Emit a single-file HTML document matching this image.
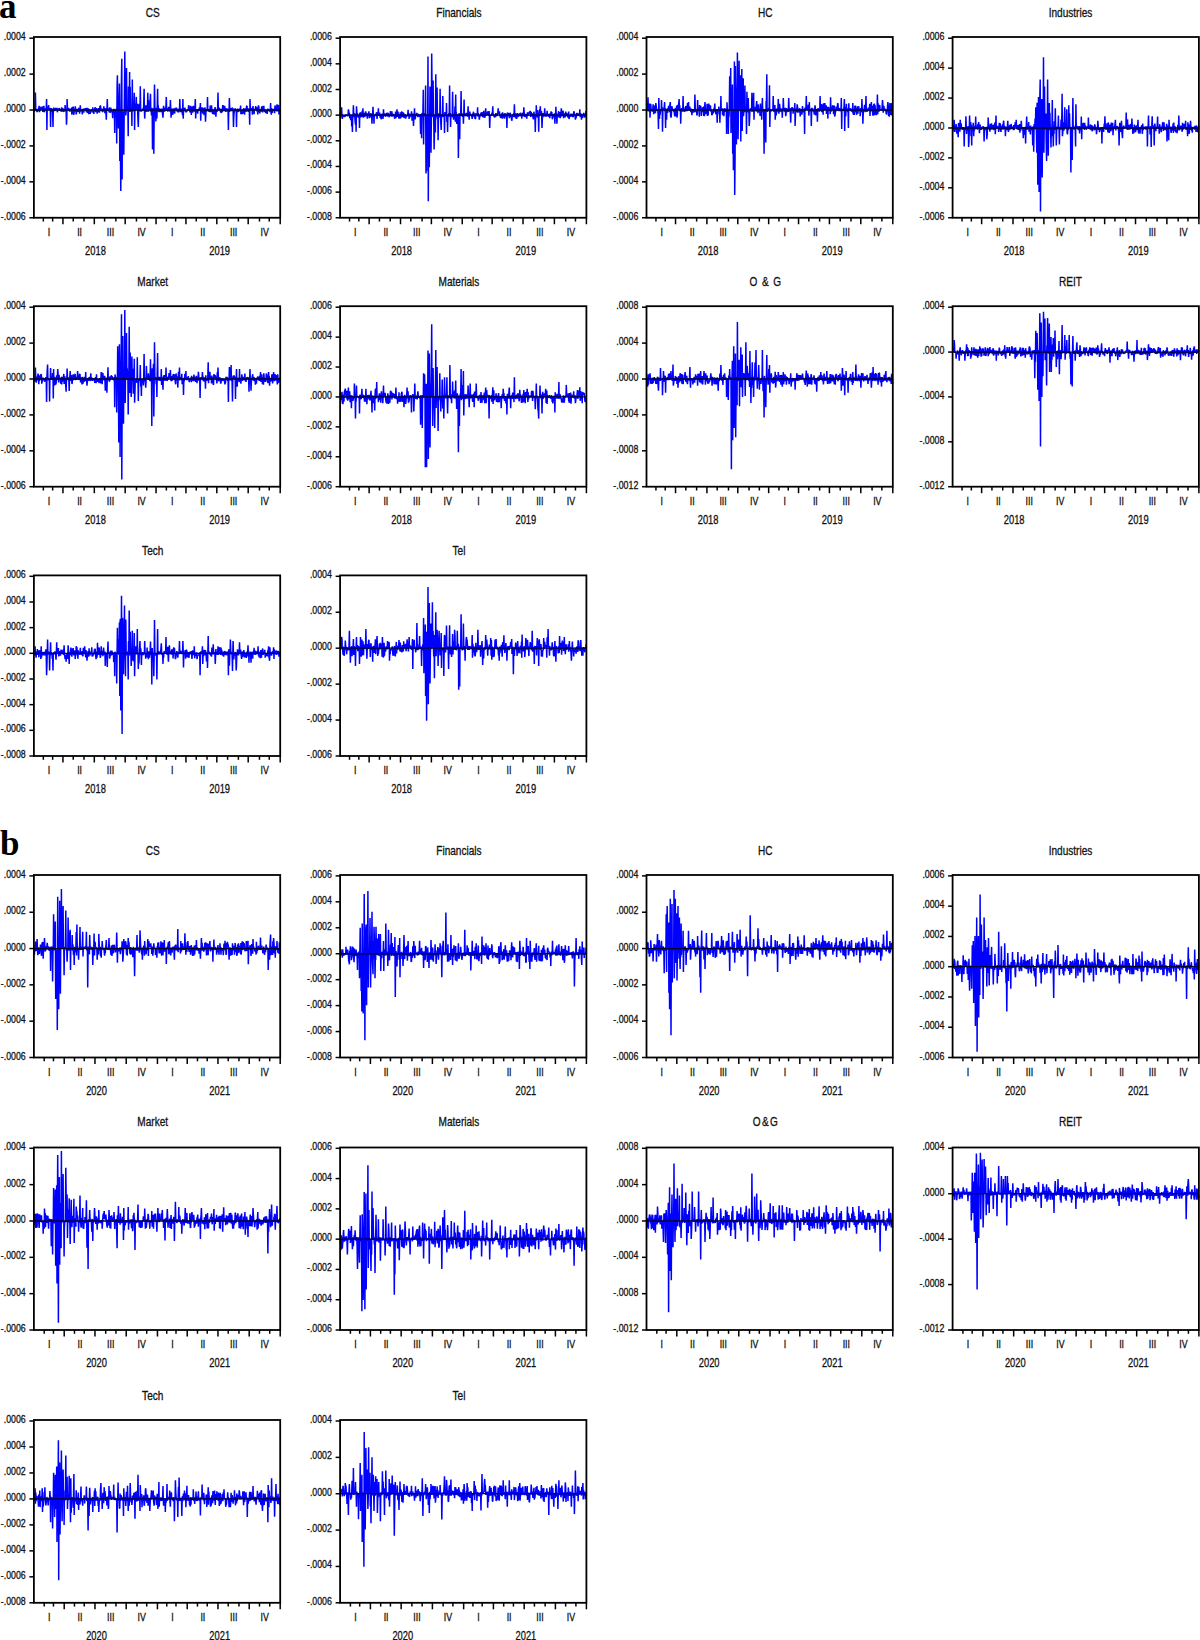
<!DOCTYPE html><html><head><meta charset="utf-8"><style>
html,body{margin:0;padding:0;background:#fff;overflow:hidden;width:1200px;height:1640px;}
svg{display:block;}
.t{font-size:12.6px;}
.yl{font-size:11px;}
.r{font-size:11px;}
.yr{font-size:12.2px;}
text{font-family:"Liberation Sans",sans-serif;fill:#111;stroke:#111;stroke-width:0.3px;}
.big{font-family:"Liberation Serif",serif;font-weight:bold;font-size:35px;fill:#000;stroke:none;}
.f{fill:none;stroke:#000;stroke-width:1.8;}
.k{stroke:#000;stroke-width:1.5;}
.z{stroke:#000028;stroke-width:1.3;}
.d{fill:none;stroke:#0000ff;stroke-width:1.5;stroke-linejoin:bevel;}
</style></head><body><svg width="1200" height="1640" viewBox="0 0 1200 1640"><text x="-1" y="17.6" class="big">a</text>
<text x="0" y="855.3" class="big">b</text>
<text transform="translate(152.75 17.00) scale(0.8 1)" class="t" text-anchor="middle">CS</text>
<polyline class="d" points="34.1,110.8 34.4,111.6 34.7,109.2 35.1,110.3 35.4,92.4 35.8,109.7 36.1,110.5 36.4,109.3 36.8,111.4 37.1,111.5 37.4,112.0 37.8,108.9 38.1,110.0 38.5,110.3 38.8,107.9 39.1,105.9 39.5,112.2 39.8,110.3 40.1,108.4 40.5,109.8 40.8,107.4 41.2,107.0 41.5,107.6 41.8,109.0 42.2,106.8 42.5,109.5 42.8,111.9 43.2,106.0 43.5,110.6 43.9,105.9 44.2,111.4 44.5,112.2 44.9,108.4 45.2,110.5 45.5,108.8 45.9,110.4 46.2,109.4 46.6,99.0 46.9,130.0 47.2,108.3 47.6,106.5 47.9,110.2 48.2,108.9 48.6,105.0 48.9,109.2 49.3,108.2 49.6,109.4 49.9,107.8 50.3,110.0 50.6,126.9 50.9,110.8 51.3,108.0 51.6,111.8 52.0,109.0 52.3,111.6 52.6,110.4 53.0,126.9 53.3,108.7 53.6,108.0 54.0,108.2 54.3,110.5 54.6,110.8 55.0,110.3 55.3,109.1 55.7,108.4 56.0,108.3 56.3,108.8 56.7,109.9 57.0,107.8 57.3,112.2 57.7,110.7 58.0,109.2 58.4,110.2 58.7,108.8 59.0,108.5 59.4,108.3 59.7,108.8 60.0,110.8 60.4,110.1 60.7,109.8 61.1,110.6 61.4,111.8 61.7,107.4 62.1,110.2 62.4,111.5 62.7,109.9 63.1,108.3 63.4,111.6 63.8,111.4 64.1,110.6 64.4,111.0 64.8,111.2 65.1,105.0 65.4,109.0 65.8,109.8 66.1,109.0 66.5,124.8 66.8,118.3 67.1,99.0 67.5,109.9 67.8,109.8 68.1,110.2 68.5,107.9 68.8,110.1 69.2,108.6 69.5,111.6 69.8,110.0 70.2,111.1 70.5,110.7 70.8,110.1 71.2,108.5 71.5,108.5 71.9,114.6 72.2,107.0 72.5,110.1 72.9,111.7 73.2,106.5 73.5,113.7 73.9,114.7 74.2,111.5 74.6,111.0 74.9,110.4 75.2,106.4 75.6,108.1 75.9,110.5 76.2,114.4 76.6,112.5 76.9,109.6 77.3,109.8 77.6,109.3 77.9,111.8 78.3,109.5 78.6,107.9 78.9,111.3 79.3,109.8 79.6,113.8 80.0,109.3 80.3,105.2 80.6,111.5 81.0,110.5 81.3,109.7 81.6,109.2 82.0,110.3 82.3,114.4 82.7,110.9 83.0,111.3 83.3,108.5 83.7,112.6 84.0,110.9 84.3,109.7 84.7,108.6 85.0,110.3 85.4,109.1 85.7,108.2 86.0,108.5 86.4,112.1 86.7,111.1 87.0,107.8 87.4,112.9 87.7,111.2 88.1,110.0 88.4,108.2 88.7,114.1 89.1,109.3 89.4,111.2 89.7,110.1 90.1,113.8 90.4,112.8 90.8,112.0 91.1,110.5 91.4,110.0 91.8,111.4 92.1,109.5 92.4,111.7 92.8,107.2 93.1,113.0 93.5,111.3 93.8,113.8 94.1,111.1 94.5,110.3 94.8,108.6 95.1,107.5 95.5,108.0 95.8,112.3 96.1,108.5 96.5,109.7 96.8,108.1 97.2,113.7 97.5,109.7 97.8,112.3 98.2,110.5 98.5,110.7 98.8,108.2 99.2,110.4 99.5,112.6 99.9,106.0 100.2,108.9 100.5,105.3 100.9,109.9 101.2,111.0 101.5,110.0 101.9,108.5 102.2,111.0 102.6,111.5 102.9,112.0 103.2,110.0 103.6,108.9 103.9,106.4 104.2,110.9 104.6,108.1 104.9,113.3 105.3,110.8 105.6,108.4 105.9,110.6 106.3,119.7 106.6,111.3 106.9,110.3 107.3,99.0 107.6,110.8 108.0,109.8 108.3,108.3 108.6,108.9 109.0,111.4 109.3,112.3 109.6,107.3 110.0,110.5 110.3,112.9 110.7,107.8 111.0,109.0 111.3,112.2 111.7,110.3 112.0,110.5 112.3,111.8 112.7,118.3 113.0,111.0 113.4,111.0 113.7,109.3 114.0,109.3 114.4,111.2 114.7,133.1 115.0,112.0 115.4,110.5 115.7,110.8 116.1,111.4 116.4,108.7 116.7,143.4 117.1,86.5 117.4,75.2 117.7,108.1 118.1,108.7 118.4,128.5 118.8,110.2 119.1,96.5 119.4,83.5 119.8,161.0 120.1,110.8 120.4,149.3 120.8,191.0 121.1,110.1 121.5,74.6 121.8,58.7 122.1,179.6 122.5,110.6 122.8,114.8 123.1,112.1 123.5,115.5 123.8,154.8 124.2,110.3 124.5,87.6 124.8,51.5 125.2,108.3 125.5,106.6 125.8,115.4 126.2,110.9 126.5,68.0 126.9,109.7 127.2,109.4 127.5,108.6 127.9,110.9 128.2,136.2 128.5,86.6 128.9,110.5 129.2,109.4 129.6,72.1 129.9,112.0 130.2,87.0 130.6,111.4 130.9,108.3 131.2,108.4 131.6,109.6 131.9,125.9 132.3,79.4 132.6,109.8 132.9,108.7 133.3,111.5 133.6,109.5 133.9,109.3 134.3,92.8 134.6,130.0 135.0,103.6 135.3,109.0 135.6,110.4 136.0,105.8 136.3,96.9 136.6,107.9 137.0,108.6 137.3,103.9 137.6,109.4 138.0,121.2 138.3,126.9 138.7,109.7 139.0,103.7 139.3,111.3 139.7,109.1 140.0,110.3 140.3,86.2 140.7,110.5 141.0,111.6 141.4,109.8 141.7,111.2 142.0,110.5 142.4,110.1 142.7,109.2 143.0,108.5 143.4,110.3 143.7,105.5 144.1,88.7 144.4,109.1 144.7,118.6 145.1,110.7 145.4,105.3 145.7,112.0 146.1,109.3 146.4,111.8 146.8,105.3 147.1,108.9 147.4,108.7 147.8,92.8 148.1,112.1 148.4,100.0 148.8,110.0 149.1,109.1 149.5,110.4 149.8,110.9 150.1,100.6 150.5,93.8 150.8,111.7 151.1,108.4 151.5,115.5 151.8,108.0 152.2,109.0 152.5,149.6 152.8,108.7 153.2,109.3 153.5,109.9 153.8,153.8 154.2,110.5 154.5,84.5 154.9,108.2 155.2,110.9 155.5,111.8 155.9,121.4 156.2,108.9 156.5,107.9 156.9,118.6 157.2,108.6 157.6,88.7 157.9,109.6 158.2,105.2 158.6,111.6 158.9,110.4 159.2,112.2 159.6,108.3 159.9,110.4 160.3,112.0 160.6,109.0 160.9,111.1 161.3,108.8 161.6,112.2 161.9,110.9 162.3,108.5 162.6,114.7 163.0,117.6 163.3,109.6 163.6,105.9 164.0,110.1 164.3,111.8 164.6,107.8 165.0,108.9 165.3,110.7 165.7,110.8 166.0,105.1 166.3,96.9 166.7,110.7 167.0,109.8 167.3,108.4 167.7,111.2 168.0,111.1 168.4,108.6 168.7,106.8 169.0,109.5 169.4,110.9 169.7,110.3 170.0,111.7 170.4,100.0 170.7,108.2 171.1,117.6 171.4,108.8 171.7,111.8 172.1,108.6 172.4,111.1 172.7,114.9 173.1,109.4 173.4,108.6 173.8,112.8 174.1,108.8 174.4,113.5 174.8,112.8 175.1,107.8 175.4,109.7 175.8,108.9 176.1,108.3 176.5,107.9 176.8,110.2 177.1,111.7 177.5,108.8 177.8,110.7 178.1,112.0 178.5,112.2 178.8,109.5 179.1,108.8 179.5,109.6 179.8,99.0 180.2,112.2 180.5,110.0 180.8,112.0 181.2,110.2 181.5,108.5 181.8,112.0 182.2,112.0 182.5,115.2 182.9,99.0 183.2,118.6 183.5,110.6 183.9,108.1 184.2,110.4 184.5,110.4 184.9,107.6 185.2,111.2 185.6,111.4 185.9,111.8 186.2,112.1 186.6,111.3 186.9,111.3 187.2,110.6 187.6,110.6 187.9,110.2 188.3,110.4 188.6,105.3 188.9,106.5 189.3,110.6 189.6,107.2 189.9,112.4 190.3,108.8 190.6,105.9 191.0,108.3 191.3,114.9 191.6,110.3 192.0,106.6 192.3,111.7 192.6,112.6 193.0,111.0 193.3,105.9 193.7,108.5 194.0,109.1 194.3,111.7 194.7,108.6 195.0,106.2 195.3,99.0 195.7,118.6 196.0,109.5 196.4,110.6 196.7,112.2 197.0,109.3 197.4,111.6 197.7,113.7 198.0,109.8 198.4,110.6 198.7,110.8 199.1,108.9 199.4,107.8 199.7,107.9 200.1,109.0 200.4,103.1 200.7,120.7 201.1,107.7 201.4,109.4 201.8,107.9 202.1,107.5 202.4,111.7 202.8,113.5 203.1,107.8 203.4,110.1 203.8,109.0 204.1,115.3 204.5,108.8 204.8,108.0 205.1,107.6 205.5,121.7 205.8,115.5 206.1,109.4 206.5,111.7 206.8,110.3 207.2,110.8 207.5,96.9 207.8,110.4 208.2,109.5 208.5,111.1 208.8,111.3 209.2,109.1 209.5,111.2 209.9,111.9 210.2,105.5 210.5,112.1 210.9,110.8 211.2,109.9 211.5,105.3 211.9,109.9 212.2,112.0 212.6,113.5 212.9,113.4 213.2,110.0 213.6,110.5 213.9,113.3 214.2,114.7 214.6,109.9 214.9,108.2 215.3,107.4 215.6,110.7 215.9,116.6 216.3,110.3 216.6,111.7 216.9,110.9 217.3,111.2 217.6,110.8 218.0,92.4 218.3,108.3 218.6,109.7 219.0,108.7 219.3,108.3 219.6,108.2 220.0,111.1 220.3,109.0 220.6,112.3 221.0,112.0 221.3,113.0 221.7,110.6 222.0,108.6 222.3,112.1 222.7,105.1 223.0,106.7 223.3,105.3 223.7,109.4 224.0,111.2 224.4,106.9 224.7,105.8 225.0,109.7 225.4,110.1 225.7,111.8 226.0,109.5 226.4,108.3 226.7,111.3 227.1,110.8 227.4,108.7 227.7,109.5 228.1,111.8 228.4,130.0 228.7,112.1 229.1,107.9 229.4,98.0 229.8,112.0 230.1,108.4 230.4,107.8 230.8,110.6 231.1,107.8 231.4,109.6 231.8,111.1 232.1,108.7 232.5,108.1 232.8,108.0 233.1,109.9 233.5,126.9 233.8,117.2 234.1,112.6 234.5,111.1 234.8,109.6 235.2,108.3 235.5,111.0 235.8,109.8 236.2,110.6 236.5,126.9 236.8,111.5 237.2,109.8 237.5,108.6 237.9,110.1 238.2,111.9 238.5,111.4 238.9,110.4 239.2,109.5 239.5,108.7 239.9,110.3 240.2,111.4 240.6,105.5 240.9,114.1 241.2,112.5 241.6,114.1 241.9,110.0 242.2,114.2 242.6,112.4 242.9,113.5 243.3,111.2 243.6,108.8 243.9,108.3 244.3,110.8 244.6,114.8 244.9,109.1 245.3,111.3 245.6,108.3 246.0,111.9 246.3,109.2 246.6,106.1 247.0,106.0 247.3,108.5 247.6,108.1 248.0,111.7 248.3,111.2 248.7,108.5 249.0,109.1 249.3,110.2 249.7,124.8 250.0,99.0 250.3,108.0 250.7,108.8 251.0,109.7 251.4,109.7 251.7,108.7 252.0,108.3 252.4,114.8 252.7,108.1 253.0,106.1 253.4,111.5 253.7,109.4 254.1,114.2 254.4,109.0 254.7,109.4 255.1,109.8 255.4,109.2 255.7,106.1 256.1,109.2 256.4,108.5 256.8,107.3 257.1,111.8 257.4,108.9 257.8,114.4 258.1,110.8 258.4,105.4 258.8,106.6 259.1,111.7 259.5,111.1 259.8,113.5 260.1,110.1 260.5,110.2 260.8,111.3 261.1,110.8 261.5,107.8 261.8,106.3 262.1,110.8 262.5,112.1 262.8,111.8 263.2,105.8 263.5,111.4 263.8,105.8 264.2,111.0 264.5,109.3 264.8,111.9 265.2,111.6 265.5,112.2 265.9,113.0 266.2,111.5 266.5,110.2 266.9,110.6 267.2,113.9 267.5,110.0 267.9,108.8 268.2,109.7 268.6,110.1 268.9,110.6 269.2,110.8 269.6,110.9 269.9,110.5 270.2,112.2 270.6,103.1 270.9,111.7 271.3,114.7 271.6,108.2 271.9,110.3 272.3,112.9 272.6,110.3 272.9,111.1 273.3,109.7 273.6,109.5 274.0,110.3 274.3,108.5 274.6,113.1 275.0,105.5 275.3,106.7 275.6,110.9 276.0,108.3 276.3,106.8 276.7,111.5 277.0,104.2 277.3,108.5 277.7,108.6 278.0,111.5 278.3,106.0 278.7,105.1 279.0,114.5 279.4,110.8 279.7,111.5 280.0,108.0"/>
<line x1="33.90" y1="110.02" x2="280.20" y2="110.02" class="z"/>
<rect x="33.90" y="37.00" width="246.30" height="180.75" class="f"/>
<line x1="29.40" y1="38.20" x2="33.90" y2="38.20" class="k"/>
<text transform="translate(25.70 40.20) scale(0.8 1)" class="yl" text-anchor="end">.0004</text>
<line x1="29.40" y1="74.11" x2="33.90" y2="74.11" class="k"/>
<text transform="translate(25.70 76.11) scale(0.8 1)" class="yl" text-anchor="end">.0002</text>
<line x1="29.40" y1="110.02" x2="33.90" y2="110.02" class="k"/>
<text transform="translate(25.70 112.02) scale(0.8 1)" class="yl" text-anchor="end">.0000</text>
<line x1="29.40" y1="145.93" x2="33.90" y2="145.93" class="k"/>
<text transform="translate(25.70 147.93) scale(0.8 1)" class="yl" text-anchor="end">-.0002</text>
<line x1="29.40" y1="181.84" x2="33.90" y2="181.84" class="k"/>
<text transform="translate(25.70 183.84) scale(0.8 1)" class="yl" text-anchor="end">-.0004</text>
<line x1="29.40" y1="217.75" x2="33.90" y2="217.75" class="k"/>
<text transform="translate(25.70 219.75) scale(0.8 1)" class="yl" text-anchor="end">-.0006</text>
<line x1="43.34" y1="217.75" x2="43.34" y2="221.55" class="k"/>
<line x1="52.65" y1="217.75" x2="52.65" y2="221.55" class="k"/>
<line x1="62.94" y1="217.75" x2="62.94" y2="224.25" class="k"/>
<line x1="73.23" y1="217.75" x2="73.23" y2="221.55" class="k"/>
<line x1="84.02" y1="217.75" x2="84.02" y2="221.55" class="k"/>
<line x1="94.31" y1="217.75" x2="94.31" y2="224.25" class="k"/>
<line x1="104.60" y1="217.75" x2="104.60" y2="221.55" class="k"/>
<line x1="115.87" y1="217.75" x2="115.87" y2="221.55" class="k"/>
<line x1="125.18" y1="217.75" x2="125.18" y2="224.25" class="k"/>
<line x1="136.45" y1="217.75" x2="136.45" y2="221.55" class="k"/>
<line x1="146.74" y1="217.75" x2="146.74" y2="221.55" class="k"/>
<line x1="156.05" y1="217.75" x2="156.05" y2="224.25" class="k"/>
<line x1="166.35" y1="217.75" x2="166.35" y2="221.55" class="k"/>
<line x1="175.66" y1="217.75" x2="175.66" y2="221.55" class="k"/>
<line x1="185.95" y1="217.75" x2="185.95" y2="224.25" class="k"/>
<line x1="196.24" y1="217.75" x2="196.24" y2="221.55" class="k"/>
<line x1="207.02" y1="217.75" x2="207.02" y2="221.55" class="k"/>
<line x1="216.82" y1="217.75" x2="216.82" y2="224.25" class="k"/>
<line x1="227.60" y1="217.75" x2="227.60" y2="221.55" class="k"/>
<line x1="238.38" y1="217.75" x2="238.38" y2="221.55" class="k"/>
<line x1="248.19" y1="217.75" x2="248.19" y2="224.25" class="k"/>
<line x1="259.46" y1="217.75" x2="259.46" y2="221.55" class="k"/>
<line x1="269.26" y1="217.75" x2="269.26" y2="221.55" class="k"/>
<line x1="280.20" y1="217.75" x2="280.20" y2="224.25" class="k"/>
<text transform="translate(49.08 235.95) scale(0.8 1)" class="r" text-anchor="middle">I</text>
<text transform="translate(79.62 235.95) scale(0.8 1)" class="r" text-anchor="middle">II</text>
<text transform="translate(110.49 235.95) scale(0.8 1)" class="r" text-anchor="middle">III</text>
<text transform="translate(141.53 235.95) scale(0.8 1)" class="r" text-anchor="middle">IV</text>
<text transform="translate(95.47 254.75) scale(0.765 1)" class="yr" text-anchor="middle">2018</text>
<text transform="translate(172.23 235.95) scale(0.8 1)" class="r" text-anchor="middle">I</text>
<text transform="translate(202.77 235.95) scale(0.8 1)" class="r" text-anchor="middle">II</text>
<text transform="translate(233.64 235.95) scale(0.8 1)" class="r" text-anchor="middle">III</text>
<text transform="translate(264.68 235.95) scale(0.8 1)" class="r" text-anchor="middle">IV</text>
<text transform="translate(219.63 254.75) scale(0.765 1)" class="yr" text-anchor="middle">2019</text>
<text transform="translate(458.95 17.00) scale(0.8 1)" class="t" text-anchor="middle">Financials</text>
<polyline class="d" points="340.3,112.5 340.6,117.2 340.9,114.9 341.3,113.1 341.6,107.3 342.0,116.8 342.3,119.0 342.6,114.6 343.0,117.0 343.3,116.4 343.6,116.6 344.0,115.1 344.3,116.8 344.7,116.1 345.0,116.9 345.3,115.5 345.7,114.7 346.0,115.1 346.3,114.5 346.7,115.6 347.0,115.6 347.4,116.0 347.7,115.1 348.0,116.2 348.4,109.3 348.7,110.7 349.0,113.0 349.4,113.1 349.7,118.3 350.1,115.0 350.4,114.9 350.7,120.1 351.1,115.9 351.4,114.6 351.7,126.6 352.1,117.3 352.4,132.1 352.8,115.8 353.1,115.0 353.4,105.2 353.8,117.3 354.1,113.1 354.4,117.0 354.8,116.3 355.1,120.9 355.5,124.7 355.8,113.4 356.1,131.7 356.5,106.2 356.8,111.2 357.1,116.6 357.5,113.5 357.8,114.5 358.2,117.7 358.5,117.0 358.8,115.0 359.2,117.2 359.5,127.9 359.8,112.7 360.2,113.1 360.5,117.5 360.8,113.0 361.2,112.7 361.5,116.5 361.9,116.7 362.2,110.8 362.5,117.3 362.9,108.3 363.2,115.0 363.5,117.7 363.9,114.9 364.2,112.9 364.6,114.0 364.9,117.0 365.2,114.1 365.6,111.4 365.9,113.0 366.2,113.3 366.6,113.8 366.9,114.2 367.3,118.6 367.6,114.4 367.9,114.3 368.3,113.2 368.6,114.6 368.9,111.2 369.3,118.1 369.6,116.5 370.0,116.8 370.3,117.2 370.6,113.2 371.0,115.9 371.3,113.5 371.6,115.7 372.0,123.8 372.3,114.5 372.7,113.3 373.0,106.9 373.3,113.7 373.7,115.3 374.0,123.8 374.3,114.7 374.7,116.0 375.0,115.9 375.4,114.5 375.7,114.0 376.0,116.0 376.4,113.1 376.7,112.2 377.0,118.9 377.4,114.4 377.7,115.7 378.1,113.8 378.4,108.3 378.7,115.5 379.1,115.2 379.4,113.8 379.7,112.5 380.1,117.7 380.4,114.5 380.8,115.2 381.1,119.1 381.4,118.5 381.8,114.7 382.1,113.7 382.4,114.7 382.8,116.5 383.1,118.8 383.5,109.3 383.8,115.4 384.1,114.1 384.5,116.0 384.8,113.2 385.1,116.3 385.5,116.1 385.8,114.4 386.2,113.5 386.5,116.2 386.8,112.7 387.2,116.5 387.5,114.9 387.8,116.2 388.2,112.9 388.5,115.6 388.9,115.0 389.2,117.3 389.5,114.1 389.9,114.4 390.2,113.8 390.5,111.2 390.9,114.4 391.2,116.6 391.6,113.5 391.9,111.3 392.2,116.6 392.6,115.1 392.9,116.5 393.2,114.4 393.6,114.0 393.9,116.2 394.3,114.8 394.6,118.8 394.9,117.2 395.3,117.2 395.6,111.5 395.9,118.0 396.3,116.6 396.6,114.2 397.0,109.3 397.3,114.6 397.6,117.0 398.0,111.6 398.3,114.7 398.6,117.0 399.0,118.6 399.3,114.0 399.7,115.3 400.0,118.8 400.3,112.4 400.7,118.0 401.0,116.3 401.3,116.8 401.7,111.2 402.0,116.0 402.3,116.9 402.7,112.1 403.0,113.1 403.4,117.3 403.7,112.9 404.0,118.0 404.4,116.9 404.7,116.9 405.0,114.7 405.4,114.7 405.7,118.7 406.1,116.6 406.4,115.4 406.7,116.0 407.1,116.4 407.4,115.2 407.7,114.8 408.1,109.7 408.4,116.3 408.8,113.2 409.1,119.0 409.4,113.7 409.8,114.8 410.1,117.1 410.4,115.4 410.8,114.5 411.1,116.3 411.5,111.2 411.8,115.3 412.1,120.8 412.5,115.3 412.8,113.6 413.1,116.0 413.5,125.9 413.8,118.6 414.2,116.8 414.5,108.3 414.8,116.3 415.2,119.5 415.5,117.1 415.8,114.9 416.2,115.8 416.5,113.0 416.9,113.6 417.2,114.1 417.5,114.5 417.9,117.2 418.2,114.6 418.5,113.8 418.9,116.0 419.2,116.1 419.6,116.4 419.9,116.1 420.2,114.4 420.6,134.1 420.9,117.0 421.2,114.2 421.6,138.3 421.9,113.8 422.3,113.3 422.6,117.0 422.9,113.2 423.3,89.7 423.6,144.5 423.9,116.4 424.3,114.3 424.6,116.1 425.0,113.1 425.3,116.5 425.6,85.6 426.0,173.4 426.3,135.9 426.6,171.3 427.0,114.6 427.3,115.9 427.7,115.9 428.0,56.6 428.3,201.3 428.7,114.7 429.0,117.2 429.3,167.2 429.7,117.1 430.0,86.6 430.4,116.1 430.7,100.4 431.0,152.7 431.4,115.3 431.7,53.5 432.0,84.8 432.4,116.6 432.7,116.5 433.1,80.4 433.4,114.0 433.7,116.2 434.1,149.6 434.4,136.3 434.7,115.3 435.1,114.6 435.4,132.5 435.8,74.2 436.1,115.1 436.4,117.0 436.8,115.8 437.1,87.6 437.4,119.6 437.8,114.6 438.1,140.3 438.5,115.1 438.8,113.4 439.1,117.3 439.5,115.2 439.8,115.5 440.1,88.7 440.5,115.6 440.8,122.7 441.2,130.0 441.5,115.8 441.8,114.3 442.2,117.0 442.5,116.1 442.8,95.9 443.2,116.6 443.5,116.0 443.8,116.7 444.2,114.3 444.5,133.1 444.9,112.0 445.2,115.7 445.5,115.5 445.9,113.1 446.2,116.2 446.5,103.1 446.9,122.1 447.2,114.9 447.6,132.1 447.9,117.3 448.2,115.3 448.6,114.5 448.9,113.1 449.2,116.8 449.6,85.6 449.9,113.4 450.3,113.2 450.6,126.9 450.9,115.1 451.3,115.2 451.6,116.0 451.9,116.9 452.3,113.5 452.6,91.8 453.0,116.1 453.3,116.6 453.6,119.7 454.0,113.7 454.3,115.4 454.6,116.3 455.0,106.3 455.3,121.7 455.7,94.5 456.0,116.2 456.3,112.3 456.7,124.0 457.0,114.0 457.3,115.8 457.7,114.6 458.0,117.0 458.4,157.9 458.7,116.6 459.0,113.2 459.4,115.9 459.7,139.3 460.0,114.2 460.4,114.4 460.7,115.6 461.1,91.1 461.4,114.0 461.7,115.6 462.1,113.3 462.4,116.9 462.7,114.5 463.1,113.9 463.4,123.8 463.8,113.7 464.1,99.4 464.4,114.7 464.8,116.1 465.1,114.0 465.4,115.6 465.8,115.8 466.1,113.2 466.5,113.6 466.8,113.2 467.1,116.2 467.5,116.1 467.8,114.6 468.1,106.2 468.5,114.1 468.8,115.0 469.2,119.7 469.5,114.2 469.8,111.6 470.2,115.5 470.5,113.7 470.8,115.3 471.2,114.3 471.5,115.9 471.9,116.7 472.2,118.9 472.5,116.9 472.9,113.3 473.2,114.3 473.5,111.7 473.9,115.7 474.2,116.4 474.6,113.4 474.9,118.0 475.2,118.5 475.6,118.9 475.9,114.0 476.2,113.6 476.6,114.3 476.9,113.5 477.3,114.6 477.6,107.3 477.9,116.4 478.3,113.5 478.6,114.7 478.9,115.6 479.3,119.6 479.6,117.7 480.0,115.3 480.3,114.7 480.6,115.0 481.0,112.6 481.3,116.0 481.6,115.3 482.0,112.0 482.3,116.5 482.7,116.3 483.0,116.6 483.3,116.8 483.7,110.9 484.0,117.5 484.3,117.1 484.7,114.6 485.0,117.8 485.3,113.4 485.7,108.3 486.0,115.2 486.4,114.0 486.7,115.1 487.0,113.7 487.4,113.2 487.7,111.3 488.0,114.4 488.4,114.7 488.7,115.6 489.1,111.1 489.4,116.5 489.7,127.9 490.1,116.8 490.4,114.6 490.7,115.5 491.1,115.3 491.4,115.2 491.8,113.6 492.1,112.6 492.4,113.4 492.8,106.2 493.1,115.4 493.4,114.5 493.8,114.0 494.1,116.8 494.5,116.9 494.8,117.1 495.1,116.4 495.5,116.8 495.8,113.0 496.1,116.5 496.5,113.3 496.8,116.1 497.2,113.5 497.5,115.5 497.8,113.0 498.2,108.3 498.5,113.8 498.8,113.5 499.2,113.0 499.5,111.3 499.9,116.3 500.2,115.9 500.5,117.9 500.9,117.0 501.2,116.2 501.5,114.6 501.9,113.6 502.2,118.6 502.6,112.4 502.9,114.2 503.2,116.3 503.6,113.9 503.9,118.1 504.2,116.1 504.6,118.6 504.9,113.1 505.3,116.9 505.6,114.6 505.9,113.9 506.3,116.4 506.6,115.5 506.9,127.9 507.3,112.6 507.6,116.4 508.0,113.2 508.3,113.8 508.6,113.7 509.0,113.4 509.3,118.3 509.6,114.1 510.0,115.2 510.3,112.7 510.7,117.2 511.0,116.9 511.3,116.7 511.7,120.7 512.0,119.6 512.3,114.5 512.7,116.8 513.0,114.3 513.4,115.7 513.7,113.1 514.0,117.3 514.4,104.2 514.7,113.6 515.0,116.7 515.4,117.1 515.7,113.3 516.1,118.7 516.4,114.7 516.7,118.8 517.1,116.0 517.4,113.0 517.7,116.9 518.1,116.4 518.4,114.1 518.8,115.9 519.1,116.1 519.4,113.3 519.8,115.2 520.1,116.1 520.4,112.7 520.8,115.5 521.1,116.3 521.5,114.7 521.8,118.6 522.1,113.9 522.5,112.8 522.8,116.4 523.1,114.8 523.5,116.4 523.8,107.3 524.2,112.2 524.5,116.5 524.8,116.6 525.2,115.3 525.5,115.5 525.8,114.0 526.2,116.9 526.5,117.3 526.8,118.6 527.2,113.8 527.5,112.3 527.9,115.7 528.2,114.6 528.5,113.0 528.9,114.2 529.2,112.4 529.5,111.8 529.9,113.5 530.2,110.9 530.6,116.9 530.9,113.5 531.2,111.7 531.6,116.3 531.9,115.1 532.2,113.5 532.6,114.4 532.9,117.2 533.3,119.0 533.6,118.8 533.9,111.7 534.3,115.1 534.6,117.1 534.9,114.4 535.3,132.1 535.6,117.1 536.0,116.4 536.3,105.2 536.6,115.3 537.0,117.3 537.3,115.3 537.6,110.0 538.0,113.4 538.3,113.4 538.7,131.7 539.0,115.3 539.3,116.1 539.7,109.4 540.0,114.5 540.3,106.2 540.7,114.5 541.0,115.6 541.4,111.1 541.7,116.4 542.0,127.9 542.4,117.1 542.7,117.8 543.0,113.1 543.4,116.0 543.7,115.7 544.1,116.4 544.4,113.8 544.7,108.3 545.1,115.4 545.4,115.0 545.7,116.7 546.1,113.5 546.4,116.5 546.8,114.9 547.1,110.7 547.4,113.8 547.8,115.8 548.1,115.5 548.4,115.4 548.8,116.7 549.1,113.9 549.5,115.6 549.8,118.1 550.1,113.8 550.5,113.7 550.8,113.6 551.1,111.3 551.5,115.5 551.8,112.0 552.2,117.8 552.5,119.3 552.8,115.5 553.2,114.0 553.5,116.5 553.8,116.3 554.2,117.2 554.5,113.2 554.9,123.8 555.2,115.5 555.5,116.4 555.9,106.9 556.2,115.7 556.5,113.2 556.9,123.8 557.2,116.9 557.6,116.6 557.9,115.7 558.2,115.0 558.6,111.2 558.9,117.0 559.2,117.0 559.6,113.3 559.9,112.1 560.3,118.1 560.6,113.7 560.9,113.8 561.3,108.3 561.6,116.3 561.9,115.0 562.3,115.1 562.6,114.5 563.0,110.7 563.3,113.3 563.6,118.1 564.0,113.5 564.3,114.1 564.6,116.5 565.0,117.0 565.3,116.5 565.7,111.6 566.0,112.7 566.3,113.4 566.7,113.7 567.0,116.2 567.3,113.6 567.7,117.1 568.0,117.0 568.3,114.7 568.7,111.5 569.0,119.0 569.4,117.2 569.7,114.9 570.0,116.9 570.4,114.7 570.7,115.4 571.0,113.7 571.4,116.7 571.7,114.2 572.1,116.7 572.4,113.8 572.7,117.2 573.1,115.4 573.4,117.2 573.7,112.1 574.1,111.3 574.4,114.6 574.8,114.2 575.1,114.5 575.4,119.7 575.8,114.1 576.1,118.1 576.4,114.6 576.8,113.0 577.1,113.6 577.5,113.3 577.8,115.4 578.1,115.7 578.5,114.4 578.8,114.0 579.1,113.6 579.5,114.1 579.8,109.3 580.2,117.3 580.5,113.3 580.8,114.0 581.2,114.3 581.5,119.6 581.8,116.5 582.2,114.4 582.5,117.9 582.9,114.2 583.2,115.6 583.5,113.1 583.9,113.4 584.2,114.8 584.5,117.7 584.9,114.4 585.2,117.0 585.6,114.8 585.9,111.0 586.2,116.5"/>
<line x1="340.10" y1="115.15" x2="586.40" y2="115.15" class="z"/>
<rect x="340.10" y="37.00" width="246.30" height="180.75" class="f"/>
<line x1="335.60" y1="38.20" x2="340.10" y2="38.20" class="k"/>
<text transform="translate(331.90 40.20) scale(0.8 1)" class="yl" text-anchor="end">.0006</text>
<line x1="335.60" y1="63.85" x2="340.10" y2="63.85" class="k"/>
<text transform="translate(331.90 65.85) scale(0.8 1)" class="yl" text-anchor="end">.0004</text>
<line x1="335.60" y1="89.50" x2="340.10" y2="89.50" class="k"/>
<text transform="translate(331.90 91.50) scale(0.8 1)" class="yl" text-anchor="end">.0002</text>
<line x1="335.60" y1="115.15" x2="340.10" y2="115.15" class="k"/>
<text transform="translate(331.90 117.15) scale(0.8 1)" class="yl" text-anchor="end">.0000</text>
<line x1="335.60" y1="140.80" x2="340.10" y2="140.80" class="k"/>
<text transform="translate(331.90 142.80) scale(0.8 1)" class="yl" text-anchor="end">-.0002</text>
<line x1="335.60" y1="166.45" x2="340.10" y2="166.45" class="k"/>
<text transform="translate(331.90 168.45) scale(0.8 1)" class="yl" text-anchor="end">-.0004</text>
<line x1="335.60" y1="192.10" x2="340.10" y2="192.10" class="k"/>
<text transform="translate(331.90 194.10) scale(0.8 1)" class="yl" text-anchor="end">-.0006</text>
<line x1="335.60" y1="217.75" x2="340.10" y2="217.75" class="k"/>
<text transform="translate(331.90 219.75) scale(0.8 1)" class="yl" text-anchor="end">-.0008</text>
<line x1="349.54" y1="217.75" x2="349.54" y2="221.55" class="k"/>
<line x1="358.85" y1="217.75" x2="358.85" y2="221.55" class="k"/>
<line x1="369.14" y1="217.75" x2="369.14" y2="224.25" class="k"/>
<line x1="379.43" y1="217.75" x2="379.43" y2="221.55" class="k"/>
<line x1="390.22" y1="217.75" x2="390.22" y2="221.55" class="k"/>
<line x1="400.51" y1="217.75" x2="400.51" y2="224.25" class="k"/>
<line x1="410.80" y1="217.75" x2="410.80" y2="221.55" class="k"/>
<line x1="422.07" y1="217.75" x2="422.07" y2="221.55" class="k"/>
<line x1="431.38" y1="217.75" x2="431.38" y2="224.25" class="k"/>
<line x1="442.65" y1="217.75" x2="442.65" y2="221.55" class="k"/>
<line x1="452.94" y1="217.75" x2="452.94" y2="221.55" class="k"/>
<line x1="462.25" y1="217.75" x2="462.25" y2="224.25" class="k"/>
<line x1="472.55" y1="217.75" x2="472.55" y2="221.55" class="k"/>
<line x1="481.86" y1="217.75" x2="481.86" y2="221.55" class="k"/>
<line x1="492.15" y1="217.75" x2="492.15" y2="224.25" class="k"/>
<line x1="502.44" y1="217.75" x2="502.44" y2="221.55" class="k"/>
<line x1="513.22" y1="217.75" x2="513.22" y2="221.55" class="k"/>
<line x1="523.02" y1="217.75" x2="523.02" y2="224.25" class="k"/>
<line x1="533.80" y1="217.75" x2="533.80" y2="221.55" class="k"/>
<line x1="544.58" y1="217.75" x2="544.58" y2="221.55" class="k"/>
<line x1="554.39" y1="217.75" x2="554.39" y2="224.25" class="k"/>
<line x1="565.66" y1="217.75" x2="565.66" y2="221.55" class="k"/>
<line x1="575.46" y1="217.75" x2="575.46" y2="221.55" class="k"/>
<line x1="586.40" y1="217.75" x2="586.40" y2="224.25" class="k"/>
<text transform="translate(355.28 235.95) scale(0.8 1)" class="r" text-anchor="middle">I</text>
<text transform="translate(385.82 235.95) scale(0.8 1)" class="r" text-anchor="middle">II</text>
<text transform="translate(416.69 235.95) scale(0.8 1)" class="r" text-anchor="middle">III</text>
<text transform="translate(447.73 235.95) scale(0.8 1)" class="r" text-anchor="middle">IV</text>
<text transform="translate(401.68 254.75) scale(0.765 1)" class="yr" text-anchor="middle">2018</text>
<text transform="translate(478.43 235.95) scale(0.8 1)" class="r" text-anchor="middle">I</text>
<text transform="translate(508.97 235.95) scale(0.8 1)" class="r" text-anchor="middle">II</text>
<text transform="translate(539.84 235.95) scale(0.8 1)" class="r" text-anchor="middle">III</text>
<text transform="translate(570.88 235.95) scale(0.8 1)" class="r" text-anchor="middle">IV</text>
<text transform="translate(525.83 254.75) scale(0.765 1)" class="yr" text-anchor="middle">2019</text>
<text transform="translate(765.35 17.00) scale(0.8 1)" class="t" text-anchor="middle">HC</text>
<polyline class="d" points="646.7,103.2 647.0,107.0 647.3,109.5 647.7,109.9 648.0,97.3 648.4,111.5 648.7,108.5 649.0,111.4 649.4,110.0 649.7,103.5 650.0,117.6 650.4,108.9 650.7,103.9 651.1,108.4 651.4,109.6 651.7,109.4 652.1,111.6 652.4,109.0 652.7,111.1 653.1,104.4 653.4,110.3 653.8,114.1 654.1,109.8 654.4,105.6 654.8,110.3 655.1,107.8 655.4,113.2 655.8,103.1 656.1,105.1 656.5,108.4 656.8,110.9 657.1,109.3 657.5,111.4 657.8,111.0 658.1,113.9 658.5,129.0 658.8,98.0 659.2,110.4 659.5,119.0 659.8,111.7 660.2,114.6 660.5,110.0 660.8,110.1 661.2,111.4 661.5,100.0 661.9,110.7 662.2,108.5 662.5,131.7 662.9,108.9 663.2,107.6 663.5,108.4 663.9,109.9 664.2,108.4 664.6,102.1 664.9,111.5 665.2,108.1 665.6,127.9 665.9,110.0 666.2,110.9 666.6,119.8 666.9,109.8 667.2,108.6 667.6,113.0 667.9,108.3 668.3,108.3 668.6,105.8 668.9,110.5 669.3,107.7 669.6,112.1 669.9,104.7 670.3,102.1 670.6,115.9 671.0,117.6 671.3,115.9 671.6,110.0 672.0,106.2 672.3,109.6 672.6,108.7 673.0,110.7 673.3,109.7 673.7,111.5 674.0,110.7 674.3,112.7 674.7,116.5 675.0,109.3 675.3,108.5 675.7,108.3 676.0,116.4 676.4,110.6 676.7,105.6 677.0,117.6 677.4,114.5 677.7,104.7 678.0,110.0 678.4,108.8 678.7,104.0 679.1,99.0 679.4,108.0 679.7,105.2 680.1,111.4 680.4,110.0 680.7,123.8 681.1,110.0 681.4,109.1 681.8,108.4 682.1,109.2 682.4,111.6 682.8,109.0 683.1,95.9 683.4,110.5 683.8,107.3 684.1,111.7 684.5,111.2 684.8,111.5 685.1,110.7 685.5,111.1 685.8,106.1 686.1,110.5 686.5,105.7 686.8,110.8 687.2,110.8 687.5,103.1 687.8,108.1 688.2,106.9 688.5,102.1 688.8,110.3 689.2,109.7 689.5,106.9 689.9,107.3 690.2,110.9 690.5,108.9 690.9,112.1 691.2,108.6 691.5,110.3 691.9,115.3 692.2,111.6 692.6,112.0 692.9,109.1 693.2,110.7 693.6,112.2 693.9,111.8 694.2,111.3 694.6,110.4 694.9,94.5 695.3,108.9 695.6,111.2 695.9,112.0 696.3,110.7 696.6,111.7 696.9,115.5 697.3,113.5 697.6,100.0 698.0,111.1 698.3,110.1 698.6,108.8 699.0,108.9 699.3,116.8 699.6,105.0 700.0,109.4 700.3,109.4 700.7,105.8 701.0,108.1 701.3,115.9 701.7,108.9 702.0,111.4 702.3,111.1 702.7,107.9 703.0,107.7 703.4,111.2 703.7,115.9 704.0,106.2 704.4,116.3 704.7,106.1 705.0,102.1 705.4,110.9 705.7,114.0 706.1,113.3 706.4,111.3 706.7,112.5 707.1,103.8 707.4,116.0 707.7,108.7 708.1,115.5 708.4,111.6 708.7,103.6 709.1,105.4 709.4,110.6 709.8,109.4 710.1,109.1 710.4,105.4 710.8,110.0 711.1,112.0 711.4,109.5 711.8,115.2 712.1,114.5 712.5,113.9 712.8,110.6 713.1,113.0 713.5,112.7 713.8,108.6 714.1,109.6 714.5,107.5 714.8,103.6 715.2,111.9 715.5,110.4 715.8,114.3 716.2,110.9 716.5,110.0 716.8,110.0 717.2,122.8 717.5,110.5 717.9,109.3 718.2,110.7 718.5,110.5 718.9,106.7 719.2,114.1 719.5,110.4 719.9,122.8 720.2,111.3 720.6,110.4 720.9,95.9 721.2,109.1 721.6,109.5 721.9,108.7 722.2,108.7 722.6,115.1 722.9,109.0 723.3,109.6 723.6,111.2 723.9,116.2 724.3,110.0 724.6,108.2 724.9,111.9 725.3,108.6 725.6,111.8 726.0,111.1 726.3,109.4 726.6,134.1 727.0,102.2 727.3,109.1 727.6,112.2 728.0,109.7 728.3,134.1 728.7,111.0 729.0,116.6 729.3,107.9 729.7,76.3 730.0,108.5 730.3,110.6 730.7,68.0 731.0,133.1 731.4,105.2 731.7,110.6 732.0,113.0 732.4,84.5 732.7,153.8 733.0,111.7 733.4,170.3 733.7,108.8 734.1,136.2 734.4,61.4 734.7,195.1 735.1,155.5 735.4,65.9 735.7,87.3 736.1,110.5 736.4,144.5 736.8,111.0 737.1,128.2 737.4,52.5 737.8,111.9 738.1,139.3 738.4,108.6 738.8,108.3 739.1,60.8 739.5,111.0 739.8,109.7 740.1,110.8 740.5,75.2 740.8,141.4 741.1,94.8 741.5,128.0 741.8,69.0 742.2,131.0 742.5,110.6 742.8,111.2 743.2,78.3 743.5,116.2 743.8,111.8 744.2,110.5 744.5,110.6 744.9,85.6 745.2,112.1 745.5,109.6 745.9,106.7 746.2,109.5 746.5,134.1 746.9,91.8 747.2,109.8 747.6,112.0 747.9,111.8 748.2,98.0 748.6,110.7 748.9,111.1 749.2,125.9 749.6,119.3 749.9,110.4 750.2,109.7 750.6,108.6 750.9,109.3 751.3,108.2 751.6,111.8 751.9,92.8 752.3,110.1 752.6,108.6 752.9,110.1 753.3,111.8 753.6,92.8 754.0,119.7 754.3,108.7 754.6,106.9 755.0,110.3 755.3,108.4 755.6,110.4 756.0,111.3 756.3,105.4 756.7,101.1 757.0,111.8 757.3,108.7 757.7,104.2 758.0,113.3 758.3,104.6 758.7,110.1 759.0,108.8 759.4,111.9 759.7,108.8 760.0,116.0 760.4,103.5 760.7,111.4 761.0,106.3 761.4,111.7 761.7,119.7 762.1,105.4 762.4,98.0 762.7,112.1 763.1,110.4 763.4,109.4 763.7,109.6 764.1,153.8 764.4,110.3 764.8,114.0 765.1,109.1 765.4,126.2 765.8,142.4 766.1,101.0 766.4,108.7 766.8,74.2 767.1,110.6 767.5,111.8 767.8,110.7 768.1,108.7 768.5,109.9 768.8,108.1 769.1,110.5 769.5,85.2 769.8,126.9 770.2,109.2 770.5,111.6 770.8,111.0 771.2,110.7 771.5,110.7 771.8,110.8 772.2,110.1 772.5,109.7 772.9,108.7 773.2,95.9 773.5,109.2 773.9,111.5 774.2,111.7 774.5,109.6 774.9,105.1 775.2,119.7 775.6,112.2 775.9,109.1 776.2,115.4 776.6,108.5 776.9,112.4 777.2,110.1 777.6,110.8 777.9,108.7 778.3,99.0 778.6,110.7 778.9,113.7 779.3,107.3 779.6,103.9 779.9,107.9 780.3,111.8 780.6,108.1 781.0,110.7 781.3,111.4 781.6,108.8 782.0,111.4 782.3,117.6 782.6,109.1 783.0,108.1 783.3,98.0 783.7,108.2 784.0,107.9 784.3,111.7 784.7,108.0 785.0,112.0 785.3,107.9 785.7,116.1 786.0,114.7 786.4,108.2 786.7,111.0 787.0,112.1 787.4,108.8 787.7,111.2 788.0,112.0 788.4,107.9 788.7,98.0 789.1,107.7 789.4,111.5 789.7,109.9 790.1,108.1 790.4,114.9 790.7,122.8 791.1,110.8 791.4,109.5 791.7,108.8 792.1,107.1 792.4,108.7 792.8,108.7 793.1,113.8 793.4,108.8 793.8,108.9 794.1,110.6 794.4,110.6 794.8,103.1 795.1,125.9 795.5,114.1 795.8,108.6 796.1,111.3 796.5,110.1 796.8,112.2 797.1,104.4 797.5,106.5 797.8,112.7 798.2,108.6 798.5,112.3 798.8,111.6 799.2,110.2 799.5,109.5 799.8,108.3 800.2,116.4 800.5,110.6 800.9,109.1 801.2,111.4 801.5,110.0 801.9,114.8 802.2,109.7 802.5,106.0 802.9,111.8 803.2,111.8 803.6,110.7 803.9,110.2 804.2,109.4 804.6,134.1 804.9,107.8 805.2,108.1 805.6,109.5 805.9,109.7 806.3,95.9 806.6,107.8 806.9,109.6 807.3,108.7 807.6,108.0 807.9,108.3 808.3,104.7 808.6,111.8 809.0,115.7 809.3,102.1 809.6,109.3 810.0,111.3 810.3,108.8 810.6,110.7 811.0,111.1 811.3,125.9 811.7,108.1 812.0,108.4 812.3,111.4 812.7,108.3 813.0,110.7 813.3,110.2 813.7,111.7 814.0,112.2 814.4,114.6 814.7,110.0 815.0,105.3 815.4,107.8 815.7,115.5 816.0,111.1 816.4,109.2 816.7,111.8 817.1,110.0 817.4,121.7 817.7,111.8 818.1,108.2 818.4,110.1 818.7,109.3 819.1,111.2 819.4,111.2 819.8,109.3 820.1,95.9 820.4,110.0 820.8,110.3 821.1,111.1 821.4,104.1 821.8,112.1 822.1,111.3 822.5,110.8 822.8,104.5 823.1,114.8 823.5,103.3 823.8,105.3 824.1,110.1 824.5,108.9 824.8,103.1 825.2,106.6 825.5,108.5 825.8,109.7 826.2,105.4 826.5,113.9 826.8,109.0 827.2,110.3 827.5,106.9 827.9,118.6 828.2,106.8 828.5,110.7 828.9,109.3 829.2,107.6 829.5,110.8 829.9,109.1 830.2,114.2 830.6,97.3 830.9,111.9 831.2,107.1 831.6,108.6 831.9,108.1 832.2,109.3 832.6,105.2 832.9,108.1 833.2,108.6 833.6,114.1 833.9,108.4 834.3,105.5 834.6,115.0 834.9,116.5 835.3,112.6 835.6,111.7 835.9,110.5 836.3,106.7 836.6,109.6 837.0,110.4 837.3,109.0 837.6,103.3 838.0,103.7 838.3,109.2 838.6,109.1 839.0,111.1 839.3,108.0 839.7,109.2 840.0,108.8 840.3,111.2 840.7,110.4 841.0,109.4 841.3,98.0 841.7,129.0 842.0,109.5 842.4,109.4 842.7,108.8 843.0,110.6 843.4,110.3 843.7,110.4 844.0,106.8 844.4,99.0 844.7,131.0 845.1,107.1 845.4,110.4 845.7,116.5 846.1,109.3 846.4,103.9 846.7,109.8 847.1,108.9 847.4,109.1 847.8,112.1 848.1,109.0 848.4,127.9 848.8,103.2 849.1,110.0 849.4,108.9 849.8,108.9 850.1,110.7 850.5,108.4 850.8,108.9 851.1,110.8 851.5,111.3 851.8,110.9 852.1,111.2 852.5,112.1 852.8,103.1 853.2,114.3 853.5,114.3 853.8,110.6 854.2,114.9 854.5,112.6 854.8,105.8 855.2,112.1 855.5,105.5 855.9,110.6 856.2,108.2 856.5,114.8 856.9,111.8 857.2,110.7 857.5,106.3 857.9,113.8 858.2,110.6 858.6,106.2 858.9,108.2 859.2,109.2 859.6,110.7 859.9,109.8 860.2,116.2 860.6,108.0 860.9,109.6 861.3,112.0 861.6,110.5 861.9,99.0 862.3,110.0 862.6,111.2 862.9,123.8 863.3,111.5 863.6,109.7 864.0,110.4 864.3,108.2 864.6,104.7 865.0,112.2 865.3,110.4 865.6,108.3 866.0,95.9 866.3,109.4 866.7,111.7 867.0,111.2 867.3,111.5 867.7,110.8 868.0,109.3 868.3,107.6 868.7,110.6 869.0,109.9 869.4,110.1 869.7,103.7 870.0,115.9 870.4,107.2 870.7,108.1 871.0,108.4 871.4,102.1 871.7,111.3 872.1,109.3 872.4,105.7 872.7,114.3 873.1,115.6 873.4,114.7 873.7,104.3 874.1,110.2 874.4,103.5 874.7,115.3 875.1,105.3 875.4,111.5 875.8,110.0 876.1,110.8 876.4,115.2 876.8,110.6 877.1,109.3 877.4,94.5 877.8,114.2 878.1,103.4 878.5,108.5 878.8,108.2 879.1,111.8 879.5,105.5 879.8,105.4 880.1,110.3 880.5,109.2 880.8,110.4 881.2,109.7 881.5,109.9 881.8,110.3 882.2,106.2 882.5,100.0 882.8,104.0 883.2,112.6 883.5,108.2 883.9,105.9 884.2,109.6 884.5,109.4 884.9,108.6 885.2,111.2 885.5,110.2 885.9,110.4 886.2,113.4 886.6,114.5 886.9,110.0 887.2,111.6 887.6,105.2 887.9,102.1 888.2,105.2 888.6,115.9 888.9,109.3 889.3,116.7 889.6,111.8 889.9,103.1 890.3,107.5 890.6,114.9 890.9,105.5 891.3,103.7 891.6,103.7 892.0,115.5 892.3,108.2 892.6,108.2"/>
<line x1="646.50" y1="110.02" x2="892.80" y2="110.02" class="z"/>
<rect x="646.50" y="37.00" width="246.30" height="180.75" class="f"/>
<line x1="642.00" y1="38.20" x2="646.50" y2="38.20" class="k"/>
<text transform="translate(638.30 40.20) scale(0.8 1)" class="yl" text-anchor="end">.0004</text>
<line x1="642.00" y1="74.11" x2="646.50" y2="74.11" class="k"/>
<text transform="translate(638.30 76.11) scale(0.8 1)" class="yl" text-anchor="end">.0002</text>
<line x1="642.00" y1="110.02" x2="646.50" y2="110.02" class="k"/>
<text transform="translate(638.30 112.02) scale(0.8 1)" class="yl" text-anchor="end">.0000</text>
<line x1="642.00" y1="145.93" x2="646.50" y2="145.93" class="k"/>
<text transform="translate(638.30 147.93) scale(0.8 1)" class="yl" text-anchor="end">-.0002</text>
<line x1="642.00" y1="181.84" x2="646.50" y2="181.84" class="k"/>
<text transform="translate(638.30 183.84) scale(0.8 1)" class="yl" text-anchor="end">-.0004</text>
<line x1="642.00" y1="217.75" x2="646.50" y2="217.75" class="k"/>
<text transform="translate(638.30 219.75) scale(0.8 1)" class="yl" text-anchor="end">-.0006</text>
<line x1="655.94" y1="217.75" x2="655.94" y2="221.55" class="k"/>
<line x1="665.25" y1="217.75" x2="665.25" y2="221.55" class="k"/>
<line x1="675.54" y1="217.75" x2="675.54" y2="224.25" class="k"/>
<line x1="685.83" y1="217.75" x2="685.83" y2="221.55" class="k"/>
<line x1="696.62" y1="217.75" x2="696.62" y2="221.55" class="k"/>
<line x1="706.91" y1="217.75" x2="706.91" y2="224.25" class="k"/>
<line x1="717.20" y1="217.75" x2="717.20" y2="221.55" class="k"/>
<line x1="728.47" y1="217.75" x2="728.47" y2="221.55" class="k"/>
<line x1="737.78" y1="217.75" x2="737.78" y2="224.25" class="k"/>
<line x1="749.05" y1="217.75" x2="749.05" y2="221.55" class="k"/>
<line x1="759.34" y1="217.75" x2="759.34" y2="221.55" class="k"/>
<line x1="768.65" y1="217.75" x2="768.65" y2="224.25" class="k"/>
<line x1="778.95" y1="217.75" x2="778.95" y2="221.55" class="k"/>
<line x1="788.26" y1="217.75" x2="788.26" y2="221.55" class="k"/>
<line x1="798.55" y1="217.75" x2="798.55" y2="224.25" class="k"/>
<line x1="808.84" y1="217.75" x2="808.84" y2="221.55" class="k"/>
<line x1="819.62" y1="217.75" x2="819.62" y2="221.55" class="k"/>
<line x1="829.42" y1="217.75" x2="829.42" y2="224.25" class="k"/>
<line x1="840.20" y1="217.75" x2="840.20" y2="221.55" class="k"/>
<line x1="850.98" y1="217.75" x2="850.98" y2="221.55" class="k"/>
<line x1="860.79" y1="217.75" x2="860.79" y2="224.25" class="k"/>
<line x1="872.06" y1="217.75" x2="872.06" y2="221.55" class="k"/>
<line x1="881.86" y1="217.75" x2="881.86" y2="221.55" class="k"/>
<line x1="892.80" y1="217.75" x2="892.80" y2="224.25" class="k"/>
<text transform="translate(661.68 235.95) scale(0.8 1)" class="r" text-anchor="middle">I</text>
<text transform="translate(692.22 235.95) scale(0.8 1)" class="r" text-anchor="middle">II</text>
<text transform="translate(723.09 235.95) scale(0.8 1)" class="r" text-anchor="middle">III</text>
<text transform="translate(754.13 235.95) scale(0.8 1)" class="r" text-anchor="middle">IV</text>
<text transform="translate(708.08 254.75) scale(0.765 1)" class="yr" text-anchor="middle">2018</text>
<text transform="translate(784.83 235.95) scale(0.8 1)" class="r" text-anchor="middle">I</text>
<text transform="translate(815.37 235.95) scale(0.8 1)" class="r" text-anchor="middle">II</text>
<text transform="translate(846.24 235.95) scale(0.8 1)" class="r" text-anchor="middle">III</text>
<text transform="translate(877.28 235.95) scale(0.8 1)" class="r" text-anchor="middle">IV</text>
<text transform="translate(832.23 254.75) scale(0.765 1)" class="yr" text-anchor="middle">2019</text>
<text transform="translate(1070.45 17.00) scale(0.8 1)" class="t" text-anchor="middle">Industries</text>
<polyline class="d" points="952.8,132.2 953.1,128.3 953.4,125.3 953.8,129.2 954.1,119.7 954.5,126.9 954.8,132.0 955.1,127.9 955.5,128.6 955.8,129.4 956.1,124.0 956.5,128.7 956.8,133.8 957.2,128.1 957.5,127.3 957.8,129.5 958.2,137.2 958.5,122.9 958.8,128.3 959.2,123.5 959.5,126.1 959.9,131.8 960.2,119.7 960.5,127.4 960.9,129.3 961.2,123.3 961.5,127.8 961.9,127.5 962.2,129.7 962.6,127.7 962.9,129.9 963.2,127.1 963.6,129.3 963.9,129.8 964.2,146.5 964.6,127.7 964.9,129.1 965.3,129.6 965.6,129.7 965.9,116.2 966.3,127.8 966.6,133.9 966.9,128.7 967.3,126.6 967.6,129.8 968.0,127.6 968.3,126.2 968.6,146.9 969.0,140.7 969.3,128.6 969.6,115.5 970.0,127.5 970.3,129.2 970.7,121.9 971.0,136.0 971.3,124.8 971.7,145.5 972.0,128.5 972.3,127.1 972.7,130.1 973.0,125.6 973.3,122.8 973.7,136.2 974.0,128.2 974.4,130.6 974.7,129.3 975.0,125.9 975.4,127.4 975.7,116.6 976.0,128.2 976.4,128.5 976.7,128.0 977.1,126.2 977.4,129.6 977.7,124.3 978.1,128.9 978.4,123.9 978.7,122.0 979.1,126.5 979.4,133.3 979.8,128.7 980.1,124.5 980.4,128.5 980.8,128.0 981.1,129.8 981.4,126.9 981.8,129.6 982.1,127.1 982.5,127.2 982.8,127.2 983.1,127.4 983.5,126.3 983.8,128.8 984.1,141.4 984.5,128.8 984.8,128.6 985.2,127.5 985.5,130.1 985.8,127.5 986.2,127.7 986.5,128.2 986.8,139.3 987.2,134.6 987.5,126.3 987.9,130.0 988.2,117.6 988.5,126.7 988.9,125.9 989.2,128.9 989.5,126.5 989.9,131.8 990.2,123.9 990.6,129.9 990.9,125.4 991.2,127.2 991.6,123.4 991.9,129.5 992.2,126.6 992.6,126.4 992.9,125.1 993.3,128.7 993.6,130.0 993.9,124.5 994.3,125.8 994.6,126.4 994.9,122.5 995.3,134.1 995.6,128.4 996.0,115.5 996.3,128.4 996.6,127.0 997.0,126.8 997.3,126.1 997.6,126.6 998.0,128.9 998.3,127.4 998.7,131.9 999.0,126.7 999.3,122.8 999.7,128.2 1000.0,129.5 1000.3,123.3 1000.7,130.9 1001.0,131.9 1001.4,125.8 1001.7,129.3 1002.0,125.8 1002.4,127.6 1002.7,124.3 1003.0,129.8 1003.4,122.1 1003.7,120.7 1004.1,128.8 1004.4,125.8 1004.7,129.4 1005.1,126.3 1005.4,136.2 1005.7,129.1 1006.1,129.5 1006.4,128.0 1006.8,130.0 1007.1,126.8 1007.4,125.9 1007.8,120.7 1008.1,128.7 1008.4,131.9 1008.8,129.9 1009.1,126.3 1009.5,126.5 1009.8,124.8 1010.1,129.4 1010.5,128.8 1010.8,126.3 1011.1,124.0 1011.5,125.9 1011.8,128.4 1012.2,129.0 1012.5,126.6 1012.8,128.3 1013.2,128.0 1013.5,130.2 1013.8,125.1 1014.2,130.0 1014.5,126.1 1014.8,127.2 1015.2,122.2 1015.5,126.8 1015.9,126.4 1016.2,119.7 1016.5,126.2 1016.9,128.1 1017.2,129.2 1017.5,128.7 1017.9,125.1 1018.2,130.0 1018.6,127.7 1018.9,126.7 1019.2,126.9 1019.6,124.1 1019.9,132.7 1020.2,126.5 1020.6,130.2 1020.9,129.9 1021.3,120.7 1021.6,127.2 1021.9,127.1 1022.3,128.1 1022.6,127.2 1022.9,129.5 1023.3,138.3 1023.6,130.1 1024.0,127.3 1024.3,134.7 1024.6,130.0 1025.0,128.7 1025.3,126.9 1025.6,143.4 1026.0,128.0 1026.3,126.0 1026.7,116.6 1027.0,129.9 1027.3,127.4 1027.7,129.1 1028.0,128.0 1028.3,128.0 1028.7,122.0 1029.0,131.7 1029.4,126.0 1029.7,128.8 1030.0,128.5 1030.4,134.4 1030.7,125.6 1031.0,130.2 1031.4,127.1 1031.7,128.3 1032.1,127.8 1032.4,130.1 1032.7,145.5 1033.1,126.3 1033.4,129.6 1033.7,151.7 1034.1,124.1 1034.4,128.6 1034.8,126.7 1035.1,118.5 1035.4,129.6 1035.8,107.3 1036.1,127.2 1036.4,128.8 1036.8,152.7 1037.1,102.7 1037.5,126.4 1037.8,184.8 1038.1,128.9 1038.5,96.9 1038.8,125.9 1039.1,192.0 1039.5,153.9 1039.8,98.1 1040.2,79.4 1040.5,211.6 1040.8,126.6 1041.2,129.6 1041.5,128.9 1041.8,99.0 1042.2,177.5 1042.5,127.5 1042.9,126.0 1043.2,127.8 1043.5,57.3 1043.9,152.7 1044.2,126.3 1044.5,86.6 1044.9,128.7 1045.2,128.7 1045.6,126.7 1045.9,113.5 1046.2,141.7 1046.6,161.0 1046.9,129.2 1047.2,147.8 1047.6,79.4 1047.9,126.6 1048.3,155.8 1048.6,127.8 1048.9,130.1 1049.3,103.1 1049.6,130.1 1049.9,112.8 1050.3,130.5 1050.6,129.7 1051.0,147.6 1051.3,128.9 1051.6,136.2 1052.0,125.4 1052.3,100.0 1052.6,126.2 1053.0,128.8 1053.3,146.5 1053.7,129.0 1054.0,134.0 1054.3,121.2 1054.7,129.9 1055.0,127.9 1055.3,108.3 1055.7,127.3 1056.0,126.2 1056.3,145.5 1056.7,129.5 1057.0,128.2 1057.4,129.0 1057.7,126.9 1058.0,129.4 1058.4,115.5 1058.7,128.3 1059.0,126.7 1059.4,144.5 1059.7,128.3 1060.1,129.0 1060.4,126.8 1060.7,129.9 1061.1,119.5 1061.4,126.4 1061.7,125.9 1062.1,93.8 1062.4,136.2 1062.8,132.2 1063.1,127.4 1063.4,122.4 1063.8,130.1 1064.1,130.0 1064.4,117.3 1064.8,107.3 1065.1,126.0 1065.5,127.2 1065.8,127.6 1066.1,127.2 1066.5,129.4 1066.8,109.3 1067.1,132.7 1067.5,134.4 1067.8,129.9 1068.2,129.5 1068.5,129.6 1068.8,105.2 1069.2,126.4 1069.5,113.3 1069.8,126.9 1070.2,127.2 1070.5,129.6 1070.9,172.4 1071.2,127.2 1071.5,128.5 1071.9,132.6 1072.2,160.0 1072.5,127.8 1072.9,98.0 1073.2,129.2 1073.6,125.9 1073.9,128.2 1074.2,129.6 1074.6,127.0 1074.9,129.3 1075.2,126.6 1075.6,146.5 1075.9,104.2 1076.3,127.7 1076.6,128.5 1076.9,127.9 1077.3,126.4 1077.6,126.5 1077.9,128.5 1078.3,130.1 1078.6,127.1 1079.0,128.3 1079.3,126.1 1079.6,133.5 1080.0,126.6 1080.3,129.9 1080.6,129.8 1081.0,129.6 1081.3,116.6 1081.7,139.3 1082.0,125.9 1082.3,125.9 1082.7,123.4 1083.0,127.9 1083.3,122.8 1083.7,128.3 1084.0,127.0 1084.4,129.8 1084.7,122.8 1085.0,127.8 1085.4,127.5 1085.7,125.6 1086.0,128.2 1086.4,129.7 1086.7,127.4 1087.1,127.6 1087.4,127.3 1087.7,126.4 1088.1,127.5 1088.4,117.6 1088.7,128.4 1089.1,128.5 1089.4,126.5 1089.8,126.4 1090.1,129.5 1090.4,124.5 1090.8,126.5 1091.1,130.2 1091.4,126.6 1091.8,125.1 1092.1,131.3 1092.5,127.9 1092.8,128.2 1093.1,126.5 1093.5,128.5 1093.8,127.8 1094.1,130.5 1094.5,126.6 1094.8,124.3 1095.2,126.9 1095.5,129.7 1095.8,129.4 1096.2,129.3 1096.5,134.1 1096.8,131.7 1097.2,126.8 1097.5,129.8 1097.8,120.7 1098.2,125.4 1098.5,129.8 1098.9,129.4 1099.2,129.3 1099.5,132.3 1099.9,127.9 1100.2,129.9 1100.5,129.8 1100.9,129.4 1101.2,130.1 1101.6,127.1 1101.9,143.4 1102.2,129.9 1102.6,128.2 1102.9,127.9 1103.2,128.6 1103.6,132.0 1103.9,128.1 1104.3,123.5 1104.6,128.4 1104.9,116.2 1105.3,126.1 1105.6,126.0 1105.9,129.8 1106.3,127.4 1106.6,129.4 1107.0,123.4 1107.3,128.7 1107.6,129.4 1108.0,132.4 1108.3,122.4 1108.6,125.8 1109.0,126.5 1109.3,133.0 1109.7,128.1 1110.0,125.0 1110.3,125.1 1110.7,129.9 1111.0,131.3 1111.3,122.6 1111.7,129.6 1112.0,126.6 1112.4,126.7 1112.7,122.8 1113.0,135.2 1113.4,126.3 1113.7,129.0 1114.0,128.4 1114.4,127.8 1114.7,127.0 1115.1,123.4 1115.4,119.7 1115.7,130.4 1116.1,128.6 1116.4,128.0 1116.7,126.0 1117.1,127.7 1117.4,126.8 1117.8,127.1 1118.1,129.4 1118.4,128.9 1118.8,133.1 1119.1,145.5 1119.4,128.7 1119.8,122.8 1120.1,128.4 1120.5,131.8 1120.8,127.2 1121.1,129.5 1121.5,120.7 1121.8,129.6 1122.1,134.2 1122.5,138.3 1122.8,129.1 1123.2,128.5 1123.5,125.9 1123.8,126.2 1124.2,128.3 1124.5,127.9 1124.8,126.7 1125.2,128.4 1125.5,126.9 1125.9,126.6 1126.2,112.4 1126.5,128.4 1126.9,126.3 1127.2,129.6 1127.5,119.4 1127.9,129.9 1128.2,127.8 1128.6,129.3 1128.9,128.5 1129.2,124.9 1129.6,127.0 1129.9,129.6 1130.2,126.3 1130.6,124.1 1130.9,128.0 1131.3,127.8 1131.6,126.5 1131.9,118.6 1132.3,127.0 1132.6,129.7 1132.9,134.0 1133.3,127.9 1133.6,133.0 1134.0,132.2 1134.3,124.6 1134.6,131.0 1135.0,129.3 1135.3,126.7 1135.6,132.1 1136.0,125.6 1136.3,126.4 1136.7,130.1 1137.0,128.8 1137.3,125.3 1137.7,125.0 1138.0,119.7 1138.3,130.7 1138.7,133.3 1139.0,127.1 1139.3,130.1 1139.7,127.3 1140.0,133.7 1140.4,128.0 1140.7,128.4 1141.0,129.0 1141.4,125.8 1141.7,125.8 1142.0,128.7 1142.4,133.9 1142.7,123.6 1143.1,130.0 1143.4,129.4 1143.7,127.2 1144.1,126.6 1144.4,127.6 1144.7,127.8 1145.1,128.8 1145.4,128.9 1145.8,126.4 1146.1,129.6 1146.4,127.7 1146.8,128.1 1147.1,126.3 1147.4,146.5 1147.8,126.9 1148.1,127.7 1148.5,115.5 1148.8,128.3 1149.1,127.3 1149.5,127.2 1149.8,127.4 1150.1,134.4 1150.5,132.9 1150.8,126.1 1151.2,146.9 1151.5,127.8 1151.8,125.9 1152.2,116.2 1152.5,127.0 1152.8,126.8 1153.2,128.2 1153.5,125.6 1153.9,127.2 1154.2,145.5 1154.5,126.5 1154.9,123.5 1155.2,127.4 1155.5,128.3 1155.9,131.2 1156.2,126.9 1156.6,128.0 1156.9,128.8 1157.2,126.6 1157.6,116.6 1157.9,127.7 1158.2,126.6 1158.6,128.8 1158.9,128.5 1159.3,133.8 1159.6,124.2 1159.9,126.5 1160.3,128.2 1160.6,128.3 1160.9,129.6 1161.3,132.2 1161.6,129.6 1162.0,125.9 1162.3,128.7 1162.6,122.3 1163.0,123.0 1163.3,128.7 1163.6,130.8 1164.0,122.2 1164.3,129.8 1164.7,127.0 1165.0,128.0 1165.3,128.3 1165.7,130.0 1166.0,129.0 1166.3,127.9 1166.7,123.7 1167.0,141.4 1167.4,126.2 1167.7,126.3 1168.0,135.2 1168.4,127.9 1168.7,140.3 1169.0,119.7 1169.4,127.9 1169.7,128.3 1170.1,126.7 1170.4,127.9 1170.7,129.0 1171.1,132.9 1171.4,129.8 1171.7,130.8 1172.1,127.5 1172.4,126.1 1172.8,127.4 1173.1,123.5 1173.4,133.0 1173.8,122.6 1174.1,130.7 1174.4,129.9 1174.8,126.1 1175.1,127.2 1175.5,130.3 1175.8,132.3 1176.1,129.8 1176.5,129.5 1176.8,131.7 1177.1,133.1 1177.5,129.1 1177.8,124.7 1178.2,129.9 1178.5,129.8 1178.8,115.5 1179.2,129.0 1179.5,127.7 1179.8,130.3 1180.2,126.0 1180.5,127.9 1180.8,125.6 1181.2,129.0 1181.5,125.8 1181.9,130.0 1182.2,131.8 1182.5,122.9 1182.9,126.7 1183.2,123.8 1183.5,129.8 1183.9,123.8 1184.2,127.9 1184.6,127.2 1184.9,126.5 1185.2,128.0 1185.6,120.7 1185.9,129.8 1186.2,127.7 1186.6,127.7 1186.9,127.1 1187.3,128.9 1187.6,136.2 1187.9,122.3 1188.3,126.9 1188.6,128.5 1188.9,131.4 1189.3,133.8 1189.6,124.4 1190.0,130.0 1190.3,124.2 1190.6,120.7 1191.0,129.2 1191.3,126.6 1191.6,130.4 1192.0,130.6 1192.3,132.6 1192.7,127.8 1193.0,127.7 1193.3,126.9 1193.7,128.5 1194.0,127.7 1194.3,127.2 1194.7,129.5 1195.0,125.7 1195.4,128.3 1195.7,126.6 1196.0,132.0 1196.4,126.0 1196.7,125.8 1197.0,128.3 1197.4,129.8 1197.7,132.2 1198.1,131.0 1198.4,129.7 1198.7,126.3"/>
<line x1="952.60" y1="127.98" x2="1198.90" y2="127.98" class="z"/>
<rect x="952.60" y="37.00" width="246.30" height="180.75" class="f"/>
<line x1="948.10" y1="38.20" x2="952.60" y2="38.20" class="k"/>
<text transform="translate(944.40 40.20) scale(0.8 1)" class="yl" text-anchor="end">.0006</text>
<line x1="948.10" y1="68.12" x2="952.60" y2="68.12" class="k"/>
<text transform="translate(944.40 70.12) scale(0.8 1)" class="yl" text-anchor="end">.0004</text>
<line x1="948.10" y1="98.05" x2="952.60" y2="98.05" class="k"/>
<text transform="translate(944.40 100.05) scale(0.8 1)" class="yl" text-anchor="end">.0002</text>
<line x1="948.10" y1="127.98" x2="952.60" y2="127.98" class="k"/>
<text transform="translate(944.40 129.98) scale(0.8 1)" class="yl" text-anchor="end">.0000</text>
<line x1="948.10" y1="157.90" x2="952.60" y2="157.90" class="k"/>
<text transform="translate(944.40 159.90) scale(0.8 1)" class="yl" text-anchor="end">-.0002</text>
<line x1="948.10" y1="187.83" x2="952.60" y2="187.83" class="k"/>
<text transform="translate(944.40 189.83) scale(0.8 1)" class="yl" text-anchor="end">-.0004</text>
<line x1="948.10" y1="217.75" x2="952.60" y2="217.75" class="k"/>
<text transform="translate(944.40 219.75) scale(0.8 1)" class="yl" text-anchor="end">-.0006</text>
<line x1="962.04" y1="217.75" x2="962.04" y2="221.55" class="k"/>
<line x1="971.35" y1="217.75" x2="971.35" y2="221.55" class="k"/>
<line x1="981.64" y1="217.75" x2="981.64" y2="224.25" class="k"/>
<line x1="991.93" y1="217.75" x2="991.93" y2="221.55" class="k"/>
<line x1="1002.72" y1="217.75" x2="1002.72" y2="221.55" class="k"/>
<line x1="1013.01" y1="217.75" x2="1013.01" y2="224.25" class="k"/>
<line x1="1023.30" y1="217.75" x2="1023.30" y2="221.55" class="k"/>
<line x1="1034.57" y1="217.75" x2="1034.57" y2="221.55" class="k"/>
<line x1="1043.88" y1="217.75" x2="1043.88" y2="224.25" class="k"/>
<line x1="1055.15" y1="217.75" x2="1055.15" y2="221.55" class="k"/>
<line x1="1065.44" y1="217.75" x2="1065.44" y2="221.55" class="k"/>
<line x1="1074.75" y1="217.75" x2="1074.75" y2="224.25" class="k"/>
<line x1="1085.05" y1="217.75" x2="1085.05" y2="221.55" class="k"/>
<line x1="1094.36" y1="217.75" x2="1094.36" y2="221.55" class="k"/>
<line x1="1104.65" y1="217.75" x2="1104.65" y2="224.25" class="k"/>
<line x1="1114.94" y1="217.75" x2="1114.94" y2="221.55" class="k"/>
<line x1="1125.72" y1="217.75" x2="1125.72" y2="221.55" class="k"/>
<line x1="1135.52" y1="217.75" x2="1135.52" y2="224.25" class="k"/>
<line x1="1146.30" y1="217.75" x2="1146.30" y2="221.55" class="k"/>
<line x1="1157.08" y1="217.75" x2="1157.08" y2="221.55" class="k"/>
<line x1="1166.89" y1="217.75" x2="1166.89" y2="224.25" class="k"/>
<line x1="1178.16" y1="217.75" x2="1178.16" y2="221.55" class="k"/>
<line x1="1187.96" y1="217.75" x2="1187.96" y2="221.55" class="k"/>
<line x1="1198.90" y1="217.75" x2="1198.90" y2="224.25" class="k"/>
<text transform="translate(967.78 235.95) scale(0.8 1)" class="r" text-anchor="middle">I</text>
<text transform="translate(998.32 235.95) scale(0.8 1)" class="r" text-anchor="middle">II</text>
<text transform="translate(1029.19 235.95) scale(0.8 1)" class="r" text-anchor="middle">III</text>
<text transform="translate(1060.23 235.95) scale(0.8 1)" class="r" text-anchor="middle">IV</text>
<text transform="translate(1014.18 254.75) scale(0.765 1)" class="yr" text-anchor="middle">2018</text>
<text transform="translate(1090.93 235.95) scale(0.8 1)" class="r" text-anchor="middle">I</text>
<text transform="translate(1121.47 235.95) scale(0.8 1)" class="r" text-anchor="middle">II</text>
<text transform="translate(1152.34 235.95) scale(0.8 1)" class="r" text-anchor="middle">III</text>
<text transform="translate(1183.38 235.95) scale(0.8 1)" class="r" text-anchor="middle">IV</text>
<text transform="translate(1138.33 254.75) scale(0.765 1)" class="yr" text-anchor="middle">2019</text>
<text transform="translate(152.75 286.20) scale(0.8 1)" class="t" text-anchor="middle">Market</text>
<polyline class="d" points="34.1,379.1 34.4,380.3 34.7,381.2 35.1,379.6 35.4,367.6 35.8,379.9 36.1,382.5 36.4,381.9 36.8,379.5 37.1,376.9 37.4,376.9 37.8,375.2 38.1,373.6 38.5,379.6 38.8,384.1 39.1,378.2 39.5,380.9 39.8,375.2 40.1,377.2 40.5,379.0 40.8,374.8 41.2,374.2 41.5,376.8 41.8,383.6 42.2,380.7 42.5,380.3 42.8,377.7 43.2,379.1 43.5,378.5 43.9,378.6 44.2,380.4 44.5,381.7 44.9,380.8 45.2,379.1 45.5,378.7 45.9,377.1 46.2,377.6 46.6,402.1 46.9,378.1 47.2,370.7 47.6,364.5 47.9,378.8 48.2,380.4 48.6,378.6 48.9,379.4 49.3,379.0 49.6,401.5 49.9,379.0 50.3,378.5 50.6,368.0 50.9,378.9 51.3,379.4 51.6,378.8 52.0,379.7 52.3,377.9 52.6,373.1 53.0,379.1 53.3,398.6 53.6,369.0 54.0,385.8 54.3,376.9 54.6,377.9 55.0,385.1 55.3,377.4 55.7,378.3 56.0,384.5 56.3,380.7 56.7,375.3 57.0,376.3 57.3,379.9 57.7,369.0 58.0,372.4 58.4,379.9 58.7,382.4 59.0,374.8 59.4,378.5 59.7,379.8 60.0,379.0 60.4,379.1 60.7,383.8 61.1,378.0 61.4,377.1 61.7,384.5 62.1,376.9 62.4,381.5 62.7,380.1 63.1,379.2 63.4,378.0 63.8,373.9 64.1,383.9 64.4,378.2 64.8,376.2 65.1,379.6 65.4,381.0 65.8,386.8 66.1,391.8 66.5,377.8 66.8,379.9 67.1,368.6 67.5,378.1 67.8,378.9 68.1,380.1 68.5,379.2 68.8,377.2 69.2,391.1 69.5,380.3 69.8,377.1 70.2,371.1 70.5,378.8 70.8,380.8 71.2,378.4 71.5,375.0 71.9,383.8 72.2,383.2 72.5,375.6 72.9,380.8 73.2,374.3 73.5,379.2 73.9,379.1 74.2,377.0 74.6,379.7 74.9,374.3 75.2,374.0 75.6,380.2 75.9,378.6 76.2,379.3 76.6,378.7 76.9,376.9 77.3,377.6 77.6,371.1 77.9,374.2 78.3,379.4 78.6,379.5 78.9,378.2 79.3,379.3 79.6,374.6 80.0,374.0 80.3,378.8 80.6,382.5 81.0,377.2 81.3,378.5 81.6,377.4 82.0,384.5 82.3,380.3 82.7,376.9 83.0,383.7 83.3,380.7 83.7,378.7 84.0,382.0 84.3,379.7 84.7,376.9 85.0,377.9 85.4,381.1 85.7,372.1 86.0,380.7 86.4,380.1 86.7,381.5 87.0,385.6 87.4,380.8 87.7,378.0 88.1,381.0 88.4,378.1 88.7,377.8 89.1,380.6 89.4,379.7 89.7,376.9 90.1,380.0 90.4,381.0 90.8,373.2 91.1,380.5 91.4,377.5 91.8,378.0 92.1,380.7 92.4,380.2 92.8,378.4 93.1,379.7 93.5,378.1 93.8,380.7 94.1,379.2 94.5,380.3 94.8,382.8 95.1,379.7 95.5,377.2 95.8,380.0 96.1,383.1 96.5,374.2 96.8,381.0 97.2,380.2 97.5,381.8 97.8,379.5 98.2,380.6 98.5,379.4 98.8,382.4 99.2,382.3 99.5,378.3 99.9,381.4 100.2,378.4 100.5,383.4 100.9,379.5 101.2,372.1 101.5,373.1 101.9,379.2 102.2,384.2 102.6,373.3 102.9,373.4 103.2,378.0 103.6,378.3 103.9,378.6 104.2,380.5 104.6,375.9 104.9,377.7 105.3,390.7 105.6,378.3 105.9,379.2 106.3,377.9 106.6,379.9 106.9,392.8 107.3,377.2 107.6,379.1 108.0,367.2 108.3,379.5 108.6,377.7 109.0,380.5 109.3,381.2 109.6,381.1 110.0,376.2 110.3,380.0 110.7,379.0 111.0,378.2 111.3,375.2 111.7,377.2 112.0,376.2 112.3,377.0 112.7,379.3 113.0,378.7 113.4,377.4 113.7,380.4 114.0,377.8 114.4,377.8 114.7,407.3 115.0,374.4 115.4,377.5 115.7,376.9 116.1,380.6 116.4,377.4 116.7,412.4 117.1,377.1 117.4,379.0 117.7,346.3 118.1,377.4 118.4,380.8 118.8,442.4 119.1,377.7 119.4,344.2 119.8,378.9 120.1,456.9 120.4,377.1 120.8,380.4 121.1,364.3 121.5,314.3 121.8,479.6 122.1,406.2 122.5,378.2 122.8,336.0 123.1,381.0 123.5,423.8 123.8,381.2 124.2,379.3 124.5,376.8 124.8,310.1 125.2,403.1 125.5,378.1 125.8,376.9 126.2,379.7 126.5,332.9 126.9,379.6 127.2,368.2 127.5,378.7 127.9,379.3 128.2,414.5 128.5,379.2 128.9,369.3 129.2,326.7 129.6,392.9 129.9,379.7 130.2,352.5 130.6,377.0 130.9,380.2 131.2,396.9 131.6,378.2 131.9,356.6 132.3,380.9 132.6,379.7 132.9,368.8 133.3,393.7 133.6,381.0 133.9,380.5 134.3,358.7 134.6,402.7 135.0,391.1 135.3,378.8 135.6,380.3 136.0,379.1 136.3,380.0 136.6,380.6 137.0,383.0 137.3,357.3 137.6,381.0 138.0,380.0 138.3,401.1 138.7,379.9 139.0,381.1 139.3,379.1 139.7,381.0 140.0,378.2 140.3,364.9 140.7,386.5 141.0,380.0 141.4,395.9 141.7,379.2 142.0,379.5 142.4,380.8 142.7,379.9 143.0,380.3 143.4,385.4 143.7,379.8 144.1,353.9 144.4,377.6 144.7,377.3 145.1,380.6 145.4,382.4 145.7,387.6 146.1,380.2 146.4,365.9 146.8,377.1 147.1,377.6 147.4,377.0 147.8,377.4 148.1,379.9 148.4,373.3 148.8,377.4 149.1,378.4 149.5,378.8 149.8,381.0 150.1,380.8 150.5,359.3 150.8,380.7 151.1,379.1 151.5,378.1 151.8,425.9 152.2,368.2 152.5,381.1 152.8,374.3 153.2,372.3 153.5,363.7 153.8,416.6 154.2,381.2 154.5,342.2 154.9,378.4 155.2,379.7 155.5,377.1 155.9,378.6 156.2,384.2 156.5,377.2 156.9,396.9 157.2,373.8 157.6,353.1 157.9,380.6 158.2,378.9 158.6,378.3 158.9,378.8 159.2,376.8 159.6,380.8 159.9,378.7 160.3,377.0 160.6,380.4 160.9,380.5 161.3,369.0 161.6,384.9 161.9,379.9 162.3,377.2 162.6,381.1 163.0,389.7 163.3,378.7 163.6,375.5 164.0,381.0 164.3,375.1 164.6,378.4 165.0,377.1 165.3,378.7 165.7,380.5 166.0,367.6 166.3,377.6 166.7,380.7 167.0,377.5 167.3,381.0 167.7,377.2 168.0,379.7 168.4,376.0 168.7,378.5 169.0,373.0 169.4,374.4 169.7,376.8 170.0,378.4 170.4,370.1 170.7,377.8 171.1,380.7 171.4,380.8 171.7,380.1 172.1,376.1 172.4,380.7 172.7,377.6 173.1,374.9 173.4,374.0 173.8,379.0 174.1,378.7 174.4,377.0 174.8,374.3 175.1,379.7 175.4,383.1 175.8,384.3 176.1,373.4 176.5,380.5 176.8,376.4 177.1,378.5 177.5,377.3 177.8,387.6 178.1,380.1 178.5,371.7 178.8,378.6 179.1,377.2 179.5,367.6 179.8,380.4 180.2,378.7 180.5,377.2 180.8,378.9 181.2,379.0 181.5,378.3 181.8,373.8 182.2,384.1 182.5,379.2 182.9,380.1 183.2,379.5 183.5,394.9 183.9,377.8 184.2,381.1 184.5,379.7 184.9,373.9 185.2,377.4 185.6,378.6 185.9,371.1 186.2,378.8 186.6,379.7 186.9,379.9 187.2,377.1 187.6,380.1 187.9,378.8 188.3,376.2 188.6,378.5 188.9,379.2 189.3,382.2 189.6,379.5 189.9,378.8 190.3,378.8 190.6,380.4 191.0,377.4 191.3,382.1 191.6,375.8 192.0,378.4 192.3,377.8 192.6,377.2 193.0,380.9 193.3,380.7 193.7,377.3 194.0,374.5 194.3,380.1 194.7,379.9 195.0,381.2 195.3,376.7 195.7,382.0 196.0,377.4 196.4,375.9 196.7,379.1 197.0,383.3 197.4,378.3 197.7,377.4 198.0,379.9 198.4,371.7 198.7,375.2 199.1,380.9 199.4,377.8 199.7,378.1 200.1,398.0 200.4,380.9 200.7,378.0 201.1,377.7 201.4,377.6 201.8,379.1 202.1,377.9 202.4,372.1 202.8,377.8 203.1,380.8 203.4,376.8 203.8,379.1 204.1,381.6 204.5,377.3 204.8,379.0 205.1,378.7 205.5,388.7 205.8,375.2 206.1,379.8 206.5,380.6 206.8,380.1 207.2,379.3 207.5,380.5 207.8,377.5 208.2,362.2 208.5,383.2 208.8,379.6 209.2,379.5 209.5,376.6 209.9,371.8 210.2,378.0 210.5,378.1 210.9,377.5 211.2,377.5 211.5,383.5 211.9,375.6 212.2,382.5 212.6,378.4 212.9,377.4 213.2,384.8 213.6,384.3 213.9,374.0 214.2,377.4 214.6,377.6 214.9,375.7 215.3,375.3 215.6,377.0 215.9,379.2 216.3,377.2 216.6,381.0 216.9,383.4 217.3,372.3 217.6,380.9 218.0,367.6 218.3,375.5 218.6,381.2 219.0,379.8 219.3,378.3 219.6,377.9 220.0,377.7 220.3,378.6 220.6,383.2 221.0,383.1 221.3,379.7 221.7,379.3 222.0,380.7 222.3,378.3 222.7,380.8 223.0,379.1 223.3,379.3 223.7,380.4 224.0,379.2 224.4,380.8 224.7,382.5 225.0,384.3 225.4,382.9 225.7,381.0 226.0,376.9 226.4,379.2 226.7,377.2 227.1,377.6 227.4,377.5 227.7,380.9 228.1,378.5 228.4,402.1 228.7,379.4 229.1,377.8 229.4,367.0 229.8,378.7 230.1,380.3 230.4,378.1 230.8,380.1 231.1,364.9 231.4,380.7 231.8,375.5 232.1,382.3 232.5,401.5 232.8,378.6 233.1,378.2 233.5,377.2 233.8,375.6 234.1,375.9 234.5,378.9 234.8,377.0 235.2,378.1 235.5,399.0 235.8,377.4 236.2,379.0 236.5,369.0 236.8,379.9 237.2,386.7 237.5,377.7 237.9,380.6 238.2,377.9 238.5,380.2 238.9,380.3 239.2,382.0 239.5,369.0 239.9,380.4 240.2,379.6 240.6,381.0 240.9,383.7 241.2,377.9 241.6,379.3 241.9,374.3 242.2,378.4 242.6,380.9 242.9,379.6 243.3,379.9 243.6,376.9 243.9,378.2 244.3,379.3 244.6,379.0 244.9,373.5 245.3,381.1 245.6,379.0 246.0,382.0 246.3,379.6 246.6,378.5 247.0,377.1 247.3,378.7 247.6,377.6 248.0,377.2 248.3,378.6 248.7,380.4 249.0,391.8 249.3,381.1 249.7,379.3 250.0,369.0 250.3,380.8 250.7,380.6 251.0,390.7 251.4,380.3 251.7,378.0 252.0,377.8 252.4,376.1 252.7,374.2 253.0,380.4 253.4,376.9 253.7,380.8 254.1,377.0 254.4,381.2 254.7,379.1 255.1,380.1 255.4,384.6 255.7,378.0 256.1,378.7 256.4,383.7 256.8,378.0 257.1,379.2 257.4,377.3 257.8,376.6 258.1,378.1 258.4,379.5 258.8,378.4 259.1,380.8 259.5,375.7 259.8,380.9 260.1,379.9 260.5,372.1 260.8,381.7 261.1,380.8 261.5,380.9 261.8,374.4 262.1,379.0 262.5,384.1 262.8,377.0 263.2,379.3 263.5,384.7 263.8,373.3 264.2,377.8 264.5,378.7 264.8,379.3 265.2,382.0 265.5,379.1 265.9,381.6 266.2,375.2 266.5,373.5 266.9,378.8 267.2,379.5 267.5,377.6 267.9,383.3 268.2,376.6 268.6,372.1 268.9,376.7 269.2,376.0 269.6,385.6 269.9,380.9 270.2,378.7 270.6,378.2 270.9,378.4 271.3,381.2 271.6,380.3 271.9,374.4 272.3,374.9 272.6,383.5 272.9,379.4 273.3,379.1 273.6,372.1 274.0,377.1 274.3,381.2 274.6,376.9 275.0,376.2 275.3,374.2 275.6,380.8 276.0,375.1 276.3,377.1 276.7,376.5 277.0,379.6 277.3,384.5 277.7,374.3 278.0,377.4 278.3,379.2 278.7,382.4 279.0,382.5 279.4,378.2 279.7,380.1 280.0,377.5"/>
<line x1="33.90" y1="379.00" x2="280.20" y2="379.00" class="z"/>
<rect x="33.90" y="306.20" width="246.30" height="180.50" class="f"/>
<line x1="29.40" y1="307.20" x2="33.90" y2="307.20" class="k"/>
<text transform="translate(25.70 309.20) scale(0.8 1)" class="yl" text-anchor="end">.0004</text>
<line x1="29.40" y1="343.10" x2="33.90" y2="343.10" class="k"/>
<text transform="translate(25.70 345.10) scale(0.8 1)" class="yl" text-anchor="end">.0002</text>
<line x1="29.40" y1="379.00" x2="33.90" y2="379.00" class="k"/>
<text transform="translate(25.70 381.00) scale(0.8 1)" class="yl" text-anchor="end">.0000</text>
<line x1="29.40" y1="414.90" x2="33.90" y2="414.90" class="k"/>
<text transform="translate(25.70 416.90) scale(0.8 1)" class="yl" text-anchor="end">-.0002</text>
<line x1="29.40" y1="450.80" x2="33.90" y2="450.80" class="k"/>
<text transform="translate(25.70 452.80) scale(0.8 1)" class="yl" text-anchor="end">-.0004</text>
<line x1="29.40" y1="486.70" x2="33.90" y2="486.70" class="k"/>
<text transform="translate(25.70 488.70) scale(0.8 1)" class="yl" text-anchor="end">-.0006</text>
<line x1="43.34" y1="486.70" x2="43.34" y2="490.50" class="k"/>
<line x1="52.65" y1="486.70" x2="52.65" y2="490.50" class="k"/>
<line x1="62.94" y1="486.70" x2="62.94" y2="493.20" class="k"/>
<line x1="73.23" y1="486.70" x2="73.23" y2="490.50" class="k"/>
<line x1="84.02" y1="486.70" x2="84.02" y2="490.50" class="k"/>
<line x1="94.31" y1="486.70" x2="94.31" y2="493.20" class="k"/>
<line x1="104.60" y1="486.70" x2="104.60" y2="490.50" class="k"/>
<line x1="115.87" y1="486.70" x2="115.87" y2="490.50" class="k"/>
<line x1="125.18" y1="486.70" x2="125.18" y2="493.20" class="k"/>
<line x1="136.45" y1="486.70" x2="136.45" y2="490.50" class="k"/>
<line x1="146.74" y1="486.70" x2="146.74" y2="490.50" class="k"/>
<line x1="156.05" y1="486.70" x2="156.05" y2="493.20" class="k"/>
<line x1="166.35" y1="486.70" x2="166.35" y2="490.50" class="k"/>
<line x1="175.66" y1="486.70" x2="175.66" y2="490.50" class="k"/>
<line x1="185.95" y1="486.70" x2="185.95" y2="493.20" class="k"/>
<line x1="196.24" y1="486.70" x2="196.24" y2="490.50" class="k"/>
<line x1="207.02" y1="486.70" x2="207.02" y2="490.50" class="k"/>
<line x1="216.82" y1="486.70" x2="216.82" y2="493.20" class="k"/>
<line x1="227.60" y1="486.70" x2="227.60" y2="490.50" class="k"/>
<line x1="238.38" y1="486.70" x2="238.38" y2="490.50" class="k"/>
<line x1="248.19" y1="486.70" x2="248.19" y2="493.20" class="k"/>
<line x1="259.46" y1="486.70" x2="259.46" y2="490.50" class="k"/>
<line x1="269.26" y1="486.70" x2="269.26" y2="490.50" class="k"/>
<line x1="280.20" y1="486.70" x2="280.20" y2="493.20" class="k"/>
<text transform="translate(49.08 504.90) scale(0.8 1)" class="r" text-anchor="middle">I</text>
<text transform="translate(79.62 504.90) scale(0.8 1)" class="r" text-anchor="middle">II</text>
<text transform="translate(110.49 504.90) scale(0.8 1)" class="r" text-anchor="middle">III</text>
<text transform="translate(141.53 504.90) scale(0.8 1)" class="r" text-anchor="middle">IV</text>
<text transform="translate(95.47 523.70) scale(0.765 1)" class="yr" text-anchor="middle">2018</text>
<text transform="translate(172.23 504.90) scale(0.8 1)" class="r" text-anchor="middle">I</text>
<text transform="translate(202.77 504.90) scale(0.8 1)" class="r" text-anchor="middle">II</text>
<text transform="translate(233.64 504.90) scale(0.8 1)" class="r" text-anchor="middle">III</text>
<text transform="translate(264.68 504.90) scale(0.8 1)" class="r" text-anchor="middle">IV</text>
<text transform="translate(219.63 523.70) scale(0.765 1)" class="yr" text-anchor="middle">2019</text>
<text transform="translate(458.95 286.20) scale(0.8 1)" class="t" text-anchor="middle">Materials</text>
<polyline class="d" points="340.3,392.4 340.6,398.8 340.9,395.4 341.3,398.9 341.6,400.1 342.0,391.8 342.3,403.4 342.6,399.6 343.0,404.2 343.3,394.5 343.6,401.2 344.0,401.3 344.3,392.2 344.7,390.8 345.0,390.0 345.3,388.7 345.7,392.0 346.0,397.6 346.3,393.8 346.7,390.7 347.0,399.4 347.4,393.0 347.7,400.8 348.0,396.0 348.4,387.6 348.7,399.5 349.0,396.9 349.4,398.0 349.7,391.2 350.1,402.2 350.4,398.9 350.7,395.6 351.1,395.2 351.4,408.3 351.7,398.2 352.1,395.7 352.4,397.8 352.8,398.5 353.1,400.8 353.4,397.3 353.8,396.4 354.1,398.5 354.4,383.5 354.8,395.0 355.1,394.7 355.5,418.6 355.8,398.2 356.1,401.4 356.5,385.6 356.8,397.1 357.1,396.6 357.5,396.0 357.8,396.9 358.2,397.2 358.5,396.7 358.8,398.1 359.2,396.1 359.5,413.5 359.8,394.8 360.2,396.0 360.5,395.4 360.8,398.5 361.2,398.9 361.5,395.2 361.9,388.7 362.2,395.6 362.5,398.0 362.9,395.2 363.2,395.3 363.5,395.5 363.9,397.2 364.2,398.6 364.6,401.7 364.9,395.4 365.2,401.3 365.6,401.1 365.9,388.7 366.2,396.2 366.6,399.1 366.9,404.2 367.3,395.0 367.6,399.1 367.9,398.9 368.3,396.2 368.6,398.7 368.9,394.9 369.3,396.9 369.6,398.8 370.0,400.5 370.3,398.7 370.6,395.4 371.0,390.7 371.3,397.6 371.6,397.3 372.0,412.4 372.3,395.6 372.7,396.8 373.0,398.9 373.3,396.2 373.7,403.3 374.0,396.3 374.3,396.0 374.7,410.4 375.0,396.3 375.4,389.1 375.7,399.0 376.0,388.3 376.4,398.1 376.7,382.1 377.0,395.6 377.4,396.3 377.7,397.5 378.1,395.7 378.4,402.2 378.7,395.5 379.1,396.4 379.4,393.4 379.7,396.0 380.1,400.1 380.4,394.3 380.8,402.8 381.1,395.0 381.4,391.2 381.8,395.8 382.1,397.0 382.4,394.8 382.8,403.2 383.1,396.9 383.5,385.6 383.8,396.5 384.1,394.9 384.5,395.6 384.8,396.8 385.1,392.8 385.5,396.4 385.8,399.9 386.2,402.4 386.5,402.7 386.8,403.3 387.2,396.7 387.5,397.0 387.8,393.3 388.2,403.9 388.5,396.6 388.9,396.4 389.2,395.4 389.5,403.1 389.9,401.7 390.2,395.1 390.5,390.9 390.9,391.4 391.2,397.3 391.6,391.8 391.9,399.4 392.2,395.2 392.6,396.9 392.9,393.1 393.2,397.3 393.6,394.5 393.9,395.8 394.3,394.0 394.6,395.7 394.9,398.8 395.3,393.9 395.6,396.2 395.9,387.6 396.3,397.0 396.6,399.1 397.0,397.6 397.3,397.5 397.6,403.8 398.0,398.0 398.3,398.4 398.6,401.8 399.0,392.3 399.3,401.8 399.7,398.7 400.0,401.0 400.3,396.7 400.7,401.9 401.0,400.8 401.3,393.9 401.7,392.9 402.0,391.8 402.3,398.5 402.7,401.9 403.0,396.5 403.4,396.9 403.7,399.1 404.0,407.3 404.4,395.2 404.7,395.4 405.0,398.9 405.4,396.1 405.7,403.9 406.1,399.9 406.4,395.7 406.7,395.3 407.1,387.6 407.4,398.3 407.7,397.3 408.1,391.2 408.4,402.6 408.8,401.7 409.1,400.5 409.4,398.6 409.8,397.1 410.1,395.1 410.4,396.2 410.8,397.3 411.1,397.7 411.5,412.4 411.8,395.3 412.1,397.4 412.5,395.9 412.8,394.2 413.1,395.7 413.5,396.5 413.8,411.4 414.2,400.7 414.5,395.3 414.8,383.5 415.2,398.1 415.5,397.6 415.8,398.7 416.2,395.5 416.5,397.5 416.9,395.9 417.2,399.5 417.5,395.1 417.9,391.4 418.2,395.3 418.5,397.0 418.9,397.4 419.2,396.1 419.6,397.2 419.9,398.7 420.2,397.3 420.6,424.8 420.9,395.0 421.2,399.1 421.6,398.3 421.9,397.1 422.3,427.9 422.6,395.1 422.9,397.9 423.3,396.7 423.6,373.2 423.9,396.3 424.3,396.0 424.6,374.2 425.0,398.8 425.3,467.2 425.6,396.5 426.0,398.8 426.3,383.8 426.6,467.2 427.0,396.7 427.3,395.0 427.7,395.0 428.0,350.4 428.3,458.9 428.7,419.4 429.0,398.4 429.3,353.5 429.7,396.4 430.0,447.6 430.4,399.0 430.7,396.9 431.0,395.5 431.4,361.5 431.7,324.2 432.0,397.2 432.4,395.4 432.7,425.9 433.1,368.0 433.4,396.8 433.7,398.7 434.1,408.0 434.4,408.7 434.7,427.9 435.1,396.0 435.4,396.0 435.8,350.0 436.1,407.9 436.4,395.9 436.8,401.4 437.1,367.0 437.4,396.1 437.8,397.0 438.1,431.0 438.5,395.7 438.8,400.5 439.1,396.1 439.5,399.0 439.8,373.2 440.1,398.1 440.5,397.3 440.8,411.4 441.2,396.8 441.5,397.2 441.8,398.1 442.2,379.4 442.5,399.2 442.8,408.4 443.2,394.9 443.5,396.6 443.8,418.6 444.2,397.7 444.5,377.3 444.9,396.6 445.2,397.5 445.5,394.6 445.9,398.5 446.2,394.9 446.5,394.8 446.9,377.3 447.2,396.4 447.6,413.5 447.9,398.4 448.2,397.3 448.6,395.4 448.9,397.4 449.2,397.5 449.6,396.0 449.9,364.9 450.3,395.1 450.6,398.9 450.9,395.0 451.3,395.2 451.6,403.1 451.9,395.0 452.3,396.9 452.6,381.4 453.0,397.1 453.3,391.3 453.6,397.2 454.0,397.0 454.3,398.5 454.6,395.9 455.0,390.0 455.3,397.7 455.7,380.4 456.0,398.9 456.3,395.7 456.7,409.1 457.0,397.3 457.3,393.2 457.7,398.3 458.0,397.2 458.4,452.3 458.7,395.4 459.0,397.4 459.4,425.9 459.7,399.0 460.0,397.5 460.4,393.2 460.7,395.7 461.1,369.0 461.4,400.3 461.7,384.9 462.1,398.6 462.4,397.9 462.7,398.6 463.1,395.9 463.4,371.1 463.8,415.5 464.1,398.3 464.4,398.6 464.8,399.1 465.1,394.3 465.4,394.9 465.8,398.6 466.1,398.0 466.5,396.9 466.8,394.3 467.1,398.2 467.5,398.0 467.8,396.3 468.1,385.6 468.5,396.3 468.8,397.5 469.2,407.3 469.5,397.0 469.8,398.1 470.2,383.5 470.5,396.9 470.8,398.4 471.2,395.7 471.5,398.0 471.9,395.6 472.2,394.5 472.5,400.9 472.9,401.6 473.2,399.1 473.5,396.4 473.9,393.5 474.2,407.3 474.6,391.4 474.9,397.5 475.2,398.0 475.6,394.8 475.9,397.6 476.2,383.5 476.6,397.2 476.9,397.9 477.3,397.0 477.6,395.8 477.9,398.2 478.3,400.8 478.6,396.4 478.9,396.3 479.3,397.0 479.6,394.9 480.0,399.1 480.3,397.2 480.6,403.0 481.0,392.1 481.3,395.7 481.6,397.3 482.0,402.8 482.3,397.8 482.7,396.3 483.0,395.7 483.3,395.2 483.7,397.8 484.0,400.2 484.3,392.5 484.7,403.1 485.0,394.5 485.3,396.0 485.7,387.6 486.0,403.1 486.4,400.9 486.7,390.1 487.0,395.4 487.4,395.9 487.7,395.4 488.0,395.1 488.4,397.8 488.7,396.4 489.1,418.6 489.4,395.1 489.7,397.9 490.1,396.5 490.4,397.5 490.7,398.9 491.1,396.9 491.4,395.4 491.8,401.6 492.1,394.9 492.4,396.8 492.8,387.2 493.1,403.9 493.4,396.2 493.8,390.2 494.1,400.2 494.5,398.6 494.8,396.4 495.1,396.6 495.5,399.5 495.8,396.3 496.1,393.3 496.5,402.0 496.8,398.4 497.2,395.7 497.5,398.2 497.8,401.8 498.2,402.0 498.5,393.1 498.8,396.4 499.2,402.3 499.5,397.7 499.9,398.1 500.2,396.7 500.5,396.8 500.9,398.0 501.2,408.3 501.5,398.8 501.9,396.5 502.2,394.4 502.6,396.7 502.9,398.6 503.2,388.7 503.6,394.5 503.9,393.0 504.2,397.4 504.6,401.0 504.9,398.9 505.3,398.3 505.6,396.0 505.9,403.4 506.3,398.3 506.6,396.9 506.9,414.5 507.3,395.2 507.6,393.8 508.0,396.8 508.3,394.9 508.6,398.8 509.0,390.4 509.3,387.6 509.6,396.1 510.0,398.6 510.3,395.6 510.7,408.3 511.0,396.9 511.3,395.9 511.7,397.2 512.0,394.8 512.3,398.9 512.7,392.6 513.0,394.8 513.4,398.4 513.7,396.5 514.0,402.1 514.4,377.3 514.7,397.7 515.0,397.0 515.4,395.4 515.7,398.9 516.1,398.2 516.4,395.0 516.7,395.1 517.1,395.3 517.4,398.7 517.7,394.8 518.1,393.2 518.4,396.5 518.8,397.4 519.1,401.3 519.4,398.9 519.8,389.7 520.1,396.5 520.4,394.8 520.8,395.6 521.1,397.6 521.5,402.9 521.8,395.6 522.1,396.8 522.5,396.2 522.8,402.6 523.1,393.9 523.5,398.2 523.8,390.1 524.2,401.5 524.5,400.6 524.8,394.9 525.2,403.3 525.5,392.1 525.8,394.7 526.2,396.9 526.5,396.7 526.8,393.1 527.2,388.7 527.5,396.0 527.9,402.1 528.2,392.3 528.5,399.5 528.9,396.5 529.2,395.6 529.5,397.6 529.9,395.4 530.2,396.2 530.6,397.1 530.9,396.5 531.2,397.1 531.6,390.8 531.9,396.0 532.2,394.9 532.6,401.0 532.9,390.8 533.3,394.9 533.6,396.9 533.9,398.0 534.3,396.0 534.6,397.7 534.9,397.7 535.3,409.3 535.6,399.0 536.0,395.9 536.3,383.5 536.6,397.3 537.0,397.8 537.3,395.7 537.6,400.5 538.0,409.8 538.3,411.2 538.7,418.6 539.0,397.9 539.3,396.6 539.7,397.4 540.0,385.6 540.3,394.8 540.7,395.6 541.0,396.5 541.4,399.1 541.7,394.4 542.0,413.5 542.4,395.6 542.7,391.7 543.0,398.6 543.4,397.7 543.7,396.7 544.1,396.5 544.4,393.3 544.7,395.6 545.1,395.4 545.4,394.0 545.7,388.7 546.1,403.1 546.4,394.3 546.8,390.4 547.1,403.9 547.4,395.5 547.8,395.6 548.1,396.5 548.4,397.6 548.8,396.7 549.1,397.9 549.5,395.6 549.8,395.5 550.1,398.2 550.5,396.4 550.8,398.3 551.1,398.7 551.5,395.7 551.8,395.5 552.2,402.0 552.5,397.0 552.8,403.4 553.2,399.1 553.5,396.7 553.8,398.4 554.2,395.7 554.5,396.4 554.9,412.4 555.2,392.3 555.5,396.0 555.9,399.0 556.2,395.2 556.5,397.1 556.9,395.4 557.2,393.8 557.6,395.6 557.9,398.8 558.2,397.2 558.6,395.7 558.9,382.1 559.2,398.6 559.6,398.1 559.9,394.8 560.3,394.8 560.6,396.9 560.9,398.0 561.3,399.2 561.6,401.6 561.9,402.4 562.3,398.2 562.6,400.9 563.0,402.7 563.3,395.3 563.6,398.8 564.0,397.5 564.3,402.7 564.6,397.9 565.0,395.8 565.3,397.7 565.7,395.4 566.0,397.1 566.3,384.9 566.7,395.7 567.0,396.2 567.3,395.9 567.7,396.1 568.0,396.1 568.3,393.3 568.7,401.2 569.0,401.0 569.4,402.8 569.7,393.1 570.0,402.2 570.4,399.0 570.7,392.6 571.0,403.7 571.4,395.6 571.7,394.9 572.1,395.6 572.4,396.6 572.7,397.2 573.1,397.4 573.4,396.4 573.7,391.2 574.1,398.3 574.4,395.7 574.8,398.7 575.1,395.3 575.4,403.1 575.8,400.3 576.1,395.8 576.4,398.0 576.8,397.1 577.1,394.0 577.5,390.1 577.8,398.8 578.1,397.7 578.5,390.6 578.8,394.8 579.1,396.6 579.5,394.8 579.8,387.2 580.2,400.8 580.5,398.3 580.8,391.0 581.2,398.8 581.5,396.1 581.8,396.2 582.2,403.2 582.5,392.1 582.9,392.6 583.2,395.2 583.5,393.6 583.9,393.3 584.2,393.2 584.5,395.1 584.9,400.7 585.2,401.8 585.6,398.0 585.9,402.1 586.2,400.5"/>
<line x1="340.10" y1="396.95" x2="586.40" y2="396.95" class="z"/>
<rect x="340.10" y="306.20" width="246.30" height="180.50" class="f"/>
<line x1="335.60" y1="307.20" x2="340.10" y2="307.20" class="k"/>
<text transform="translate(331.90 309.20) scale(0.8 1)" class="yl" text-anchor="end">.0006</text>
<line x1="335.60" y1="337.12" x2="340.10" y2="337.12" class="k"/>
<text transform="translate(331.90 339.12) scale(0.8 1)" class="yl" text-anchor="end">.0004</text>
<line x1="335.60" y1="367.03" x2="340.10" y2="367.03" class="k"/>
<text transform="translate(331.90 369.03) scale(0.8 1)" class="yl" text-anchor="end">.0002</text>
<line x1="335.60" y1="396.95" x2="340.10" y2="396.95" class="k"/>
<text transform="translate(331.90 398.95) scale(0.8 1)" class="yl" text-anchor="end">.0000</text>
<line x1="335.60" y1="426.87" x2="340.10" y2="426.87" class="k"/>
<text transform="translate(331.90 428.87) scale(0.8 1)" class="yl" text-anchor="end">-.0002</text>
<line x1="335.60" y1="456.78" x2="340.10" y2="456.78" class="k"/>
<text transform="translate(331.90 458.78) scale(0.8 1)" class="yl" text-anchor="end">-.0004</text>
<line x1="335.60" y1="486.70" x2="340.10" y2="486.70" class="k"/>
<text transform="translate(331.90 488.70) scale(0.8 1)" class="yl" text-anchor="end">-.0006</text>
<line x1="349.54" y1="486.70" x2="349.54" y2="490.50" class="k"/>
<line x1="358.85" y1="486.70" x2="358.85" y2="490.50" class="k"/>
<line x1="369.14" y1="486.70" x2="369.14" y2="493.20" class="k"/>
<line x1="379.43" y1="486.70" x2="379.43" y2="490.50" class="k"/>
<line x1="390.22" y1="486.70" x2="390.22" y2="490.50" class="k"/>
<line x1="400.51" y1="486.70" x2="400.51" y2="493.20" class="k"/>
<line x1="410.80" y1="486.70" x2="410.80" y2="490.50" class="k"/>
<line x1="422.07" y1="486.70" x2="422.07" y2="490.50" class="k"/>
<line x1="431.38" y1="486.70" x2="431.38" y2="493.20" class="k"/>
<line x1="442.65" y1="486.70" x2="442.65" y2="490.50" class="k"/>
<line x1="452.94" y1="486.70" x2="452.94" y2="490.50" class="k"/>
<line x1="462.25" y1="486.70" x2="462.25" y2="493.20" class="k"/>
<line x1="472.55" y1="486.70" x2="472.55" y2="490.50" class="k"/>
<line x1="481.86" y1="486.70" x2="481.86" y2="490.50" class="k"/>
<line x1="492.15" y1="486.70" x2="492.15" y2="493.20" class="k"/>
<line x1="502.44" y1="486.70" x2="502.44" y2="490.50" class="k"/>
<line x1="513.22" y1="486.70" x2="513.22" y2="490.50" class="k"/>
<line x1="523.02" y1="486.70" x2="523.02" y2="493.20" class="k"/>
<line x1="533.80" y1="486.70" x2="533.80" y2="490.50" class="k"/>
<line x1="544.58" y1="486.70" x2="544.58" y2="490.50" class="k"/>
<line x1="554.39" y1="486.70" x2="554.39" y2="493.20" class="k"/>
<line x1="565.66" y1="486.70" x2="565.66" y2="490.50" class="k"/>
<line x1="575.46" y1="486.70" x2="575.46" y2="490.50" class="k"/>
<line x1="586.40" y1="486.70" x2="586.40" y2="493.20" class="k"/>
<text transform="translate(355.28 504.90) scale(0.8 1)" class="r" text-anchor="middle">I</text>
<text transform="translate(385.82 504.90) scale(0.8 1)" class="r" text-anchor="middle">II</text>
<text transform="translate(416.69 504.90) scale(0.8 1)" class="r" text-anchor="middle">III</text>
<text transform="translate(447.73 504.90) scale(0.8 1)" class="r" text-anchor="middle">IV</text>
<text transform="translate(401.68 523.70) scale(0.765 1)" class="yr" text-anchor="middle">2018</text>
<text transform="translate(478.43 504.90) scale(0.8 1)" class="r" text-anchor="middle">I</text>
<text transform="translate(508.97 504.90) scale(0.8 1)" class="r" text-anchor="middle">II</text>
<text transform="translate(539.84 504.90) scale(0.8 1)" class="r" text-anchor="middle">III</text>
<text transform="translate(570.88 504.90) scale(0.8 1)" class="r" text-anchor="middle">IV</text>
<text transform="translate(525.83 523.70) scale(0.765 1)" class="yr" text-anchor="middle">2019</text>
<text transform="translate(765.35 286.20) scale(0.8 1)" class="t" text-anchor="middle" textLength="39.5" lengthAdjust="spacing">O &amp; G</text>
<polyline class="d" points="646.7,377.8 647.0,380.2 647.3,378.1 647.7,386.6 648.0,374.2 648.4,384.6 648.7,383.3 649.0,374.4 649.4,377.7 649.7,377.1 650.0,373.2 650.4,377.9 650.7,382.6 651.1,383.6 651.4,379.1 651.7,379.4 652.1,383.9 652.4,377.9 652.7,379.9 653.1,383.1 653.4,377.6 653.8,379.1 654.1,379.4 654.4,377.2 654.8,380.6 655.1,378.5 655.4,380.8 655.8,383.6 656.1,383.3 656.5,380.1 656.8,383.9 657.1,379.0 657.5,377.0 657.8,377.4 658.1,385.6 658.5,390.7 658.8,378.8 659.2,377.9 659.5,378.2 659.8,379.6 660.2,380.9 660.5,368.0 660.8,377.6 661.2,380.2 661.5,378.8 661.9,380.1 662.2,378.5 662.5,395.3 662.9,380.0 663.2,379.6 663.5,371.1 663.9,381.1 664.2,381.2 664.6,377.8 664.9,377.6 665.2,375.7 665.6,392.8 665.9,379.0 666.2,378.2 666.6,377.6 666.9,379.9 667.2,379.7 667.6,377.1 667.9,378.5 668.3,377.2 668.6,373.7 668.9,379.5 669.3,380.0 669.6,373.2 669.9,379.9 670.3,376.1 670.6,378.5 671.0,371.1 671.3,379.2 671.6,377.7 672.0,378.7 672.3,381.0 672.6,378.8 673.0,364.5 673.3,385.6 673.7,383.4 674.0,379.4 674.3,379.1 674.7,380.9 675.0,378.9 675.3,376.1 675.7,376.9 676.0,380.7 676.4,379.6 676.7,377.1 677.0,383.9 677.4,378.9 677.7,379.7 678.0,387.6 678.4,378.3 678.7,376.2 679.1,382.3 679.4,379.7 679.7,380.8 680.1,373.2 680.4,375.6 680.7,380.9 681.1,373.9 681.4,382.5 681.8,374.1 682.1,383.9 682.4,381.8 682.8,374.7 683.1,384.2 683.4,380.4 683.8,379.4 684.1,378.2 684.5,379.0 684.8,374.7 685.1,372.1 685.5,375.3 685.8,381.8 686.1,379.6 686.5,379.9 686.8,375.8 687.2,383.3 687.5,384.1 687.8,379.5 688.2,379.0 688.5,379.6 688.8,379.5 689.2,380.5 689.5,377.9 689.9,367.0 690.2,380.3 690.5,387.6 690.9,379.5 691.2,378.1 691.5,380.4 691.9,378.8 692.2,379.7 692.6,380.8 692.9,384.5 693.2,380.3 693.6,378.8 693.9,379.4 694.2,376.9 694.6,382.7 694.9,378.6 695.3,379.4 695.6,374.2 695.9,378.1 696.3,376.6 696.6,379.2 696.9,375.8 697.3,377.2 697.6,385.6 698.0,373.9 698.3,377.5 698.6,374.8 699.0,379.2 699.3,373.6 699.6,381.5 700.0,382.0 700.3,377.8 700.7,371.1 701.0,383.3 701.3,377.3 701.7,381.0 702.0,376.0 702.3,384.2 702.7,383.9 703.0,379.2 703.4,376.6 703.7,376.5 704.0,371.1 704.4,378.4 704.7,374.7 705.0,375.0 705.4,384.7 705.7,373.2 706.1,381.4 706.4,378.3 706.7,375.8 707.1,376.1 707.4,379.6 707.7,382.8 708.1,383.8 708.4,380.5 708.7,383.5 709.1,380.1 709.4,381.9 709.8,380.0 710.1,380.3 710.4,378.0 710.8,373.4 711.1,376.3 711.4,378.0 711.8,380.4 712.1,385.6 712.5,376.8 712.8,379.0 713.1,379.1 713.5,379.3 713.8,379.4 714.1,384.3 714.5,377.4 714.8,384.3 715.2,380.4 715.5,379.6 715.8,378.1 716.2,378.4 716.5,384.5 716.8,380.3 717.2,377.7 717.5,378.3 717.9,382.3 718.2,390.7 718.5,380.3 718.9,378.4 719.2,381.0 719.5,379.7 719.9,373.6 720.2,379.9 720.6,378.4 720.9,364.9 721.2,375.2 721.6,380.5 721.9,380.0 722.2,379.5 722.6,377.1 722.9,384.9 723.3,377.1 723.6,374.8 723.9,379.6 724.3,378.2 724.6,373.2 724.9,377.6 725.3,377.4 725.6,379.6 726.0,378.3 726.3,377.6 726.6,396.9 727.0,380.7 727.3,378.9 727.6,378.4 728.0,392.6 728.3,400.0 728.7,375.5 729.0,378.0 729.3,379.8 729.7,369.0 730.0,378.6 730.3,377.0 730.7,379.1 731.0,378.1 731.4,469.3 731.7,379.1 732.0,378.1 732.4,360.8 732.7,440.3 733.0,379.8 733.4,399.2 733.7,346.3 734.1,427.9 734.4,382.8 734.7,380.0 735.1,379.6 735.4,353.5 735.7,437.2 736.1,380.1 736.4,377.2 736.8,377.4 737.1,405.2 737.4,322.1 737.8,380.7 738.1,377.4 738.4,381.0 738.8,378.3 739.1,359.7 739.5,406.2 739.8,378.7 740.1,374.9 740.5,377.8 740.8,347.3 741.1,386.9 741.5,365.7 741.8,387.5 742.2,354.6 742.5,396.9 742.8,379.0 743.2,378.3 743.5,378.0 743.8,373.0 744.2,378.5 744.5,379.6 744.9,374.0 745.2,395.9 745.5,377.4 745.9,342.2 746.2,380.1 746.5,379.2 746.9,377.9 747.2,365.9 747.6,372.7 747.9,379.8 748.2,378.9 748.6,380.5 748.9,380.3 749.2,373.1 749.6,387.0 749.9,351.1 750.2,377.1 750.6,377.5 750.9,403.1 751.3,378.6 751.6,388.1 751.9,377.9 752.3,362.2 752.6,385.2 752.9,377.2 753.3,377.3 753.6,396.9 754.0,377.8 754.3,381.1 754.6,379.7 755.0,362.6 755.3,379.8 755.6,379.5 756.0,350.0 756.3,377.5 756.7,380.2 757.0,378.0 757.3,388.7 757.7,377.1 758.0,380.9 758.3,377.5 758.7,364.9 759.0,375.3 759.4,389.7 759.7,379.0 760.0,378.9 760.4,381.8 760.7,380.5 761.0,384.0 761.4,379.1 761.7,378.0 762.1,377.2 762.4,350.0 762.7,379.0 763.1,391.3 763.4,378.0 763.7,380.8 764.1,417.6 764.4,375.9 764.8,379.5 765.1,388.8 765.4,379.9 765.8,407.3 766.1,385.3 766.4,380.0 766.8,355.0 767.1,379.2 767.5,377.5 767.8,377.6 768.1,384.7 768.5,380.1 768.8,369.1 769.1,377.1 769.5,364.9 769.8,392.8 770.2,377.4 770.5,379.3 770.8,379.8 771.2,373.4 771.5,375.7 771.8,382.3 772.2,378.2 772.5,383.1 772.9,380.2 773.2,383.8 773.5,379.5 773.9,376.9 774.2,382.9 774.5,380.5 774.9,379.3 775.2,371.7 775.6,387.6 775.9,384.9 776.2,375.0 776.6,378.0 776.9,381.0 777.2,380.6 777.6,377.6 777.9,379.5 778.3,372.1 778.6,378.6 778.9,380.8 779.3,379.9 779.6,382.0 779.9,375.8 780.3,375.4 780.6,380.7 781.0,384.8 781.3,376.0 781.6,375.0 782.0,379.1 782.3,386.6 782.6,378.3 783.0,381.2 783.3,372.1 783.7,384.1 784.0,378.2 784.3,380.9 784.7,381.1 785.0,374.4 785.3,379.9 785.7,377.1 786.0,376.0 786.4,384.8 786.7,379.4 787.0,380.4 787.4,377.0 787.7,380.6 788.0,379.2 788.4,379.1 788.7,378.6 789.1,384.3 789.4,380.9 789.7,380.2 790.1,378.2 790.4,380.2 790.7,373.2 791.1,386.6 791.4,382.5 791.7,382.0 792.1,380.8 792.4,380.2 792.8,378.0 793.1,381.5 793.4,379.6 793.8,379.0 794.1,379.3 794.4,378.4 794.8,379.5 795.1,389.7 795.5,378.7 795.8,379.2 796.1,380.6 796.5,378.1 796.8,373.2 797.1,375.5 797.5,380.9 797.8,376.4 798.2,380.4 798.5,374.8 798.8,380.7 799.2,378.4 799.5,376.6 799.8,375.1 800.2,378.7 800.5,377.1 800.9,375.2 801.2,379.5 801.5,377.6 801.9,376.6 802.2,377.9 802.5,373.6 802.9,378.2 803.2,378.9 803.6,378.1 803.9,378.7 804.2,380.6 804.6,382.7 804.9,381.1 805.2,384.9 805.6,379.1 805.9,375.8 806.3,370.5 806.6,377.2 806.9,378.1 807.3,386.6 807.6,373.4 807.9,374.8 808.3,376.6 808.6,384.1 809.0,378.9 809.3,381.4 809.6,383.7 810.0,377.0 810.3,384.3 810.6,380.1 811.0,375.0 811.3,374.2 811.7,384.7 812.0,380.3 812.3,378.9 812.7,379.3 813.0,378.1 813.3,377.5 813.7,379.1 814.0,375.3 814.4,380.4 814.7,383.6 815.0,381.1 815.4,384.5 815.7,378.6 816.0,378.7 816.4,380.0 816.7,391.8 817.1,378.2 817.4,378.4 817.7,380.1 818.1,376.8 818.4,380.4 818.7,380.1 819.1,380.9 819.4,375.2 819.8,378.0 820.1,377.1 820.4,379.9 820.8,372.1 821.1,380.0 821.4,375.7 821.8,375.4 822.1,376.5 822.5,381.3 822.8,378.2 823.1,378.9 823.5,384.5 823.8,377.0 824.1,373.6 824.5,380.6 824.8,380.1 825.2,376.9 825.5,378.9 825.8,379.4 826.2,380.5 826.5,379.1 826.8,371.1 827.2,378.3 827.5,383.7 827.9,383.3 828.2,382.5 828.5,379.1 828.9,380.4 829.2,377.0 829.5,383.7 829.9,380.8 830.2,374.1 830.6,383.2 830.9,380.4 831.2,379.9 831.6,380.9 831.9,374.2 832.2,379.4 832.6,380.3 832.9,381.4 833.2,375.3 833.6,377.8 833.9,377.6 834.3,384.3 834.6,377.2 834.9,380.1 835.3,384.7 835.6,374.5 835.9,379.4 836.3,373.8 836.6,375.7 837.0,377.2 837.3,377.2 837.6,378.4 838.0,381.1 838.3,379.5 838.6,375.0 839.0,379.7 839.3,375.4 839.7,378.5 840.0,373.6 840.3,380.0 840.7,376.8 841.0,378.8 841.3,390.7 841.7,377.1 842.0,383.8 842.4,368.0 842.7,373.3 843.0,385.7 843.4,380.0 843.7,379.6 844.0,374.6 844.4,378.0 844.7,395.3 845.1,379.6 845.4,377.5 845.7,380.0 846.1,371.1 846.4,378.3 846.7,380.3 847.1,378.0 847.4,380.5 847.8,380.5 848.1,392.8 848.4,380.5 848.8,377.7 849.1,381.0 849.4,377.6 849.8,377.6 850.1,379.3 850.5,374.4 850.8,374.1 851.1,381.6 851.5,379.7 851.8,379.5 852.1,378.5 852.5,385.0 852.8,372.1 853.2,383.0 853.5,376.8 853.8,379.2 854.2,378.2 854.5,377.9 854.8,379.8 855.2,380.7 855.5,379.5 855.9,364.5 856.2,378.6 856.5,376.2 856.9,380.9 857.2,379.4 857.5,379.8 857.9,381.0 858.2,379.7 858.6,374.2 858.9,378.4 859.2,378.1 859.6,379.9 859.9,381.0 860.2,375.7 860.6,380.1 860.9,387.6 861.3,378.8 861.6,373.1 861.9,377.5 862.3,379.8 862.6,378.6 862.9,373.2 863.3,380.3 863.6,381.4 864.0,380.1 864.3,380.2 864.6,378.0 865.0,376.1 865.3,380.1 865.6,376.6 866.0,380.7 866.3,377.5 866.7,379.5 867.0,374.8 867.3,377.9 867.7,379.3 868.0,384.0 868.3,380.3 868.7,379.5 869.0,380.9 869.4,377.4 869.7,378.1 870.0,377.1 870.4,373.0 870.7,379.1 871.0,379.9 871.4,387.6 871.7,380.2 872.1,372.2 872.4,379.8 872.7,381.0 873.1,367.0 873.4,380.0 873.7,379.7 874.1,379.1 874.4,374.0 874.7,378.9 875.1,381.0 875.4,373.1 875.8,379.8 876.1,375.3 876.4,373.6 876.8,378.1 877.1,381.1 877.4,379.5 877.8,379.6 878.1,384.6 878.5,373.0 878.8,380.8 879.1,373.1 879.5,373.2 879.8,379.0 880.1,378.5 880.5,382.5 880.8,379.1 881.2,377.0 881.5,386.6 881.8,378.4 882.2,377.2 882.5,379.9 882.8,381.8 883.2,379.7 883.5,379.5 883.9,380.7 884.2,374.9 884.5,376.8 884.9,377.0 885.2,380.7 885.5,373.8 885.9,371.1 886.2,380.6 886.6,378.5 886.9,382.1 887.2,380.3 887.6,379.3 887.9,379.7 888.2,377.0 888.6,378.7 888.9,378.8 889.3,381.1 889.6,376.8 889.9,381.0 890.3,380.6 890.6,378.2 890.9,380.9 891.3,383.8 891.6,373.8 892.0,382.5 892.3,377.1 892.6,383.9"/>
<line x1="646.50" y1="379.00" x2="892.80" y2="379.00" class="z"/>
<rect x="646.50" y="306.20" width="246.30" height="180.50" class="f"/>
<line x1="642.00" y1="307.20" x2="646.50" y2="307.20" class="k"/>
<text transform="translate(638.30 309.20) scale(0.8 1)" class="yl" text-anchor="end">.0008</text>
<line x1="642.00" y1="343.10" x2="646.50" y2="343.10" class="k"/>
<text transform="translate(638.30 345.10) scale(0.8 1)" class="yl" text-anchor="end">.0004</text>
<line x1="642.00" y1="379.00" x2="646.50" y2="379.00" class="k"/>
<text transform="translate(638.30 381.00) scale(0.8 1)" class="yl" text-anchor="end">.0000</text>
<line x1="642.00" y1="414.90" x2="646.50" y2="414.90" class="k"/>
<text transform="translate(638.30 416.90) scale(0.8 1)" class="yl" text-anchor="end">-.0004</text>
<line x1="642.00" y1="450.80" x2="646.50" y2="450.80" class="k"/>
<text transform="translate(638.30 452.80) scale(0.8 1)" class="yl" text-anchor="end">-.0008</text>
<line x1="642.00" y1="486.70" x2="646.50" y2="486.70" class="k"/>
<text transform="translate(638.30 488.70) scale(0.8 1)" class="yl" text-anchor="end">-.0012</text>
<line x1="655.94" y1="486.70" x2="655.94" y2="490.50" class="k"/>
<line x1="665.25" y1="486.70" x2="665.25" y2="490.50" class="k"/>
<line x1="675.54" y1="486.70" x2="675.54" y2="493.20" class="k"/>
<line x1="685.83" y1="486.70" x2="685.83" y2="490.50" class="k"/>
<line x1="696.62" y1="486.70" x2="696.62" y2="490.50" class="k"/>
<line x1="706.91" y1="486.70" x2="706.91" y2="493.20" class="k"/>
<line x1="717.20" y1="486.70" x2="717.20" y2="490.50" class="k"/>
<line x1="728.47" y1="486.70" x2="728.47" y2="490.50" class="k"/>
<line x1="737.78" y1="486.70" x2="737.78" y2="493.20" class="k"/>
<line x1="749.05" y1="486.70" x2="749.05" y2="490.50" class="k"/>
<line x1="759.34" y1="486.70" x2="759.34" y2="490.50" class="k"/>
<line x1="768.65" y1="486.70" x2="768.65" y2="493.20" class="k"/>
<line x1="778.95" y1="486.70" x2="778.95" y2="490.50" class="k"/>
<line x1="788.26" y1="486.70" x2="788.26" y2="490.50" class="k"/>
<line x1="798.55" y1="486.70" x2="798.55" y2="493.20" class="k"/>
<line x1="808.84" y1="486.70" x2="808.84" y2="490.50" class="k"/>
<line x1="819.62" y1="486.70" x2="819.62" y2="490.50" class="k"/>
<line x1="829.42" y1="486.70" x2="829.42" y2="493.20" class="k"/>
<line x1="840.20" y1="486.70" x2="840.20" y2="490.50" class="k"/>
<line x1="850.98" y1="486.70" x2="850.98" y2="490.50" class="k"/>
<line x1="860.79" y1="486.70" x2="860.79" y2="493.20" class="k"/>
<line x1="872.06" y1="486.70" x2="872.06" y2="490.50" class="k"/>
<line x1="881.86" y1="486.70" x2="881.86" y2="490.50" class="k"/>
<line x1="892.80" y1="486.70" x2="892.80" y2="493.20" class="k"/>
<text transform="translate(661.68 504.90) scale(0.8 1)" class="r" text-anchor="middle">I</text>
<text transform="translate(692.22 504.90) scale(0.8 1)" class="r" text-anchor="middle">II</text>
<text transform="translate(723.09 504.90) scale(0.8 1)" class="r" text-anchor="middle">III</text>
<text transform="translate(754.13 504.90) scale(0.8 1)" class="r" text-anchor="middle">IV</text>
<text transform="translate(708.08 523.70) scale(0.765 1)" class="yr" text-anchor="middle">2018</text>
<text transform="translate(784.83 504.90) scale(0.8 1)" class="r" text-anchor="middle">I</text>
<text transform="translate(815.37 504.90) scale(0.8 1)" class="r" text-anchor="middle">II</text>
<text transform="translate(846.24 504.90) scale(0.8 1)" class="r" text-anchor="middle">III</text>
<text transform="translate(877.28 504.90) scale(0.8 1)" class="r" text-anchor="middle">IV</text>
<text transform="translate(832.23 523.70) scale(0.765 1)" class="yr" text-anchor="middle">2019</text>
<text transform="translate(1070.45 286.20) scale(0.8 1)" class="t" text-anchor="middle">REIT</text>
<polyline class="d" points="952.8,351.7 953.1,351.3 953.4,349.0 953.8,350.2 954.1,340.1 954.5,344.1 954.8,352.8 955.1,351.5 955.5,353.2 955.8,352.5 956.1,358.7 956.5,353.0 956.8,353.4 957.2,354.4 957.5,350.4 957.8,351.4 958.2,354.2 958.5,353.3 958.8,351.9 959.2,360.8 959.5,353.1 959.9,349.1 960.2,347.3 960.5,353.7 960.9,350.5 961.2,355.2 961.5,354.1 961.9,351.5 962.2,353.4 962.6,350.2 962.9,352.9 963.2,351.5 963.6,353.9 963.9,352.6 964.2,353.3 964.6,351.5 964.9,360.8 965.3,352.6 965.6,352.6 965.9,350.3 966.3,350.1 966.6,344.2 966.9,353.7 967.3,347.0 967.6,356.2 968.0,348.2 968.3,355.9 968.6,352.4 969.0,350.0 969.3,351.9 969.6,352.3 970.0,351.6 970.3,351.0 970.7,358.7 971.0,353.6 971.3,356.8 971.7,347.3 972.0,351.9 972.3,353.8 972.7,351.8 973.0,354.6 973.3,352.5 973.7,350.4 974.0,347.2 974.4,355.5 974.7,350.1 975.0,353.0 975.4,355.0 975.7,348.8 976.0,356.0 976.4,353.4 976.7,349.2 977.1,355.3 977.4,355.5 977.7,357.7 978.1,354.0 978.4,349.2 978.7,356.0 979.1,350.6 979.4,353.3 979.8,346.3 980.1,353.6 980.4,348.2 980.8,352.0 981.1,356.8 981.4,352.3 981.8,356.0 982.1,350.1 982.5,348.3 982.8,352.5 983.1,348.4 983.5,352.9 983.8,352.6 984.1,355.6 984.5,352.4 984.8,354.2 985.2,347.3 985.5,352.2 985.8,356.0 986.2,353.8 986.5,351.0 986.8,350.8 987.2,350.3 987.5,347.9 987.9,350.7 988.2,356.2 988.5,351.9 988.9,348.5 989.2,353.8 989.5,353.8 989.9,347.1 990.2,352.8 990.6,350.8 990.9,349.9 991.2,351.2 991.6,349.9 991.9,353.5 992.2,351.2 992.6,354.2 992.9,349.4 993.3,348.4 993.6,355.6 993.9,352.6 994.3,351.1 994.6,350.4 994.9,353.1 995.3,354.1 995.6,352.1 996.0,350.5 996.3,360.8 996.6,350.7 997.0,353.3 997.3,351.0 997.6,353.1 998.0,353.5 998.3,355.3 998.7,351.8 999.0,350.6 999.3,347.5 999.7,350.2 1000.0,351.9 1000.3,353.5 1000.7,353.6 1001.0,352.5 1001.4,354.0 1001.7,356.0 1002.0,351.1 1002.4,354.7 1002.7,350.4 1003.0,354.9 1003.4,351.2 1003.7,353.8 1004.1,349.1 1004.4,353.2 1004.7,345.3 1005.1,356.5 1005.4,353.2 1005.7,358.7 1006.1,350.5 1006.4,352.6 1006.8,353.1 1007.1,347.1 1007.4,351.4 1007.8,351.4 1008.1,350.0 1008.4,351.2 1008.8,352.5 1009.1,347.6 1009.5,347.3 1009.8,356.0 1010.1,352.1 1010.5,350.3 1010.8,353.7 1011.1,351.6 1011.5,352.8 1011.8,346.3 1012.2,347.9 1012.5,353.1 1012.8,352.8 1013.2,353.7 1013.5,350.5 1013.8,353.9 1014.2,347.9 1014.5,348.6 1014.8,352.7 1015.2,358.7 1015.5,347.4 1015.9,350.4 1016.2,357.0 1016.5,350.9 1016.9,356.2 1017.2,350.7 1017.5,353.6 1017.9,354.6 1018.2,352.8 1018.6,352.1 1018.9,350.7 1019.2,353.8 1019.6,349.3 1019.9,352.7 1020.2,347.3 1020.6,354.1 1020.9,356.4 1021.3,351.6 1021.6,351.3 1021.9,354.0 1022.3,347.7 1022.6,355.7 1022.9,351.8 1023.3,347.9 1023.6,354.9 1024.0,353.2 1024.3,350.8 1024.6,350.1 1025.0,353.6 1025.3,357.7 1025.6,348.2 1026.0,350.8 1026.3,353.9 1026.7,352.0 1027.0,353.9 1027.3,354.1 1027.7,353.4 1028.0,353.3 1028.3,350.9 1028.7,354.2 1029.0,348.8 1029.4,346.3 1029.7,350.2 1030.0,347.6 1030.4,356.9 1030.7,354.7 1031.0,354.2 1031.4,353.7 1031.7,359.7 1032.1,351.8 1032.4,350.5 1032.7,354.1 1033.1,350.9 1033.4,352.0 1033.7,351.5 1034.1,350.7 1034.4,350.2 1034.8,378.3 1035.1,350.8 1035.4,362.1 1035.8,330.8 1036.1,353.9 1036.4,354.1 1036.8,352.0 1037.1,332.9 1037.5,352.0 1037.8,389.7 1038.1,350.9 1038.5,350.2 1038.8,352.6 1039.1,401.1 1039.5,351.9 1039.8,313.2 1040.2,351.8 1040.5,446.5 1040.8,352.7 1041.2,322.5 1041.5,351.0 1041.8,396.9 1042.2,354.1 1042.5,354.1 1042.9,376.3 1043.2,351.4 1043.5,311.8 1043.9,347.9 1044.2,353.2 1044.5,351.5 1044.9,318.4 1045.2,360.2 1045.6,350.3 1045.9,352.2 1046.2,351.1 1046.6,385.6 1046.9,345.6 1047.2,350.2 1047.6,318.0 1047.9,341.6 1048.3,351.8 1048.6,353.7 1048.9,352.3 1049.3,323.6 1049.6,372.1 1049.9,353.0 1050.3,351.9 1050.6,351.3 1051.0,337.0 1051.3,372.1 1051.6,352.0 1052.0,359.8 1052.3,344.5 1052.6,353.2 1053.0,351.3 1053.3,338.0 1053.7,356.8 1054.0,339.6 1054.3,350.5 1054.7,351.3 1055.0,330.4 1055.3,351.4 1055.7,354.2 1056.0,353.9 1056.3,367.0 1056.7,351.0 1057.0,351.6 1057.4,359.2 1057.7,355.9 1058.0,353.8 1058.4,350.0 1058.7,352.0 1059.0,341.1 1059.4,374.2 1059.7,350.7 1060.1,354.2 1060.4,350.1 1060.7,352.0 1061.1,359.2 1061.4,352.0 1061.7,352.4 1062.1,325.0 1062.4,352.3 1062.8,353.1 1063.1,350.9 1063.4,352.5 1063.8,352.6 1064.1,352.1 1064.4,350.4 1064.8,334.9 1065.1,359.7 1065.5,350.6 1065.8,346.3 1066.1,354.0 1066.5,350.3 1066.8,340.1 1067.1,352.2 1067.5,353.0 1067.8,351.7 1068.2,352.4 1068.5,352.3 1068.8,353.0 1069.2,334.9 1069.5,354.0 1069.8,353.0 1070.2,358.7 1070.5,352.0 1070.9,384.5 1071.2,357.9 1071.5,354.1 1071.9,353.3 1072.2,386.6 1072.5,352.6 1072.9,336.0 1073.2,353.2 1073.6,351.1 1073.9,353.8 1074.2,352.2 1074.6,353.3 1074.9,350.6 1075.2,360.8 1075.6,351.6 1075.9,350.5 1076.3,351.7 1076.6,346.0 1076.9,342.2 1077.3,353.9 1077.6,352.0 1077.9,350.2 1078.3,354.1 1078.6,352.8 1079.0,353.0 1079.3,350.4 1079.6,357.0 1080.0,345.3 1080.3,348.8 1080.6,353.5 1081.0,356.2 1081.3,351.3 1081.7,352.5 1082.0,353.6 1082.3,353.9 1082.7,352.7 1083.0,352.7 1083.3,353.7 1083.7,350.4 1084.0,347.2 1084.4,353.3 1084.7,347.9 1085.0,355.4 1085.4,351.4 1085.7,352.2 1086.0,350.8 1086.4,347.3 1086.7,352.8 1087.1,352.7 1087.4,353.0 1087.7,351.5 1088.1,355.8 1088.4,355.6 1088.7,350.2 1089.1,352.9 1089.4,349.5 1089.8,347.9 1090.1,347.6 1090.4,353.1 1090.8,354.9 1091.1,354.1 1091.4,350.2 1091.8,348.0 1092.1,355.7 1092.5,353.0 1092.8,352.7 1093.1,347.6 1093.5,351.7 1093.8,352.5 1094.1,348.3 1094.5,350.7 1094.8,352.8 1095.2,352.9 1095.5,349.0 1095.8,350.1 1096.2,347.6 1096.5,353.6 1096.8,354.2 1097.2,353.9 1097.5,349.3 1097.8,345.3 1098.2,352.0 1098.5,348.6 1098.9,353.8 1099.2,351.4 1099.5,356.9 1099.9,354.8 1100.2,354.8 1100.5,350.6 1100.9,352.7 1101.2,349.8 1101.6,343.2 1101.9,351.6 1102.2,351.0 1102.6,354.1 1102.9,353.8 1103.2,352.5 1103.6,351.8 1103.9,354.1 1104.3,354.4 1104.6,356.2 1104.9,351.1 1105.3,348.0 1105.6,351.5 1105.9,351.4 1106.3,352.5 1106.6,349.7 1107.0,353.7 1107.3,353.4 1107.6,354.0 1108.0,350.1 1108.3,350.2 1108.6,350.5 1109.0,347.3 1109.3,350.5 1109.7,351.1 1110.0,362.8 1110.3,352.6 1110.7,355.8 1111.0,350.5 1111.3,352.1 1111.7,351.3 1112.0,356.1 1112.4,350.7 1112.7,348.8 1113.0,351.3 1113.4,352.9 1113.7,351.9 1114.0,348.0 1114.4,352.2 1114.7,353.6 1115.1,352.0 1115.4,352.7 1115.7,356.3 1116.1,353.2 1116.4,352.0 1116.7,351.3 1117.1,350.0 1117.4,347.3 1117.8,360.1 1118.1,352.9 1118.4,351.4 1118.8,354.9 1119.1,356.2 1119.4,350.1 1119.8,357.0 1120.1,354.1 1120.5,352.3 1120.8,352.7 1121.1,354.3 1121.5,349.0 1121.8,353.0 1122.1,351.9 1122.5,349.6 1122.8,352.3 1123.2,353.7 1123.5,352.5 1123.8,353.4 1124.2,353.4 1124.5,352.7 1124.8,353.2 1125.2,352.7 1125.5,351.3 1125.9,352.4 1126.2,350.7 1126.5,350.4 1126.9,350.5 1127.2,341.5 1127.5,351.3 1127.9,349.4 1128.2,353.2 1128.6,358.7 1128.9,350.4 1129.2,351.2 1129.6,349.9 1129.9,351.1 1130.2,353.0 1130.6,352.3 1130.9,352.6 1131.3,351.9 1131.6,355.1 1131.9,352.5 1132.3,353.4 1132.6,350.7 1132.9,354.7 1133.3,354.1 1133.6,351.5 1134.0,361.8 1134.3,354.0 1134.6,351.1 1135.0,353.9 1135.3,350.3 1135.6,354.2 1136.0,350.4 1136.3,351.4 1136.7,351.5 1137.0,340.1 1137.3,353.7 1137.7,352.1 1138.0,352.0 1138.3,349.9 1138.7,351.8 1139.0,352.2 1139.3,354.1 1139.7,350.6 1140.0,353.8 1140.4,354.7 1140.7,354.0 1141.0,354.1 1141.4,347.7 1141.7,354.8 1142.0,353.7 1142.4,353.5 1142.7,352.0 1143.1,353.4 1143.4,354.2 1143.7,353.4 1144.1,348.3 1144.4,348.3 1144.7,353.7 1145.1,348.0 1145.4,354.0 1145.8,354.0 1146.1,350.6 1146.4,352.6 1146.8,352.4 1147.1,350.8 1147.4,360.1 1147.8,353.3 1148.1,351.4 1148.5,344.2 1148.8,350.2 1149.1,350.0 1149.5,355.9 1149.8,347.2 1150.1,353.1 1150.5,352.6 1150.8,350.9 1151.2,348.1 1151.5,352.1 1151.8,351.3 1152.2,352.7 1152.5,349.2 1152.8,350.1 1153.2,348.9 1153.5,352.0 1153.9,348.1 1154.2,349.9 1154.5,349.0 1154.9,353.4 1155.2,351.8 1155.5,349.8 1155.9,354.0 1156.2,352.1 1156.6,354.0 1156.9,352.0 1157.2,353.8 1157.6,350.9 1157.9,351.5 1158.2,347.7 1158.6,347.3 1158.9,352.0 1159.3,353.2 1159.6,349.8 1159.9,351.6 1160.3,347.9 1160.6,357.7 1160.9,353.4 1161.3,352.7 1161.6,354.2 1162.0,352.6 1162.3,355.6 1162.6,352.3 1163.0,356.9 1163.3,350.2 1163.6,352.0 1164.0,353.3 1164.3,353.7 1164.7,351.8 1165.0,355.4 1165.3,350.7 1165.7,351.2 1166.0,353.1 1166.3,353.8 1166.7,350.7 1167.0,347.3 1167.4,350.2 1167.7,352.7 1168.0,352.6 1168.4,355.7 1168.7,354.5 1169.0,353.4 1169.4,353.8 1169.7,353.1 1170.1,355.6 1170.4,352.0 1170.7,352.0 1171.1,354.1 1171.4,353.8 1171.7,356.0 1172.1,351.0 1172.4,350.0 1172.8,354.1 1173.1,350.9 1173.4,351.0 1173.8,356.7 1174.1,353.1 1174.4,348.4 1174.8,350.8 1175.1,350.8 1175.5,353.5 1175.8,350.6 1176.1,351.7 1176.5,353.3 1176.8,356.4 1177.1,348.4 1177.5,353.8 1177.8,355.1 1178.2,353.6 1178.5,350.0 1178.8,351.1 1179.2,352.1 1179.5,354.2 1179.8,350.4 1180.2,354.2 1180.5,360.1 1180.8,352.7 1181.2,352.8 1181.5,347.3 1181.9,352.8 1182.2,347.2 1182.5,354.2 1182.9,351.1 1183.2,354.0 1183.5,355.4 1183.9,352.1 1184.2,350.0 1184.6,350.6 1184.9,350.5 1185.2,352.8 1185.6,356.3 1185.9,351.6 1186.2,351.3 1186.6,349.8 1186.9,353.2 1187.3,345.3 1187.6,352.7 1187.9,353.2 1188.3,350.1 1188.6,356.9 1188.9,354.0 1189.3,352.1 1189.6,354.1 1190.0,351.3 1190.3,347.7 1190.6,354.0 1191.0,352.1 1191.3,352.4 1191.6,359.7 1192.0,351.9 1192.3,353.0 1192.7,350.3 1193.0,355.5 1193.3,354.1 1193.7,347.8 1194.0,349.5 1194.3,346.3 1194.7,352.8 1195.0,351.0 1195.4,352.1 1195.7,350.1 1196.0,352.5 1196.4,349.4 1196.7,354.0 1197.0,351.0 1197.4,352.7 1197.7,349.9 1198.1,350.1 1198.4,349.9 1198.7,352.1"/>
<line x1="952.60" y1="352.07" x2="1198.90" y2="352.07" class="z"/>
<rect x="952.60" y="306.20" width="246.30" height="180.50" class="f"/>
<line x1="948.10" y1="307.20" x2="952.60" y2="307.20" class="k"/>
<text transform="translate(944.40 309.20) scale(0.8 1)" class="yl" text-anchor="end">.0004</text>
<line x1="948.10" y1="352.07" x2="952.60" y2="352.07" class="k"/>
<text transform="translate(944.40 354.07) scale(0.8 1)" class="yl" text-anchor="end">.0000</text>
<line x1="948.10" y1="396.95" x2="952.60" y2="396.95" class="k"/>
<text transform="translate(944.40 398.95) scale(0.8 1)" class="yl" text-anchor="end">-.0004</text>
<line x1="948.10" y1="441.82" x2="952.60" y2="441.82" class="k"/>
<text transform="translate(944.40 443.82) scale(0.8 1)" class="yl" text-anchor="end">-.0008</text>
<line x1="948.10" y1="486.70" x2="952.60" y2="486.70" class="k"/>
<text transform="translate(944.40 488.70) scale(0.8 1)" class="yl" text-anchor="end">-.0012</text>
<line x1="962.04" y1="486.70" x2="962.04" y2="490.50" class="k"/>
<line x1="971.35" y1="486.70" x2="971.35" y2="490.50" class="k"/>
<line x1="981.64" y1="486.70" x2="981.64" y2="493.20" class="k"/>
<line x1="991.93" y1="486.70" x2="991.93" y2="490.50" class="k"/>
<line x1="1002.72" y1="486.70" x2="1002.72" y2="490.50" class="k"/>
<line x1="1013.01" y1="486.70" x2="1013.01" y2="493.20" class="k"/>
<line x1="1023.30" y1="486.70" x2="1023.30" y2="490.50" class="k"/>
<line x1="1034.57" y1="486.70" x2="1034.57" y2="490.50" class="k"/>
<line x1="1043.88" y1="486.70" x2="1043.88" y2="493.20" class="k"/>
<line x1="1055.15" y1="486.70" x2="1055.15" y2="490.50" class="k"/>
<line x1="1065.44" y1="486.70" x2="1065.44" y2="490.50" class="k"/>
<line x1="1074.75" y1="486.70" x2="1074.75" y2="493.20" class="k"/>
<line x1="1085.05" y1="486.70" x2="1085.05" y2="490.50" class="k"/>
<line x1="1094.36" y1="486.70" x2="1094.36" y2="490.50" class="k"/>
<line x1="1104.65" y1="486.70" x2="1104.65" y2="493.20" class="k"/>
<line x1="1114.94" y1="486.70" x2="1114.94" y2="490.50" class="k"/>
<line x1="1125.72" y1="486.70" x2="1125.72" y2="490.50" class="k"/>
<line x1="1135.52" y1="486.70" x2="1135.52" y2="493.20" class="k"/>
<line x1="1146.30" y1="486.70" x2="1146.30" y2="490.50" class="k"/>
<line x1="1157.08" y1="486.70" x2="1157.08" y2="490.50" class="k"/>
<line x1="1166.89" y1="486.70" x2="1166.89" y2="493.20" class="k"/>
<line x1="1178.16" y1="486.70" x2="1178.16" y2="490.50" class="k"/>
<line x1="1187.96" y1="486.70" x2="1187.96" y2="490.50" class="k"/>
<line x1="1198.90" y1="486.70" x2="1198.90" y2="493.20" class="k"/>
<text transform="translate(967.78 504.90) scale(0.8 1)" class="r" text-anchor="middle">I</text>
<text transform="translate(998.32 504.90) scale(0.8 1)" class="r" text-anchor="middle">II</text>
<text transform="translate(1029.19 504.90) scale(0.8 1)" class="r" text-anchor="middle">III</text>
<text transform="translate(1060.23 504.90) scale(0.8 1)" class="r" text-anchor="middle">IV</text>
<text transform="translate(1014.18 523.70) scale(0.765 1)" class="yr" text-anchor="middle">2018</text>
<text transform="translate(1090.93 504.90) scale(0.8 1)" class="r" text-anchor="middle">I</text>
<text transform="translate(1121.47 504.90) scale(0.8 1)" class="r" text-anchor="middle">II</text>
<text transform="translate(1152.34 504.90) scale(0.8 1)" class="r" text-anchor="middle">III</text>
<text transform="translate(1183.38 504.90) scale(0.8 1)" class="r" text-anchor="middle">IV</text>
<text transform="translate(1138.33 523.70) scale(0.765 1)" class="yr" text-anchor="middle">2019</text>
<text transform="translate(152.75 555.40) scale(0.8 1)" class="t" text-anchor="middle">Tech</text>
<polyline class="d" points="34.1,651.5 34.4,654.4 34.7,654.3 35.1,646.3 35.4,655.7 35.8,653.9 36.1,657.7 36.4,653.4 36.8,651.8 37.1,654.3 37.4,649.1 37.8,654.8 38.1,652.2 38.5,650.2 38.8,657.3 39.1,654.0 39.5,652.4 39.8,651.3 40.1,650.3 40.5,652.3 40.8,659.0 41.2,646.3 41.5,657.6 41.8,652.6 42.2,655.4 42.5,651.9 42.8,654.7 43.2,652.5 43.5,652.3 43.9,654.9 44.2,655.4 44.5,651.8 44.9,652.3 45.2,655.2 45.5,654.1 45.9,649.3 46.2,653.3 46.6,675.2 46.9,666.1 47.2,654.9 47.6,639.5 47.9,653.8 48.2,654.6 48.6,651.7 48.9,652.4 49.3,654.9 49.6,670.5 49.9,657.9 50.3,652.3 50.6,642.2 50.9,654.8 51.3,652.0 51.6,654.5 52.0,653.9 52.3,659.0 52.6,653.6 53.0,670.5 53.3,652.6 53.6,653.1 54.0,652.7 54.3,654.4 54.6,653.2 55.0,651.3 55.3,652.8 55.7,654.8 56.0,659.7 56.3,654.7 56.7,642.2 57.0,653.7 57.3,648.3 57.7,653.8 58.0,653.3 58.4,648.0 58.7,656.4 59.0,654.5 59.4,651.1 59.7,654.5 60.0,653.4 60.4,655.5 60.7,654.3 61.1,649.5 61.4,653.6 61.7,651.7 62.1,652.3 62.4,652.5 62.7,651.1 63.1,649.6 63.4,655.0 63.8,653.3 64.1,645.3 64.4,652.1 64.8,656.3 65.1,659.2 65.4,655.0 65.8,657.0 66.1,661.8 66.5,655.3 66.8,655.5 67.1,653.4 67.5,654.1 67.8,659.0 68.1,645.3 68.5,651.2 68.8,653.4 69.2,663.9 69.5,652.3 69.8,653.8 70.2,654.9 70.5,653.6 70.8,647.5 71.2,653.9 71.5,654.6 71.9,656.7 72.2,648.5 72.5,654.4 72.9,652.0 73.2,648.0 73.5,652.7 73.9,655.3 74.2,652.7 74.6,650.8 74.9,651.0 75.2,658.9 75.6,653.8 75.9,655.4 76.2,646.3 76.6,647.4 76.9,647.6 77.3,651.4 77.6,654.3 77.9,658.6 78.3,650.3 78.6,654.1 78.9,654.4 79.3,652.3 79.6,652.7 80.0,654.9 80.3,647.9 80.6,653.5 81.0,654.1 81.3,651.3 81.6,652.8 82.0,654.9 82.3,655.0 82.7,651.1 83.0,656.4 83.3,647.7 83.7,652.4 84.0,651.4 84.3,654.2 84.7,646.3 85.0,653.9 85.4,651.5 85.7,657.4 86.0,650.1 86.4,654.0 86.7,655.1 87.0,660.8 87.4,655.3 87.7,654.3 88.1,651.2 88.4,655.4 88.7,656.7 89.1,648.2 89.4,654.7 89.7,651.5 90.1,655.4 90.4,652.1 90.8,653.0 91.1,651.9 91.4,652.8 91.8,647.3 92.1,656.6 92.4,653.3 92.8,656.4 93.1,654.6 93.5,655.1 93.8,653.0 94.1,652.7 94.5,649.4 94.8,652.2 95.1,648.5 95.5,653.8 95.8,657.0 96.1,659.2 96.5,651.6 96.8,658.0 97.2,655.3 97.5,642.8 97.8,653.5 98.2,655.0 98.5,651.3 98.8,649.2 99.2,647.5 99.5,654.7 99.9,651.1 100.2,657.7 100.5,656.8 100.9,653.3 101.2,646.3 101.5,653.6 101.9,652.2 102.2,655.0 102.6,650.8 102.9,656.3 103.2,652.0 103.6,647.6 103.9,651.3 104.2,654.7 104.6,653.3 104.9,651.4 105.3,665.9 105.6,652.8 105.9,653.5 106.3,653.7 106.6,655.5 106.9,654.7 107.3,667.0 107.6,651.2 108.0,641.5 108.3,652.9 108.6,652.6 109.0,651.9 109.3,653.8 109.6,658.7 110.0,656.6 110.3,654.9 110.7,650.6 111.0,651.7 111.3,655.4 111.7,650.9 112.0,651.3 112.3,654.8 112.7,653.3 113.0,653.2 113.4,652.8 113.7,661.9 114.0,655.4 114.4,652.7 114.7,676.3 115.0,651.7 115.4,654.4 115.7,653.3 116.1,653.8 116.4,652.4 116.7,683.5 117.1,651.2 117.4,627.7 117.7,647.7 118.1,639.0 118.4,651.7 118.8,654.6 119.1,651.6 119.4,622.5 119.8,695.9 120.1,621.5 120.4,618.8 120.8,710.4 121.1,661.9 121.5,595.7 121.8,655.2 122.1,734.1 122.5,618.0 122.8,619.4 123.1,654.4 123.5,674.2 123.8,652.5 124.2,652.3 124.5,605.6 124.8,651.3 125.2,653.5 125.5,676.3 125.8,619.4 126.2,655.1 126.5,654.5 126.9,654.6 127.2,653.5 127.5,651.6 127.9,655.2 128.2,679.4 128.5,641.3 128.9,653.9 129.2,610.5 129.6,655.4 129.9,651.6 130.2,631.8 130.6,653.5 130.9,653.4 131.2,665.9 131.6,654.9 131.9,655.4 132.3,630.8 132.6,652.6 132.9,660.7 133.3,651.5 133.6,655.4 133.9,661.5 134.3,632.9 134.6,676.3 135.0,655.1 135.3,651.2 135.6,646.3 136.0,654.3 136.3,652.8 136.6,652.7 137.0,654.2 137.3,629.1 137.6,653.7 138.0,653.5 138.3,669.0 138.7,654.4 139.0,663.5 139.3,653.2 139.7,646.2 140.0,641.1 140.3,655.0 140.7,648.4 141.0,651.0 141.4,664.9 141.7,654.7 142.0,654.9 142.4,655.0 142.7,652.2 143.0,654.1 143.4,654.9 143.7,654.2 144.1,652.6 144.4,653.4 144.7,641.1 145.1,653.8 145.4,653.6 145.7,658.7 146.1,654.0 146.4,655.2 146.8,655.1 147.1,647.6 147.4,657.6 147.8,652.0 148.1,651.8 148.4,659.2 148.8,651.2 149.1,655.1 149.5,657.8 149.8,652.2 150.1,652.9 150.5,641.5 150.8,653.5 151.1,655.1 151.5,651.4 151.8,684.5 152.2,648.1 152.5,654.8 152.8,653.2 153.2,654.3 153.5,655.2 153.8,676.3 154.2,654.8 154.5,620.1 154.9,653.9 155.2,652.5 155.5,655.0 155.9,655.2 156.2,655.2 156.5,654.1 156.9,679.4 157.2,655.1 157.6,629.1 157.9,653.6 158.2,651.2 158.6,654.6 158.9,651.3 159.2,652.1 159.6,653.1 159.9,653.4 160.3,654.0 160.6,652.9 160.9,648.7 161.3,643.2 161.6,651.4 161.9,654.9 162.3,653.4 162.6,653.7 163.0,663.9 163.3,653.5 163.6,657.8 164.0,651.2 164.3,653.9 164.6,651.5 165.0,651.6 165.3,652.1 165.7,650.0 166.0,637.0 166.3,654.1 166.7,651.5 167.0,654.8 167.3,653.0 167.7,646.8 168.0,653.2 168.4,661.8 168.7,654.1 169.0,649.3 169.4,645.3 169.7,651.8 170.0,654.0 170.4,652.4 170.7,650.9 171.1,651.4 171.4,654.7 171.7,649.8 172.1,649.8 172.4,653.0 172.7,650.0 173.1,658.5 173.4,649.2 173.8,647.3 174.1,651.6 174.4,648.0 174.8,652.1 175.1,655.8 175.4,659.1 175.8,657.9 176.1,652.8 176.5,653.8 176.8,651.2 177.1,652.0 177.5,655.3 177.8,657.7 178.1,653.3 178.5,654.7 178.8,652.5 179.1,651.8 179.5,641.1 179.8,652.4 180.2,652.8 180.5,651.1 180.8,651.2 181.2,651.8 181.5,653.2 181.8,654.0 182.2,652.5 182.5,654.0 182.9,641.1 183.2,650.8 183.5,667.6 183.9,652.1 184.2,653.8 184.5,654.5 184.9,652.0 185.2,650.0 185.6,658.6 185.9,653.8 186.2,650.1 186.6,650.2 186.9,651.4 187.2,657.3 187.6,653.7 187.9,653.4 188.3,652.1 188.6,655.4 188.9,657.9 189.3,654.1 189.6,654.9 189.9,651.7 190.3,652.3 190.6,651.7 191.0,652.3 191.3,651.2 191.6,654.3 192.0,658.9 192.3,653.1 192.6,650.3 193.0,654.5 193.3,654.9 193.7,651.5 194.0,655.1 194.3,646.3 194.7,658.2 195.0,655.4 195.3,653.2 195.7,653.2 196.0,655.2 196.4,655.3 196.7,652.2 197.0,659.1 197.4,656.4 197.7,655.5 198.0,655.4 198.4,654.9 198.7,655.1 199.1,654.5 199.4,653.8 199.7,652.5 200.1,675.2 200.4,654.4 200.7,651.8 201.1,651.9 201.4,653.9 201.8,653.7 202.1,653.4 202.4,646.3 202.8,663.9 203.1,653.7 203.4,654.6 203.8,656.1 204.1,649.8 204.5,654.6 204.8,653.4 205.1,654.4 205.5,650.1 205.8,655.4 206.1,653.8 206.5,661.4 206.8,652.3 207.2,655.4 207.5,668.0 207.8,655.3 208.2,636.0 208.5,652.0 208.8,652.3 209.2,651.7 209.5,653.5 209.9,654.4 210.2,652.4 210.5,654.8 210.9,655.3 211.2,654.5 211.5,656.6 211.9,647.5 212.2,653.2 212.6,651.6 212.9,654.5 213.2,644.2 213.6,651.2 213.9,654.0 214.2,654.2 214.6,652.3 214.9,653.9 215.3,663.9 215.6,655.0 215.9,649.1 216.3,654.7 216.6,652.8 216.9,652.4 217.3,651.9 217.6,654.8 218.0,646.3 218.3,654.7 218.6,653.5 219.0,653.0 219.3,651.5 219.6,647.3 220.0,648.7 220.3,652.9 220.6,654.9 221.0,647.5 221.3,652.1 221.7,649.5 222.0,654.6 222.3,653.9 222.7,655.5 223.0,653.7 223.3,651.6 223.7,656.7 224.0,654.0 224.4,652.4 224.7,651.1 225.0,652.0 225.4,654.4 225.7,654.9 226.0,654.2 226.4,651.7 226.7,654.5 227.1,654.2 227.4,655.4 227.7,652.3 228.1,651.6 228.4,675.2 228.7,649.2 229.1,653.7 229.4,665.7 229.8,654.0 230.1,654.0 230.4,639.5 230.8,652.6 231.1,651.7 231.4,653.6 231.8,654.1 232.1,654.8 232.5,671.1 232.8,652.6 233.1,641.1 233.5,653.4 233.8,659.5 234.1,654.1 234.5,655.4 234.8,654.8 235.2,652.5 235.5,652.2 235.8,655.0 236.2,670.5 236.5,665.2 236.8,653.7 237.2,655.1 237.5,649.3 237.9,651.2 238.2,653.1 238.5,655.3 238.9,652.3 239.2,654.1 239.5,642.2 239.9,654.0 240.2,652.2 240.6,649.6 240.9,654.3 241.2,655.3 241.6,658.9 241.9,651.5 242.2,655.0 242.6,657.2 242.9,651.5 243.3,652.0 243.6,656.4 243.9,650.1 244.3,654.3 244.6,657.5 244.9,654.8 245.3,655.2 245.6,652.5 246.0,656.5 246.3,657.9 246.6,653.5 247.0,651.7 247.3,656.4 247.6,653.4 248.0,645.3 248.3,651.2 248.7,653.6 249.0,662.8 249.3,653.0 249.7,655.3 250.0,654.6 250.3,651.7 250.7,654.9 251.0,662.8 251.4,652.0 251.7,653.3 252.0,651.9 252.4,653.8 252.7,658.6 253.0,651.5 253.4,652.3 253.7,653.6 254.1,647.9 254.4,654.6 254.7,653.8 255.1,650.5 255.4,652.7 255.7,654.9 256.1,651.3 256.4,653.0 256.8,652.9 257.1,651.6 257.4,651.2 257.8,651.5 258.1,646.3 258.4,655.4 258.8,651.4 259.1,657.4 259.5,654.2 259.8,652.0 260.1,653.7 260.5,658.3 260.8,650.0 261.1,655.0 261.5,657.6 261.8,651.8 262.1,654.1 262.5,648.9 262.8,649.0 263.2,654.9 263.5,652.6 263.8,652.8 264.2,651.6 264.5,653.5 264.8,649.7 265.2,657.8 265.5,653.8 265.9,655.0 266.2,653.7 266.5,655.9 266.9,653.5 267.2,656.3 267.5,654.9 267.9,650.2 268.2,651.9 268.6,646.3 268.9,657.0 269.2,658.0 269.6,660.8 269.9,647.3 270.2,655.3 270.6,654.2 270.9,654.8 271.3,651.8 271.6,655.7 271.9,652.7 272.3,653.0 272.6,652.8 272.9,651.2 273.3,651.6 273.6,647.3 274.0,659.0 274.3,649.2 274.6,652.7 275.0,654.5 275.3,651.4 275.6,651.5 276.0,651.4 276.3,650.5 276.7,654.9 277.0,653.8 277.3,652.5 277.7,651.2 278.0,651.6 278.3,651.2 278.7,652.4 279.0,656.6 279.4,655.3 279.7,651.6 280.0,656.3"/>
<line x1="33.90" y1="653.31" x2="280.20" y2="653.31" class="z"/>
<rect x="33.90" y="575.40" width="246.30" height="180.60" class="f"/>
<line x1="29.40" y1="576.30" x2="33.90" y2="576.30" class="k"/>
<text transform="translate(25.70 578.30) scale(0.8 1)" class="yl" text-anchor="end">.0006</text>
<line x1="29.40" y1="601.97" x2="33.90" y2="601.97" class="k"/>
<text transform="translate(25.70 603.97) scale(0.8 1)" class="yl" text-anchor="end">.0004</text>
<line x1="29.40" y1="627.64" x2="33.90" y2="627.64" class="k"/>
<text transform="translate(25.70 629.64) scale(0.8 1)" class="yl" text-anchor="end">.0002</text>
<line x1="29.40" y1="653.31" x2="33.90" y2="653.31" class="k"/>
<text transform="translate(25.70 655.31) scale(0.8 1)" class="yl" text-anchor="end">.0000</text>
<line x1="29.40" y1="678.99" x2="33.90" y2="678.99" class="k"/>
<text transform="translate(25.70 680.99) scale(0.8 1)" class="yl" text-anchor="end">-.0002</text>
<line x1="29.40" y1="704.66" x2="33.90" y2="704.66" class="k"/>
<text transform="translate(25.70 706.66) scale(0.8 1)" class="yl" text-anchor="end">-.0004</text>
<line x1="29.40" y1="730.33" x2="33.90" y2="730.33" class="k"/>
<text transform="translate(25.70 732.33) scale(0.8 1)" class="yl" text-anchor="end">-.0006</text>
<line x1="29.40" y1="756.00" x2="33.90" y2="756.00" class="k"/>
<text transform="translate(25.70 758.00) scale(0.8 1)" class="yl" text-anchor="end">-.0008</text>
<line x1="43.34" y1="756.00" x2="43.34" y2="759.80" class="k"/>
<line x1="52.65" y1="756.00" x2="52.65" y2="759.80" class="k"/>
<line x1="62.94" y1="756.00" x2="62.94" y2="762.50" class="k"/>
<line x1="73.23" y1="756.00" x2="73.23" y2="759.80" class="k"/>
<line x1="84.02" y1="756.00" x2="84.02" y2="759.80" class="k"/>
<line x1="94.31" y1="756.00" x2="94.31" y2="762.50" class="k"/>
<line x1="104.60" y1="756.00" x2="104.60" y2="759.80" class="k"/>
<line x1="115.87" y1="756.00" x2="115.87" y2="759.80" class="k"/>
<line x1="125.18" y1="756.00" x2="125.18" y2="762.50" class="k"/>
<line x1="136.45" y1="756.00" x2="136.45" y2="759.80" class="k"/>
<line x1="146.74" y1="756.00" x2="146.74" y2="759.80" class="k"/>
<line x1="156.05" y1="756.00" x2="156.05" y2="762.50" class="k"/>
<line x1="166.35" y1="756.00" x2="166.35" y2="759.80" class="k"/>
<line x1="175.66" y1="756.00" x2="175.66" y2="759.80" class="k"/>
<line x1="185.95" y1="756.00" x2="185.95" y2="762.50" class="k"/>
<line x1="196.24" y1="756.00" x2="196.24" y2="759.80" class="k"/>
<line x1="207.02" y1="756.00" x2="207.02" y2="759.80" class="k"/>
<line x1="216.82" y1="756.00" x2="216.82" y2="762.50" class="k"/>
<line x1="227.60" y1="756.00" x2="227.60" y2="759.80" class="k"/>
<line x1="238.38" y1="756.00" x2="238.38" y2="759.80" class="k"/>
<line x1="248.19" y1="756.00" x2="248.19" y2="762.50" class="k"/>
<line x1="259.46" y1="756.00" x2="259.46" y2="759.80" class="k"/>
<line x1="269.26" y1="756.00" x2="269.26" y2="759.80" class="k"/>
<line x1="280.20" y1="756.00" x2="280.20" y2="762.50" class="k"/>
<text transform="translate(49.08 774.20) scale(0.8 1)" class="r" text-anchor="middle">I</text>
<text transform="translate(79.62 774.20) scale(0.8 1)" class="r" text-anchor="middle">II</text>
<text transform="translate(110.49 774.20) scale(0.8 1)" class="r" text-anchor="middle">III</text>
<text transform="translate(141.53 774.20) scale(0.8 1)" class="r" text-anchor="middle">IV</text>
<text transform="translate(95.47 793.00) scale(0.765 1)" class="yr" text-anchor="middle">2018</text>
<text transform="translate(172.23 774.20) scale(0.8 1)" class="r" text-anchor="middle">I</text>
<text transform="translate(202.77 774.20) scale(0.8 1)" class="r" text-anchor="middle">II</text>
<text transform="translate(233.64 774.20) scale(0.8 1)" class="r" text-anchor="middle">III</text>
<text transform="translate(264.68 774.20) scale(0.8 1)" class="r" text-anchor="middle">IV</text>
<text transform="translate(219.63 793.00) scale(0.765 1)" class="yr" text-anchor="middle">2019</text>
<text transform="translate(458.95 555.40) scale(0.8 1)" class="t" text-anchor="middle">Tel</text>
<polyline class="d" points="340.3,644.1 340.6,642.4 340.9,647.6 341.3,648.1 341.6,637.0 342.0,639.3 342.3,649.9 342.6,646.8 343.0,654.6 343.3,646.7 343.6,648.0 344.0,655.2 344.3,655.6 344.7,647.7 345.0,649.8 345.3,640.6 345.7,647.3 346.0,647.0 346.3,646.9 346.7,654.2 347.0,648.4 347.4,650.1 347.7,648.9 348.0,647.4 348.4,650.3 348.7,649.3 349.0,646.8 349.4,630.8 349.7,649.4 350.1,649.7 350.4,662.8 350.7,648.2 351.1,648.7 351.4,647.4 351.7,646.3 352.1,656.1 352.4,648.2 352.8,647.1 353.1,646.2 353.4,639.1 353.8,654.9 354.1,646.0 354.4,649.4 354.8,646.7 355.1,650.1 355.5,665.9 355.8,650.2 356.1,647.7 356.5,637.0 356.8,649.0 357.1,648.4 357.5,645.1 357.8,651.1 358.2,647.7 358.5,646.2 358.8,647.4 359.2,650.0 359.5,663.9 359.8,647.1 360.2,651.3 360.5,637.0 360.8,650.1 361.2,656.7 361.5,650.0 361.9,639.5 362.2,655.5 362.5,649.6 362.9,641.2 363.2,645.8 363.5,655.1 363.9,644.6 364.2,648.6 364.6,647.6 364.9,646.6 365.2,646.4 365.6,643.3 365.9,629.1 366.2,649.1 366.6,649.7 366.9,658.7 367.3,646.2 367.6,644.0 367.9,647.7 368.3,648.9 368.6,640.9 368.9,639.8 369.3,646.4 369.6,648.4 370.0,645.1 370.3,656.9 370.6,646.8 371.0,643.2 371.3,647.8 371.6,650.2 372.0,647.4 372.3,648.5 372.7,661.8 373.0,646.3 373.3,648.7 373.7,645.9 374.0,647.1 374.3,652.7 374.7,651.4 375.0,646.3 375.4,639.3 375.7,654.3 376.0,644.6 376.4,649.3 376.7,645.2 377.0,636.0 377.4,647.1 377.7,656.0 378.1,648.8 378.4,654.3 378.7,649.3 379.1,648.8 379.4,643.6 379.7,649.5 380.1,648.8 380.4,642.9 380.8,646.8 381.1,644.3 381.4,644.0 381.8,646.1 382.1,656.8 382.4,637.0 382.8,647.2 383.1,656.9 383.5,657.0 383.8,655.8 384.1,642.7 384.5,655.6 384.8,648.8 385.1,647.6 385.5,651.6 385.8,649.6 386.2,646.4 386.5,649.5 386.8,646.2 387.2,649.4 387.5,641.1 387.8,647.9 388.2,647.8 388.5,648.5 388.9,642.0 389.2,642.9 389.5,660.8 389.9,648.7 390.2,654.2 390.5,649.9 390.9,649.1 391.2,649.5 391.6,649.9 391.9,649.0 392.2,646.5 392.6,648.8 392.9,655.7 393.2,650.0 393.6,655.6 393.9,654.7 394.3,646.2 394.6,646.6 394.9,649.0 395.3,656.5 395.6,652.3 395.9,649.5 396.3,641.9 396.6,653.4 397.0,647.4 397.3,649.8 397.6,649.1 398.0,645.5 398.3,649.4 398.6,646.9 399.0,640.1 399.3,646.3 399.7,648.6 400.0,651.5 400.3,642.5 400.7,649.9 401.0,649.0 401.3,651.8 401.7,647.2 402.0,652.4 402.3,645.0 402.7,650.1 403.0,647.1 403.4,651.4 403.7,641.2 404.0,645.2 404.4,644.4 404.7,648.0 405.0,646.4 405.4,648.1 405.7,643.9 406.1,651.3 406.4,646.8 406.7,647.8 407.1,639.4 407.4,644.6 407.7,646.1 408.1,647.1 408.4,651.5 408.8,644.2 409.1,637.0 409.4,646.2 409.8,647.4 410.1,645.6 410.4,646.3 410.8,646.4 411.1,649.5 411.5,647.1 411.8,650.0 412.1,645.9 412.5,639.1 412.8,669.0 413.1,646.5 413.5,647.4 413.8,644.4 414.2,639.8 414.5,648.2 414.8,648.4 415.2,648.5 415.5,650.6 415.8,652.3 416.2,646.6 416.5,649.9 416.9,622.9 417.2,647.3 417.5,644.3 417.9,650.1 418.2,649.2 418.5,647.0 418.9,649.3 419.2,647.7 419.6,636.0 419.9,648.7 420.2,646.7 420.6,646.9 420.9,647.0 421.2,648.2 421.6,665.9 421.9,649.0 422.3,650.2 422.6,646.1 422.9,644.3 423.3,649.3 423.6,618.0 423.9,673.2 424.3,646.6 424.6,649.2 425.0,649.8 425.3,624.6 425.6,695.9 426.0,647.6 426.3,631.8 426.6,720.7 427.0,634.0 427.3,646.3 427.7,648.5 428.0,587.0 428.3,704.2 428.7,649.0 429.0,649.0 429.3,602.9 429.7,649.6 430.0,683.5 430.4,652.1 430.7,647.5 431.0,623.6 431.4,648.1 431.7,648.0 432.0,644.7 432.4,602.3 432.7,647.2 433.1,631.1 433.4,646.0 433.7,656.6 434.1,634.9 434.4,678.3 434.7,648.2 435.1,649.2 435.4,651.1 435.8,612.2 436.1,656.2 436.4,646.1 436.8,647.7 437.1,629.8 437.4,636.2 437.8,646.8 438.1,665.9 438.5,646.2 438.8,649.5 439.1,630.8 439.5,648.2 439.8,646.6 440.1,655.5 440.5,648.5 440.8,648.5 441.2,632.9 441.5,668.0 441.8,647.4 442.2,650.6 442.5,649.8 442.8,648.2 443.2,649.6 443.5,649.6 443.8,675.9 444.2,645.9 444.5,634.9 444.9,636.8 445.2,646.8 445.5,652.5 445.9,647.3 446.2,648.1 446.5,625.6 446.9,649.7 447.2,646.8 447.6,647.1 447.9,646.7 448.2,649.4 448.6,669.0 448.9,646.4 449.2,650.3 449.6,625.2 449.9,649.3 450.3,653.3 450.6,654.2 450.9,647.1 451.3,646.7 451.6,656.9 451.9,651.1 452.3,649.7 452.6,633.9 453.0,654.6 453.3,641.4 453.6,642.0 454.0,649.2 454.3,649.3 454.6,629.8 455.0,635.5 455.3,649.9 455.7,646.7 456.0,646.3 456.3,650.3 456.7,649.2 457.0,648.3 457.3,630.8 457.7,647.7 458.0,646.2 458.4,643.7 458.7,689.7 459.0,646.2 459.4,656.6 459.7,686.6 460.0,648.6 460.4,648.5 460.7,647.3 461.1,614.3 461.4,646.9 461.7,647.3 462.1,649.8 462.4,650.1 462.7,647.3 463.1,646.6 463.4,623.6 463.8,646.9 464.1,649.8 464.4,646.0 464.8,648.1 465.1,660.8 465.4,646.6 465.8,648.4 466.1,639.3 466.5,637.0 466.8,645.7 467.1,639.6 467.5,646.3 467.8,649.9 468.1,646.1 468.5,649.5 468.8,649.2 469.2,646.0 469.5,649.8 469.8,647.3 470.2,647.4 470.5,646.5 470.8,647.1 471.2,648.0 471.5,648.9 471.9,646.3 472.2,634.9 472.5,657.7 472.9,643.9 473.2,652.8 473.5,647.5 473.9,646.3 474.2,648.1 474.6,655.5 474.9,653.7 475.2,656.5 475.6,650.1 475.9,642.8 476.2,650.1 476.6,652.1 476.9,648.1 477.3,650.1 477.6,648.2 477.9,629.8 478.3,649.1 478.6,648.4 478.9,649.9 479.3,647.1 479.6,648.0 480.0,645.1 480.3,646.8 480.6,656.7 481.0,648.9 481.3,649.2 481.6,647.3 482.0,641.1 482.3,648.7 482.7,664.9 483.0,647.9 483.3,658.5 483.7,657.8 484.0,650.0 484.3,649.3 484.7,646.8 485.0,648.2 485.3,649.8 485.7,634.9 486.0,648.3 486.4,648.8 486.7,639.6 487.0,642.7 487.4,649.3 487.7,655.6 488.0,649.6 488.4,649.4 488.7,647.8 489.1,646.2 489.4,644.7 489.7,646.0 490.1,649.6 490.4,648.4 490.7,638.0 491.1,655.8 491.4,639.9 491.8,659.7 492.1,646.3 492.4,648.8 492.8,647.4 493.1,657.1 493.4,650.0 493.8,647.5 494.1,656.6 494.5,648.0 494.8,646.5 495.1,639.6 495.5,647.0 495.8,647.9 496.1,639.1 496.5,649.2 496.8,647.0 497.2,646.9 497.5,647.8 497.8,649.4 498.2,650.0 498.5,655.4 498.8,648.1 499.2,660.8 499.5,646.5 499.9,653.2 500.2,650.3 500.5,649.5 500.9,648.7 501.2,646.3 501.5,644.9 501.9,652.4 502.2,656.7 502.6,643.0 502.9,642.2 503.2,649.5 503.6,648.0 503.9,635.3 504.2,647.0 504.6,650.3 504.9,653.0 505.3,646.2 505.6,646.6 505.9,643.1 506.3,649.4 506.6,649.6 506.9,660.8 507.3,650.1 507.6,648.3 508.0,646.2 508.3,647.4 508.6,648.0 509.0,650.0 509.3,649.3 509.6,646.2 510.0,646.2 510.3,647.4 510.7,642.1 511.0,646.7 511.3,646.2 511.7,639.1 512.0,654.0 512.3,650.1 512.7,649.2 513.0,646.6 513.4,674.2 513.7,649.3 514.0,650.2 514.4,656.0 514.7,647.4 515.0,648.8 515.4,647.7 515.7,642.5 516.1,645.2 516.4,650.2 516.7,647.2 517.1,655.9 517.4,647.4 517.7,641.1 518.1,650.2 518.4,646.9 518.8,652.5 519.1,653.2 519.4,648.2 519.8,649.2 520.1,647.6 520.4,645.9 520.8,647.7 521.1,653.8 521.5,641.4 521.8,657.7 522.1,634.5 522.5,650.4 522.8,649.2 523.1,646.7 523.5,651.4 523.8,648.1 524.2,647.1 524.5,646.2 524.8,657.1 525.2,650.3 525.5,648.6 525.8,638.0 526.2,642.8 526.5,649.6 526.8,647.7 527.2,642.7 527.5,639.7 527.9,646.1 528.2,650.1 528.5,647.8 528.9,656.1 529.2,646.2 529.5,648.3 529.9,647.7 530.2,642.1 530.6,646.2 530.9,643.2 531.2,649.5 531.6,650.0 531.9,646.3 532.2,630.8 532.6,651.7 532.9,648.8 533.3,646.9 533.6,647.6 533.9,648.0 534.3,663.9 534.6,646.6 534.9,646.3 535.3,647.1 535.6,648.9 536.0,649.4 536.3,646.1 536.6,655.4 537.0,644.3 537.3,638.0 537.6,641.8 538.0,647.8 538.3,640.7 538.7,665.9 539.0,647.2 539.3,639.3 539.7,646.7 540.0,648.9 540.3,648.1 540.7,649.7 541.0,644.1 541.4,656.6 541.7,650.0 542.0,652.7 542.4,656.7 542.7,650.5 543.0,650.0 543.4,649.7 543.7,638.0 544.1,648.8 544.4,646.4 544.7,641.8 545.1,646.1 545.4,647.5 545.7,645.1 546.1,646.4 546.4,646.4 546.8,657.7 547.1,639.0 547.4,637.1 547.8,647.4 548.1,629.1 548.4,644.9 548.8,646.4 549.1,647.2 549.5,655.8 549.8,646.1 550.1,649.4 550.5,650.3 550.8,648.1 551.1,649.8 551.5,649.7 551.8,648.8 552.2,642.2 552.5,646.7 552.8,647.4 553.2,647.0 553.5,655.0 553.8,655.7 554.2,656.3 554.5,649.1 554.9,641.1 555.2,650.4 555.5,647.3 555.9,661.8 556.2,649.2 556.5,646.0 556.9,648.8 557.2,648.2 557.6,648.1 557.9,648.9 558.2,653.4 558.6,649.8 558.9,646.0 559.2,653.0 559.6,636.0 559.9,649.7 560.3,648.6 560.6,648.1 560.9,648.6 561.3,642.9 561.6,654.8 561.9,649.5 562.3,640.6 562.6,644.7 563.0,646.8 563.3,641.4 563.6,651.1 564.0,649.7 564.3,637.0 564.6,647.4 565.0,648.8 565.3,654.2 565.7,647.9 566.0,644.2 566.3,646.8 566.7,649.8 567.0,647.7 567.3,647.8 567.7,647.1 568.0,649.1 568.3,644.3 568.7,651.6 569.0,649.0 569.4,641.1 569.7,648.8 570.0,647.1 570.4,649.8 570.7,650.4 571.0,652.6 571.4,660.8 571.7,654.5 572.1,646.4 572.4,641.6 572.7,651.1 573.1,648.4 573.4,649.5 573.7,656.5 574.1,649.7 574.4,651.9 574.8,648.9 575.1,650.2 575.4,647.8 575.8,651.8 576.1,653.6 576.4,648.0 576.8,646.7 577.1,648.3 577.5,646.5 577.8,652.0 578.1,640.2 578.5,643.0 578.8,650.4 579.1,646.7 579.5,646.6 579.8,649.5 580.2,651.2 580.5,641.2 580.8,640.1 581.2,650.2 581.5,648.7 581.8,655.6 582.2,649.7 582.5,647.5 582.9,655.8 583.2,648.7 583.5,647.1 583.9,650.0 584.2,649.3 584.5,649.7 584.9,652.3 585.2,647.9 585.6,647.6 585.9,648.7 586.2,643.7"/>
<line x1="340.10" y1="648.18" x2="586.40" y2="648.18" class="z"/>
<rect x="340.10" y="575.40" width="246.30" height="180.60" class="f"/>
<line x1="335.60" y1="576.30" x2="340.10" y2="576.30" class="k"/>
<text transform="translate(331.90 578.30) scale(0.8 1)" class="yl" text-anchor="end">.0004</text>
<line x1="335.60" y1="612.24" x2="340.10" y2="612.24" class="k"/>
<text transform="translate(331.90 614.24) scale(0.8 1)" class="yl" text-anchor="end">.0002</text>
<line x1="335.60" y1="648.18" x2="340.10" y2="648.18" class="k"/>
<text transform="translate(331.90 650.18) scale(0.8 1)" class="yl" text-anchor="end">.0000</text>
<line x1="335.60" y1="684.12" x2="340.10" y2="684.12" class="k"/>
<text transform="translate(331.90 686.12) scale(0.8 1)" class="yl" text-anchor="end">-.0002</text>
<line x1="335.60" y1="720.06" x2="340.10" y2="720.06" class="k"/>
<text transform="translate(331.90 722.06) scale(0.8 1)" class="yl" text-anchor="end">-.0004</text>
<line x1="335.60" y1="756.00" x2="340.10" y2="756.00" class="k"/>
<text transform="translate(331.90 758.00) scale(0.8 1)" class="yl" text-anchor="end">-.0006</text>
<line x1="349.54" y1="756.00" x2="349.54" y2="759.80" class="k"/>
<line x1="358.85" y1="756.00" x2="358.85" y2="759.80" class="k"/>
<line x1="369.14" y1="756.00" x2="369.14" y2="762.50" class="k"/>
<line x1="379.43" y1="756.00" x2="379.43" y2="759.80" class="k"/>
<line x1="390.22" y1="756.00" x2="390.22" y2="759.80" class="k"/>
<line x1="400.51" y1="756.00" x2="400.51" y2="762.50" class="k"/>
<line x1="410.80" y1="756.00" x2="410.80" y2="759.80" class="k"/>
<line x1="422.07" y1="756.00" x2="422.07" y2="759.80" class="k"/>
<line x1="431.38" y1="756.00" x2="431.38" y2="762.50" class="k"/>
<line x1="442.65" y1="756.00" x2="442.65" y2="759.80" class="k"/>
<line x1="452.94" y1="756.00" x2="452.94" y2="759.80" class="k"/>
<line x1="462.25" y1="756.00" x2="462.25" y2="762.50" class="k"/>
<line x1="472.55" y1="756.00" x2="472.55" y2="759.80" class="k"/>
<line x1="481.86" y1="756.00" x2="481.86" y2="759.80" class="k"/>
<line x1="492.15" y1="756.00" x2="492.15" y2="762.50" class="k"/>
<line x1="502.44" y1="756.00" x2="502.44" y2="759.80" class="k"/>
<line x1="513.22" y1="756.00" x2="513.22" y2="759.80" class="k"/>
<line x1="523.02" y1="756.00" x2="523.02" y2="762.50" class="k"/>
<line x1="533.80" y1="756.00" x2="533.80" y2="759.80" class="k"/>
<line x1="544.58" y1="756.00" x2="544.58" y2="759.80" class="k"/>
<line x1="554.39" y1="756.00" x2="554.39" y2="762.50" class="k"/>
<line x1="565.66" y1="756.00" x2="565.66" y2="759.80" class="k"/>
<line x1="575.46" y1="756.00" x2="575.46" y2="759.80" class="k"/>
<line x1="586.40" y1="756.00" x2="586.40" y2="762.50" class="k"/>
<text transform="translate(355.28 774.20) scale(0.8 1)" class="r" text-anchor="middle">I</text>
<text transform="translate(385.82 774.20) scale(0.8 1)" class="r" text-anchor="middle">II</text>
<text transform="translate(416.69 774.20) scale(0.8 1)" class="r" text-anchor="middle">III</text>
<text transform="translate(447.73 774.20) scale(0.8 1)" class="r" text-anchor="middle">IV</text>
<text transform="translate(401.68 793.00) scale(0.765 1)" class="yr" text-anchor="middle">2018</text>
<text transform="translate(478.43 774.20) scale(0.8 1)" class="r" text-anchor="middle">I</text>
<text transform="translate(508.97 774.20) scale(0.8 1)" class="r" text-anchor="middle">II</text>
<text transform="translate(539.84 774.20) scale(0.8 1)" class="r" text-anchor="middle">III</text>
<text transform="translate(570.88 774.20) scale(0.8 1)" class="r" text-anchor="middle">IV</text>
<text transform="translate(525.83 793.00) scale(0.765 1)" class="yr" text-anchor="middle">2019</text>
<text transform="translate(152.75 855.00) scale(0.8 1)" class="t" text-anchor="middle">CS</text>
<polyline class="d" points="34.1,946.8 34.4,955.0 34.7,946.7 35.1,951.5 35.4,941.6 35.8,949.3 36.1,949.6 36.4,950.7 36.8,947.9 37.1,939.1 37.4,948.3 37.8,955.2 38.1,951.9 38.5,947.3 38.8,950.4 39.1,947.9 39.5,954.0 39.8,949.2 40.1,950.0 40.5,944.5 40.8,946.8 41.2,950.7 41.5,955.9 41.8,947.0 42.2,942.4 42.5,947.5 42.8,941.9 43.2,958.7 43.5,948.8 43.9,945.2 44.2,946.7 44.5,938.0 44.9,949.9 45.2,951.5 45.5,948.2 45.9,950.4 46.2,946.6 46.6,946.5 46.9,947.5 47.2,942.9 47.6,946.7 47.9,949.7 48.2,946.4 48.6,948.0 48.9,949.5 49.3,950.7 49.6,947.1 49.9,947.4 50.3,947.1 50.6,971.1 50.9,949.2 51.3,950.1 51.6,947.3 52.0,946.6 52.3,948.8 52.6,981.4 53.0,950.3 53.3,948.9 53.6,914.3 54.0,950.4 54.3,946.7 54.6,950.1 55.0,947.4 55.3,921.5 55.7,999.0 56.0,949.9 56.3,949.8 56.7,951.4 57.0,957.9 57.3,1030.0 57.7,896.7 58.0,946.9 58.4,950.1 58.7,1009.3 59.0,947.8 59.4,949.0 59.7,900.8 60.0,947.3 60.4,993.8 60.7,949.6 61.1,948.3 61.4,889.1 61.7,947.9 62.1,940.1 62.4,948.0 62.7,947.9 63.1,906.0 63.4,949.2 63.8,948.4 64.1,975.2 64.4,948.6 64.8,947.3 65.1,947.3 65.4,947.4 65.8,910.5 66.1,947.1 66.5,950.5 66.8,950.6 67.1,961.8 67.5,949.3 67.8,950.3 68.1,917.4 68.5,948.9 68.8,950.6 69.2,947.2 69.5,931.5 69.8,950.3 70.2,929.8 70.5,970.1 70.8,949.0 71.2,949.9 71.5,947.7 71.9,947.9 72.2,934.9 72.5,950.6 72.9,944.4 73.2,949.3 73.5,955.0 73.9,948.1 74.2,964.9 74.6,947.7 74.9,946.9 75.2,952.5 75.6,947.0 75.9,948.2 76.2,932.0 76.6,955.5 76.9,924.6 77.3,950.6 77.6,949.9 77.9,948.1 78.3,951.7 78.6,959.7 78.9,949.7 79.3,946.4 79.6,948.0 80.0,927.1 80.3,949.3 80.6,949.8 81.0,947.4 81.3,947.3 81.6,947.4 82.0,950.0 82.3,946.8 82.7,931.8 83.0,956.6 83.3,947.5 83.7,946.9 84.0,948.8 84.3,947.3 84.7,948.0 85.0,947.2 85.4,946.7 85.7,946.5 86.0,948.0 86.4,931.8 86.7,950.6 87.0,948.7 87.4,946.8 87.7,987.6 88.1,948.6 88.4,946.5 88.7,950.7 89.1,949.1 89.4,954.4 89.7,934.9 90.1,947.9 90.4,949.2 90.8,946.5 91.1,949.7 91.4,948.0 91.8,947.1 92.1,950.0 92.4,947.7 92.8,964.9 93.1,954.0 93.5,946.9 93.8,946.9 94.1,933.5 94.5,955.4 94.8,947.2 95.1,941.8 95.5,947.4 95.8,949.1 96.1,947.1 96.5,948.9 96.8,947.2 97.2,959.7 97.5,948.3 97.8,950.7 98.2,949.3 98.5,954.6 98.8,933.9 99.2,944.3 99.5,949.3 99.9,950.2 100.2,946.7 100.5,956.0 100.9,947.9 101.2,957.7 101.5,947.7 101.9,948.6 102.2,941.1 102.6,947.4 102.9,948.4 103.2,949.9 103.6,948.0 103.9,948.3 104.2,951.6 104.6,955.6 104.9,949.1 105.3,953.5 105.6,947.0 105.9,946.4 106.3,940.1 106.6,948.3 106.9,948.1 107.3,949.8 107.6,947.7 108.0,950.0 108.3,947.4 108.6,948.6 109.0,938.0 109.3,946.8 109.6,949.9 110.0,949.2 110.3,948.5 110.7,952.5 111.0,955.0 111.3,945.5 111.7,954.2 112.0,956.0 112.3,948.2 112.7,944.9 113.0,951.5 113.4,953.3 113.7,947.1 114.0,947.2 114.4,944.7 114.7,949.1 115.0,948.5 115.4,952.3 115.7,950.5 116.1,948.1 116.4,946.8 116.7,932.5 117.1,949.5 117.4,962.8 117.7,950.1 118.1,948.9 118.4,949.9 118.8,948.8 119.1,951.4 119.4,947.9 119.8,948.2 120.1,950.8 120.4,954.1 120.8,951.0 121.1,947.7 121.5,947.3 121.8,950.0 122.1,941.3 122.5,943.5 122.8,961.8 123.1,957.8 123.5,950.6 123.8,939.1 124.2,946.4 124.5,947.5 124.8,947.8 125.2,948.4 125.5,941.4 125.8,942.0 126.2,947.0 126.5,954.8 126.9,944.9 127.2,955.6 127.5,949.0 127.9,948.4 128.2,938.0 128.5,947.7 128.9,941.7 129.2,947.2 129.6,947.0 129.9,953.8 130.2,949.4 130.6,954.8 130.9,947.1 131.2,949.6 131.6,950.4 131.9,954.2 132.3,948.3 132.6,953.6 132.9,957.1 133.3,946.9 133.6,949.0 133.9,950.4 134.3,958.3 134.6,976.3 135.0,949.9 135.3,947.6 135.6,948.1 136.0,949.0 136.3,948.0 136.6,950.6 137.0,934.9 137.3,950.5 137.6,948.4 138.0,950.7 138.3,947.7 138.7,949.0 139.0,946.9 139.3,952.7 139.7,950.4 140.0,930.4 140.3,938.0 140.7,947.1 141.0,949.5 141.4,948.8 141.7,954.4 142.0,947.5 142.4,959.7 142.7,949.5 143.0,948.1 143.4,949.7 143.7,945.5 144.1,947.3 144.4,955.8 144.7,941.1 145.1,949.8 145.4,947.3 145.7,947.2 146.1,954.5 146.4,949.6 146.8,948.2 147.1,950.4 147.4,949.2 147.8,939.1 148.1,947.7 148.4,956.0 148.8,941.1 149.1,943.3 149.5,946.3 149.8,946.9 150.1,945.4 150.5,946.9 150.8,943.3 151.1,948.4 151.5,947.6 151.8,954.0 152.2,947.9 152.5,946.8 152.8,955.6 153.2,950.6 153.5,946.9 153.8,943.2 154.2,947.9 154.5,948.0 154.9,947.7 155.2,948.8 155.5,954.4 155.9,954.6 156.2,954.5 156.5,949.1 156.9,957.7 157.2,946.0 157.6,947.8 157.9,942.6 158.2,947.5 158.6,942.4 158.9,950.5 159.2,953.5 159.6,948.9 159.9,948.0 160.3,947.2 160.6,953.5 160.9,941.3 161.3,948.1 161.6,955.8 161.9,943.5 162.3,949.3 162.6,942.4 163.0,955.1 163.3,947.0 163.6,946.6 164.0,947.7 164.3,940.1 164.6,951.5 165.0,950.2 165.3,948.3 165.7,947.7 166.0,948.9 166.3,963.9 166.7,948.9 167.0,949.3 167.3,946.7 167.7,948.5 168.0,944.8 168.4,942.2 168.7,954.0 169.0,953.7 169.4,941.1 169.7,947.3 170.0,949.4 170.4,949.7 170.7,955.5 171.1,950.4 171.4,947.7 171.7,948.5 172.1,952.7 172.4,947.1 172.7,950.1 173.1,946.5 173.4,948.3 173.8,947.1 174.1,953.9 174.4,959.7 174.8,945.4 175.1,948.6 175.4,950.5 175.8,944.6 176.1,947.9 176.5,947.5 176.8,948.2 177.1,950.6 177.5,947.5 177.8,929.1 178.1,952.2 178.5,947.0 178.8,948.7 179.1,948.5 179.5,948.0 179.8,949.3 180.2,949.5 180.5,953.6 180.8,941.1 181.2,951.7 181.5,947.0 181.8,949.2 182.2,949.9 182.5,943.4 182.9,949.8 183.2,949.5 183.5,949.7 183.9,946.7 184.2,947.9 184.5,949.8 184.9,933.3 185.2,943.2 185.6,947.7 185.9,954.6 186.2,946.9 186.6,950.5 186.9,952.0 187.2,941.9 187.6,948.9 187.9,941.1 188.3,947.6 188.6,948.4 188.9,950.3 189.3,951.8 189.6,946.3 189.9,946.7 190.3,949.6 190.6,954.6 191.0,950.5 191.3,945.1 191.6,949.0 192.0,947.4 192.3,949.1 192.6,955.9 193.0,949.1 193.3,947.5 193.7,949.8 194.0,955.6 194.3,945.5 194.7,954.2 195.0,948.7 195.3,946.3 195.7,945.2 196.0,950.5 196.4,940.1 196.7,947.9 197.0,947.1 197.4,949.0 197.7,950.6 198.0,949.8 198.4,949.0 198.7,948.1 199.1,953.6 199.4,948.3 199.7,948.9 200.1,949.8 200.4,958.7 200.7,952.4 201.1,946.8 201.4,938.0 201.8,948.9 202.1,942.8 202.4,950.6 202.8,947.2 203.1,947.2 203.4,949.5 203.8,951.6 204.1,948.6 204.5,950.5 204.8,942.7 205.1,949.5 205.5,948.5 205.8,942.4 206.1,946.4 206.5,955.4 206.8,946.6 207.2,947.0 207.5,943.2 207.8,955.1 208.2,954.4 208.5,944.0 208.8,948.7 209.2,946.4 209.5,943.9 209.9,941.1 210.2,950.3 210.5,951.2 210.9,949.9 211.2,946.9 211.5,949.5 211.9,948.4 212.2,950.1 212.6,947.2 212.9,961.8 213.2,949.4 213.6,947.2 213.9,939.5 214.2,949.0 214.6,949.9 214.9,948.3 215.3,949.5 215.6,946.9 215.9,948.4 216.3,948.3 216.6,954.8 216.9,950.5 217.3,949.5 217.6,948.9 218.0,945.1 218.3,952.5 218.6,949.4 219.0,954.6 219.3,947.6 219.6,949.7 220.0,943.2 220.3,949.1 220.6,947.8 221.0,954.8 221.3,948.0 221.7,948.0 222.0,950.7 222.3,948.5 222.7,949.5 223.0,949.4 223.3,955.2 223.7,949.3 224.0,943.6 224.4,947.9 224.7,950.2 225.0,940.7 225.4,947.3 225.7,946.4 226.0,954.7 226.4,954.1 226.7,942.9 227.1,947.7 227.4,941.8 227.7,943.8 228.1,944.5 228.4,946.5 228.7,949.9 229.1,959.7 229.4,949.5 229.8,949.5 230.1,947.4 230.4,953.9 230.8,955.6 231.1,950.1 231.4,950.0 231.8,948.7 232.1,955.0 232.5,943.2 232.8,948.7 233.1,948.5 233.5,950.4 233.8,949.0 234.1,945.8 234.5,954.6 234.8,949.9 235.2,942.9 235.5,952.0 235.8,949.1 236.2,947.0 236.5,949.9 236.8,955.8 237.2,954.1 237.5,944.4 237.9,952.0 238.2,952.9 238.5,943.2 238.9,948.7 239.2,946.0 239.5,947.2 239.9,952.4 240.2,949.2 240.6,954.0 240.9,942.9 241.2,954.8 241.6,950.0 241.9,946.4 242.2,941.2 242.6,947.7 242.9,950.0 243.3,941.7 243.6,949.1 243.9,943.3 244.3,943.9 244.6,949.5 244.9,950.6 245.3,950.9 245.6,947.2 246.0,951.2 246.3,941.1 246.6,944.7 247.0,949.7 247.3,950.5 247.6,950.4 248.0,940.7 248.3,964.3 248.7,949.8 249.0,947.4 249.3,947.4 249.7,949.9 250.0,945.2 250.3,946.3 250.7,949.8 251.0,956.0 251.4,950.7 251.7,944.1 252.0,950.8 252.4,946.9 252.7,953.8 253.0,939.1 253.4,949.0 253.7,946.7 254.1,948.2 254.4,948.6 254.7,951.1 255.1,949.6 255.4,952.0 255.7,949.5 256.1,954.6 256.4,941.7 256.8,953.1 257.1,948.0 257.4,950.9 257.8,946.7 258.1,949.7 258.4,945.7 258.8,948.3 259.1,947.5 259.5,949.8 259.8,949.2 260.1,949.5 260.5,937.4 260.8,948.1 261.1,949.5 261.5,949.2 261.8,945.5 262.1,947.7 262.5,949.2 262.8,953.3 263.2,951.3 263.5,950.6 263.8,946.6 264.2,950.0 264.5,954.9 264.8,951.9 265.2,950.2 265.5,952.2 265.9,947.4 266.2,944.6 266.5,949.1 266.9,948.1 267.2,949.9 267.5,947.7 267.9,948.2 268.2,970.1 268.6,948.7 268.9,951.2 269.2,950.5 269.6,959.7 269.9,946.7 270.2,940.9 270.6,934.5 270.9,955.2 271.3,949.5 271.6,946.3 271.9,948.1 272.3,952.9 272.6,954.9 272.9,941.2 273.3,953.1 273.6,938.0 274.0,943.4 274.3,950.4 274.6,953.3 275.0,949.7 275.3,957.7 275.6,946.3 276.0,948.9 276.3,947.2 276.7,949.4 277.0,941.1 277.3,950.2 277.7,950.4 278.0,952.8 278.3,949.1 278.7,952.2 279.0,953.7 279.4,942.3 279.7,954.0 280.0,946.9"/>
<line x1="33.90" y1="948.54" x2="280.20" y2="948.54" class="z"/>
<rect x="33.90" y="875.00" width="246.30" height="182.50" class="f"/>
<line x1="29.40" y1="875.90" x2="33.90" y2="875.90" class="k"/>
<text transform="translate(25.70 877.90) scale(0.8 1)" class="yl" text-anchor="end">.0004</text>
<line x1="29.40" y1="912.22" x2="33.90" y2="912.22" class="k"/>
<text transform="translate(25.70 914.22) scale(0.8 1)" class="yl" text-anchor="end">.0002</text>
<line x1="29.40" y1="948.54" x2="33.90" y2="948.54" class="k"/>
<text transform="translate(25.70 950.54) scale(0.8 1)" class="yl" text-anchor="end">.0000</text>
<line x1="29.40" y1="984.86" x2="33.90" y2="984.86" class="k"/>
<text transform="translate(25.70 986.86) scale(0.8 1)" class="yl" text-anchor="end">-.0002</text>
<line x1="29.40" y1="1021.18" x2="33.90" y2="1021.18" class="k"/>
<text transform="translate(25.70 1023.18) scale(0.8 1)" class="yl" text-anchor="end">-.0004</text>
<line x1="29.40" y1="1057.50" x2="33.90" y2="1057.50" class="k"/>
<text transform="translate(25.70 1059.50) scale(0.8 1)" class="yl" text-anchor="end">-.0006</text>
<line x1="44.20" y1="1057.50" x2="44.20" y2="1061.30" class="k"/>
<line x1="53.47" y1="1057.50" x2="53.47" y2="1061.30" class="k"/>
<line x1="64.21" y1="1057.50" x2="64.21" y2="1064.00" class="k"/>
<line x1="74.46" y1="1057.50" x2="74.46" y2="1061.30" class="k"/>
<line x1="84.23" y1="1057.50" x2="84.23" y2="1061.30" class="k"/>
<line x1="94.96" y1="1057.50" x2="94.96" y2="1064.00" class="k"/>
<line x1="105.70" y1="1057.50" x2="105.70" y2="1061.30" class="k"/>
<line x1="115.95" y1="1057.50" x2="115.95" y2="1061.30" class="k"/>
<line x1="126.20" y1="1057.50" x2="126.20" y2="1064.00" class="k"/>
<line x1="136.94" y1="1057.50" x2="136.94" y2="1061.30" class="k"/>
<line x1="146.71" y1="1057.50" x2="146.71" y2="1061.30" class="k"/>
<line x1="157.44" y1="1057.50" x2="157.44" y2="1064.00" class="k"/>
<line x1="166.72" y1="1057.50" x2="166.72" y2="1061.30" class="k"/>
<line x1="175.99" y1="1057.50" x2="175.99" y2="1061.30" class="k"/>
<line x1="187.22" y1="1057.50" x2="187.22" y2="1064.00" class="k"/>
<line x1="197.47" y1="1057.50" x2="197.47" y2="1061.30" class="k"/>
<line x1="207.23" y1="1057.50" x2="207.23" y2="1061.30" class="k"/>
<line x1="217.97" y1="1057.50" x2="217.97" y2="1064.00" class="k"/>
<line x1="228.22" y1="1057.50" x2="228.22" y2="1061.30" class="k"/>
<line x1="238.96" y1="1057.50" x2="238.96" y2="1061.30" class="k"/>
<line x1="249.21" y1="1057.50" x2="249.21" y2="1064.00" class="k"/>
<line x1="259.46" y1="1057.50" x2="259.46" y2="1061.30" class="k"/>
<line x1="269.71" y1="1057.50" x2="269.71" y2="1061.30" class="k"/>
<line x1="280.20" y1="1057.50" x2="280.20" y2="1064.00" class="k"/>
<text transform="translate(49.23 1075.70) scale(0.8 1)" class="r" text-anchor="middle">I</text>
<text transform="translate(79.89 1075.70) scale(0.8 1)" class="r" text-anchor="middle">II</text>
<text transform="translate(110.72 1075.70) scale(0.8 1)" class="r" text-anchor="middle">III</text>
<text transform="translate(141.72 1075.70) scale(0.8 1)" class="r" text-anchor="middle">IV</text>
<text transform="translate(96.56 1094.50) scale(0.765 1)" class="yr" text-anchor="middle">2020</text>
<text transform="translate(172.38 1075.70) scale(0.8 1)" class="r" text-anchor="middle">I</text>
<text transform="translate(202.87 1075.70) scale(0.8 1)" class="r" text-anchor="middle">II</text>
<text transform="translate(233.70 1075.70) scale(0.8 1)" class="r" text-anchor="middle">III</text>
<text transform="translate(264.70 1075.70) scale(0.8 1)" class="r" text-anchor="middle">IV</text>
<text transform="translate(219.71 1094.50) scale(0.765 1)" class="yr" text-anchor="middle">2021</text>
<text transform="translate(458.95 855.00) scale(0.8 1)" class="t" text-anchor="middle">Financials</text>
<polyline class="d" points="340.3,954.6 340.6,954.8 340.9,955.1 341.3,952.1 341.6,953.8 342.0,949.4 342.3,957.7 342.6,949.4 343.0,953.1 343.3,954.9 343.6,955.7 344.0,953.8 344.3,954.3 344.7,955.2 345.0,953.3 345.3,954.0 345.7,953.8 346.0,946.8 346.3,953.0 346.7,953.7 347.0,954.3 347.4,953.4 347.7,949.5 348.0,953.1 348.4,955.0 348.7,961.4 349.0,961.3 349.4,964.3 349.7,951.1 350.1,951.8 350.4,946.3 350.7,949.2 351.1,950.8 351.4,960.2 351.7,958.0 352.1,953.7 352.4,946.5 352.8,952.0 353.1,947.4 353.4,955.3 353.8,959.2 354.1,962.2 354.4,948.5 354.8,954.8 355.1,952.7 355.5,953.3 355.8,956.3 356.1,949.5 356.5,955.7 356.8,953.0 357.1,954.8 357.5,970.1 357.8,952.5 358.2,953.4 358.5,958.5 358.8,952.5 359.2,951.5 359.5,978.3 359.8,955.8 360.2,927.7 360.5,970.0 360.8,953.4 361.2,991.1 361.5,969.2 361.9,1011.4 362.2,923.6 362.5,969.6 362.9,951.6 363.2,1013.5 363.5,953.6 363.9,955.6 364.2,894.0 364.6,955.8 364.9,1040.3 365.2,953.0 365.6,953.1 365.9,930.5 366.2,924.6 366.6,1005.2 366.9,952.5 367.3,955.2 367.6,954.8 367.9,891.1 368.3,987.6 368.6,953.9 368.9,954.0 369.3,953.7 369.6,953.3 370.0,918.0 370.3,951.6 370.6,987.6 371.0,955.7 371.3,953.1 371.6,955.4 372.0,911.8 372.3,955.5 372.7,966.3 373.0,974.2 373.3,941.1 373.7,959.3 374.0,926.7 374.3,936.8 374.7,948.3 375.0,978.3 375.4,954.7 375.7,960.0 376.0,926.7 376.4,954.3 376.7,954.5 377.0,952.3 377.4,938.5 377.7,954.8 378.1,954.5 378.4,955.4 378.7,933.9 379.1,953.0 379.4,952.1 379.7,955.5 380.1,955.8 380.4,933.9 380.8,971.1 381.1,953.5 381.4,955.6 381.8,958.2 382.1,952.4 382.4,952.0 382.8,952.9 383.1,954.8 383.5,941.1 383.8,971.1 384.1,953.9 384.5,952.2 384.8,953.7 385.1,949.2 385.5,955.6 385.8,923.6 386.2,954.2 386.5,953.7 386.8,951.6 387.2,955.4 387.5,952.5 387.8,965.9 388.2,951.8 388.5,929.8 388.9,951.8 389.2,958.6 389.5,960.3 389.9,953.2 390.2,952.8 390.5,944.5 390.9,951.6 391.2,932.9 391.6,955.7 391.9,955.5 392.2,943.1 392.6,953.4 392.9,954.6 393.2,947.0 393.6,952.9 393.9,955.8 394.3,954.3 394.6,954.7 394.9,937.0 395.3,996.9 395.6,952.3 395.9,951.0 396.3,952.9 396.6,952.9 397.0,966.4 397.3,953.9 397.6,953.9 398.0,951.8 398.3,945.0 398.6,953.2 399.0,953.1 399.3,959.8 399.7,938.0 400.0,977.3 400.3,952.3 400.7,954.5 401.0,953.0 401.3,954.3 401.7,951.9 402.0,958.9 402.3,955.0 402.7,954.6 403.0,965.9 403.4,955.3 403.7,948.0 404.0,934.9 404.4,953.4 404.7,959.1 405.0,947.0 405.4,953.5 405.7,953.2 406.1,953.7 406.4,955.5 406.7,945.8 407.1,954.6 407.4,960.6 407.7,951.9 408.1,941.1 408.4,953.6 408.8,953.3 409.1,955.8 409.4,955.7 409.8,954.0 410.1,954.0 410.4,952.7 410.8,952.4 411.1,961.4 411.5,961.8 411.8,952.7 412.1,958.0 412.5,954.8 412.8,946.2 413.1,952.1 413.5,955.7 413.8,941.1 414.2,952.0 414.5,957.2 414.8,958.1 415.2,945.8 415.5,952.9 415.8,952.4 416.2,953.6 416.5,952.4 416.9,954.2 417.2,954.8 417.5,955.4 417.9,953.5 418.2,951.5 418.5,954.9 418.9,953.8 419.2,952.3 419.6,940.7 419.9,953.9 420.2,949.4 420.6,951.8 420.9,951.7 421.2,953.3 421.6,947.8 421.9,954.8 422.3,954.8 422.6,951.9 422.9,951.7 423.3,954.3 423.6,968.0 423.9,951.9 424.3,952.2 424.6,953.0 425.0,960.2 425.3,958.0 425.6,946.3 426.0,946.5 426.3,953.4 426.6,952.6 427.0,954.2 427.3,962.0 427.7,947.4 428.0,953.9 428.3,953.8 428.7,954.6 429.0,968.0 429.3,953.7 429.7,952.5 430.0,953.8 430.4,953.8 430.7,959.7 431.0,940.1 431.4,952.6 431.7,954.8 432.0,953.8 432.4,960.1 432.7,947.6 433.1,955.6 433.4,961.8 433.7,953.4 434.1,955.0 434.4,953.5 434.7,955.3 435.1,944.2 435.4,954.7 435.8,950.5 436.1,963.9 436.4,958.6 436.8,953.8 437.1,953.8 437.4,954.0 437.8,947.1 438.1,952.8 438.5,959.8 438.8,955.0 439.1,948.2 439.5,952.4 439.8,952.2 440.1,943.2 440.5,952.2 440.8,953.1 441.2,955.2 441.5,955.6 441.8,977.3 442.2,945.8 442.5,955.8 442.8,946.3 443.2,940.7 443.5,954.6 443.8,954.5 444.2,952.0 444.5,953.1 444.9,955.4 445.2,953.7 445.5,953.9 445.9,912.6 446.2,954.0 446.5,953.5 446.9,953.8 447.2,949.0 447.6,961.8 447.9,944.2 448.2,954.5 448.6,954.5 448.9,961.5 449.2,953.8 449.6,954.6 449.9,953.9 450.3,955.5 450.6,960.0 450.9,934.9 451.3,956.1 451.6,949.4 451.9,954.5 452.3,952.0 452.6,964.9 453.0,948.6 453.3,956.9 453.6,953.2 454.0,945.3 454.3,953.4 454.6,950.1 455.0,948.9 455.3,960.2 455.7,946.1 456.0,960.7 456.3,956.9 456.7,953.3 457.0,961.4 457.3,953.5 457.7,953.0 458.0,953.3 458.4,943.2 458.7,957.0 459.0,958.9 459.4,955.9 459.7,956.3 460.0,952.0 460.4,953.1 460.7,946.7 461.1,952.9 461.4,953.9 461.7,958.3 462.1,959.7 462.4,953.6 462.7,953.5 463.1,952.9 463.4,953.4 463.8,955.4 464.1,955.5 464.4,955.3 464.8,929.8 465.1,954.8 465.4,956.2 465.8,952.0 466.1,953.0 466.5,954.4 466.8,954.2 467.1,945.3 467.5,953.1 467.8,955.0 468.1,947.8 468.5,953.5 468.8,955.0 469.2,955.3 469.5,953.8 469.8,952.0 470.2,954.7 470.5,952.0 470.8,970.5 471.2,955.4 471.5,954.1 471.9,954.4 472.2,940.7 472.5,952.9 472.9,955.9 473.2,953.6 473.5,951.1 473.9,952.2 474.2,953.9 474.6,955.5 474.9,959.1 475.2,946.8 475.6,947.9 475.9,955.8 476.2,943.2 476.6,953.6 476.9,959.4 477.3,952.2 477.6,959.3 477.9,957.9 478.3,945.4 478.6,959.8 478.9,961.2 479.3,956.7 479.6,953.9 480.0,954.0 480.3,955.9 480.6,952.2 481.0,953.7 481.3,953.3 481.6,963.9 482.0,936.6 482.3,950.6 482.7,953.4 483.0,955.1 483.3,951.7 483.7,945.4 484.0,954.2 484.3,951.8 484.7,954.9 485.0,955.5 485.3,947.0 485.7,952.7 486.0,943.2 486.4,952.7 486.7,952.5 487.0,958.3 487.4,951.6 487.7,959.0 488.0,945.6 488.4,959.7 488.7,949.3 489.1,955.5 489.4,954.9 489.7,948.0 490.1,954.5 490.4,953.5 490.7,953.8 491.1,952.7 491.4,950.9 491.8,944.2 492.1,947.4 492.4,956.5 492.8,958.1 493.1,952.2 493.4,955.1 493.8,954.6 494.1,953.8 494.5,952.1 494.8,954.9 495.1,954.2 495.5,957.5 495.8,955.1 496.1,955.0 496.5,953.7 496.8,955.7 497.2,958.1 497.5,955.2 497.8,957.3 498.2,953.8 498.5,952.7 498.8,946.2 499.2,963.9 499.5,961.8 499.9,961.4 500.2,949.0 500.5,945.9 500.9,942.2 501.2,951.6 501.5,954.6 501.9,953.3 502.2,960.1 502.6,951.6 502.9,952.9 503.2,959.5 503.6,951.7 503.9,949.2 504.2,959.6 504.6,952.0 504.9,954.7 505.3,945.3 505.6,952.0 505.9,955.9 506.3,955.5 506.6,950.2 506.9,956.4 507.3,961.8 507.6,954.4 508.0,956.8 508.3,960.6 508.6,960.9 509.0,954.4 509.3,955.6 509.6,950.4 510.0,952.0 510.3,955.0 510.7,951.8 511.0,960.2 511.3,950.4 511.7,942.2 512.0,952.6 512.3,955.6 512.7,957.3 513.0,946.3 513.4,954.3 513.7,952.5 514.0,953.6 514.4,947.3 514.7,952.7 515.0,954.1 515.4,954.1 515.7,953.4 516.1,951.9 516.4,961.4 516.7,954.5 517.1,953.5 517.4,962.1 517.7,951.9 518.1,952.8 518.4,951.8 518.8,954.3 519.1,954.7 519.4,969.0 519.8,940.7 520.1,947.7 520.4,955.9 520.8,950.9 521.1,954.3 521.5,953.9 521.8,953.2 522.1,952.1 522.5,955.0 522.8,954.8 523.1,946.9 523.5,952.2 523.8,955.9 524.2,955.6 524.5,953.5 524.8,955.9 525.2,954.9 525.5,951.8 525.8,962.8 526.2,961.8 526.5,938.0 526.8,952.5 527.2,953.4 527.5,953.6 527.9,951.6 528.2,946.1 528.5,953.3 528.9,955.7 529.2,962.0 529.5,951.9 529.9,969.0 530.2,940.7 530.6,952.5 530.9,953.3 531.2,961.4 531.6,954.0 531.9,961.6 532.2,952.9 532.6,957.0 532.9,952.3 533.3,955.0 533.6,953.1 533.9,953.1 534.3,948.1 534.6,954.2 534.9,959.7 535.3,959.0 535.6,954.1 536.0,947.6 536.3,943.2 536.6,961.8 537.0,954.7 537.3,952.7 537.6,953.6 538.0,954.2 538.3,951.5 538.7,945.7 539.0,960.6 539.3,955.2 539.7,959.1 540.0,961.1 540.3,960.1 540.7,953.2 541.0,959.7 541.4,949.8 541.7,961.5 542.0,955.2 542.4,960.9 542.7,947.8 543.0,953.0 543.4,954.2 543.7,945.3 544.1,953.7 544.4,953.6 544.7,949.5 545.1,955.0 545.4,957.8 545.7,955.1 546.1,959.2 546.4,958.5 546.8,955.1 547.1,960.1 547.4,949.1 547.8,947.7 548.1,951.7 548.4,950.4 548.8,952.7 549.1,951.6 549.5,953.0 549.8,952.5 550.1,957.4 550.5,955.1 550.8,965.9 551.1,953.3 551.5,951.7 551.8,955.3 552.2,953.1 552.5,940.7 552.8,953.7 553.2,951.7 553.5,953.5 553.8,953.0 554.2,952.3 554.5,953.1 554.9,953.6 555.2,952.8 555.5,949.4 555.9,955.8 556.2,947.3 556.5,955.7 556.9,945.6 557.2,953.4 557.6,954.7 557.9,955.0 558.2,953.5 558.6,953.2 558.9,944.2 559.2,951.8 559.6,955.1 559.9,951.8 560.3,953.7 560.6,955.6 560.9,953.5 561.3,950.9 561.6,946.1 561.9,952.7 562.3,949.2 562.6,955.9 563.0,960.3 563.3,951.8 563.6,948.9 564.0,952.7 564.3,962.8 564.6,960.9 565.0,954.3 565.3,945.3 565.7,955.1 566.0,953.1 566.3,950.3 566.7,955.7 567.0,954.6 567.3,952.6 567.7,953.1 568.0,950.5 568.3,955.2 568.7,946.1 569.0,954.5 569.4,954.3 569.7,952.3 570.0,954.2 570.4,952.3 570.7,952.8 571.0,954.4 571.4,954.5 571.7,952.0 572.1,954.5 572.4,958.4 572.7,953.9 573.1,951.9 573.4,951.6 573.7,954.7 574.1,952.5 574.4,986.6 574.8,961.1 575.1,955.0 575.4,953.7 575.8,951.9 576.1,938.0 576.4,951.9 576.8,953.1 577.1,955.2 577.5,953.0 577.8,952.2 578.1,954.3 578.5,953.1 578.8,958.9 579.1,949.2 579.5,954.2 579.8,946.3 580.2,951.4 580.5,949.8 580.8,953.6 581.2,952.8 581.5,960.2 581.8,964.9 582.2,941.5 582.5,954.1 582.9,952.5 583.2,951.6 583.5,954.5 583.9,947.6 584.2,957.9 584.5,954.1 584.9,954.4 585.2,953.0 585.6,953.4 585.9,953.8 586.2,947.8"/>
<line x1="340.10" y1="953.73" x2="586.40" y2="953.73" class="z"/>
<rect x="340.10" y="875.00" width="246.30" height="182.50" class="f"/>
<line x1="335.60" y1="875.90" x2="340.10" y2="875.90" class="k"/>
<text transform="translate(331.90 877.90) scale(0.8 1)" class="yl" text-anchor="end">.0006</text>
<line x1="335.60" y1="901.84" x2="340.10" y2="901.84" class="k"/>
<text transform="translate(331.90 903.84) scale(0.8 1)" class="yl" text-anchor="end">.0004</text>
<line x1="335.60" y1="927.79" x2="340.10" y2="927.79" class="k"/>
<text transform="translate(331.90 929.79) scale(0.8 1)" class="yl" text-anchor="end">.0002</text>
<line x1="335.60" y1="953.73" x2="340.10" y2="953.73" class="k"/>
<text transform="translate(331.90 955.73) scale(0.8 1)" class="yl" text-anchor="end">.0000</text>
<line x1="335.60" y1="979.67" x2="340.10" y2="979.67" class="k"/>
<text transform="translate(331.90 981.67) scale(0.8 1)" class="yl" text-anchor="end">-.0002</text>
<line x1="335.60" y1="1005.61" x2="340.10" y2="1005.61" class="k"/>
<text transform="translate(331.90 1007.61) scale(0.8 1)" class="yl" text-anchor="end">-.0004</text>
<line x1="335.60" y1="1031.56" x2="340.10" y2="1031.56" class="k"/>
<text transform="translate(331.90 1033.56) scale(0.8 1)" class="yl" text-anchor="end">-.0006</text>
<line x1="335.60" y1="1057.50" x2="340.10" y2="1057.50" class="k"/>
<text transform="translate(331.90 1059.50) scale(0.8 1)" class="yl" text-anchor="end">-.0008</text>
<line x1="350.40" y1="1057.50" x2="350.40" y2="1061.30" class="k"/>
<line x1="359.67" y1="1057.50" x2="359.67" y2="1061.30" class="k"/>
<line x1="370.41" y1="1057.50" x2="370.41" y2="1064.00" class="k"/>
<line x1="380.66" y1="1057.50" x2="380.66" y2="1061.30" class="k"/>
<line x1="390.43" y1="1057.50" x2="390.43" y2="1061.30" class="k"/>
<line x1="401.16" y1="1057.50" x2="401.16" y2="1064.00" class="k"/>
<line x1="411.90" y1="1057.50" x2="411.90" y2="1061.30" class="k"/>
<line x1="422.15" y1="1057.50" x2="422.15" y2="1061.30" class="k"/>
<line x1="432.40" y1="1057.50" x2="432.40" y2="1064.00" class="k"/>
<line x1="443.14" y1="1057.50" x2="443.14" y2="1061.30" class="k"/>
<line x1="452.91" y1="1057.50" x2="452.91" y2="1061.30" class="k"/>
<line x1="463.64" y1="1057.50" x2="463.64" y2="1064.00" class="k"/>
<line x1="472.92" y1="1057.50" x2="472.92" y2="1061.30" class="k"/>
<line x1="482.19" y1="1057.50" x2="482.19" y2="1061.30" class="k"/>
<line x1="493.42" y1="1057.50" x2="493.42" y2="1064.00" class="k"/>
<line x1="503.67" y1="1057.50" x2="503.67" y2="1061.30" class="k"/>
<line x1="513.43" y1="1057.50" x2="513.43" y2="1061.30" class="k"/>
<line x1="524.17" y1="1057.50" x2="524.17" y2="1064.00" class="k"/>
<line x1="534.42" y1="1057.50" x2="534.42" y2="1061.30" class="k"/>
<line x1="545.16" y1="1057.50" x2="545.16" y2="1061.30" class="k"/>
<line x1="555.41" y1="1057.50" x2="555.41" y2="1064.00" class="k"/>
<line x1="565.66" y1="1057.50" x2="565.66" y2="1061.30" class="k"/>
<line x1="575.91" y1="1057.50" x2="575.91" y2="1061.30" class="k"/>
<line x1="586.40" y1="1057.50" x2="586.40" y2="1064.00" class="k"/>
<text transform="translate(355.43 1075.70) scale(0.8 1)" class="r" text-anchor="middle">I</text>
<text transform="translate(386.09 1075.70) scale(0.8 1)" class="r" text-anchor="middle">II</text>
<text transform="translate(416.92 1075.70) scale(0.8 1)" class="r" text-anchor="middle">III</text>
<text transform="translate(447.92 1075.70) scale(0.8 1)" class="r" text-anchor="middle">IV</text>
<text transform="translate(402.76 1094.50) scale(0.765 1)" class="yr" text-anchor="middle">2020</text>
<text transform="translate(478.58 1075.70) scale(0.8 1)" class="r" text-anchor="middle">I</text>
<text transform="translate(509.07 1075.70) scale(0.8 1)" class="r" text-anchor="middle">II</text>
<text transform="translate(539.90 1075.70) scale(0.8 1)" class="r" text-anchor="middle">III</text>
<text transform="translate(570.90 1075.70) scale(0.8 1)" class="r" text-anchor="middle">IV</text>
<text transform="translate(525.91 1094.50) scale(0.765 1)" class="yr" text-anchor="middle">2021</text>
<text transform="translate(765.35 855.00) scale(0.8 1)" class="t" text-anchor="middle">HC</text>
<polyline class="d" points="646.7,948.9 647.0,942.2 647.3,943.5 647.7,949.5 648.0,942.2 648.4,953.5 648.7,951.0 649.0,948.7 649.4,956.6 649.7,955.7 650.0,950.2 650.4,953.2 650.7,940.2 651.1,946.2 651.4,953.1 651.7,949.8 652.1,948.5 652.4,948.4 652.7,950.0 653.1,961.4 653.4,950.5 653.8,950.4 654.1,944.1 654.4,948.4 654.8,948.8 655.1,950.4 655.4,947.4 655.8,947.9 656.1,944.5 656.5,961.8 656.8,948.6 657.1,947.3 657.5,933.9 657.8,948.9 658.1,949.9 658.5,950.5 658.8,956.5 659.2,940.1 659.5,944.8 659.8,949.1 660.2,953.3 660.5,947.4 660.8,954.5 661.2,946.6 661.5,940.8 661.9,949.9 662.2,948.3 662.5,949.8 662.9,950.3 663.2,946.4 663.5,948.9 663.9,953.4 664.2,973.2 664.6,947.4 664.9,948.8 665.2,948.6 665.6,949.7 665.9,950.7 666.2,914.3 666.6,972.1 666.9,920.1 667.2,906.0 667.6,949.9 667.9,947.6 668.3,946.4 668.6,922.5 668.9,992.8 669.3,949.5 669.6,1009.3 669.9,946.6 670.3,898.8 670.6,950.0 671.0,1035.2 671.3,949.0 671.6,950.3 672.0,903.9 672.3,982.5 672.6,947.3 673.0,949.8 673.3,948.9 673.7,950.7 674.0,889.9 674.3,978.3 674.7,930.9 675.0,957.3 675.3,898.8 675.7,963.0 676.0,950.3 676.4,923.6 676.7,913.2 677.0,980.4 677.4,948.6 677.7,950.1 678.0,906.0 678.4,950.5 678.7,946.6 679.1,958.7 679.4,917.4 679.7,950.3 680.1,969.0 680.4,948.5 680.7,957.4 681.1,923.6 681.4,954.9 681.8,947.5 682.1,947.9 682.4,947.8 682.8,947.8 683.1,930.8 683.4,972.1 683.8,948.5 684.1,948.2 684.5,950.7 684.8,946.5 685.1,946.8 685.5,947.2 685.8,949.5 686.1,964.9 686.5,948.5 686.8,950.2 687.2,952.6 687.5,950.4 687.8,949.8 688.2,950.4 688.5,930.8 688.8,947.5 689.2,947.9 689.5,946.4 689.9,948.8 690.2,943.9 690.5,959.7 690.9,951.9 691.2,949.0 691.5,946.4 691.9,948.8 692.2,943.8 692.6,939.1 692.9,949.7 693.2,948.5 693.6,946.5 693.9,946.6 694.2,940.9 694.6,946.4 694.9,952.4 695.3,947.4 695.6,956.6 695.9,949.1 696.3,950.3 696.6,950.5 696.9,947.2 697.3,954.3 697.6,936.0 698.0,950.0 698.3,947.8 698.6,945.8 699.0,947.0 699.3,950.4 699.6,950.7 700.0,977.2 700.3,950.5 700.7,992.8 701.0,946.5 701.3,947.3 701.7,930.4 702.0,950.2 702.3,950.1 702.7,949.6 703.0,947.7 703.4,946.4 703.7,948.4 704.0,959.4 704.4,947.9 704.7,947.4 705.0,969.0 705.4,948.7 705.7,948.8 706.1,947.1 706.4,932.9 706.7,948.6 707.1,946.7 707.4,955.3 707.7,948.5 708.1,948.1 708.4,951.2 708.7,953.7 709.1,948.2 709.4,949.8 709.8,950.6 710.1,954.6 710.4,949.9 710.8,950.1 711.1,949.3 711.4,950.1 711.8,932.9 712.1,952.9 712.5,948.4 712.8,950.5 713.1,957.0 713.5,948.6 713.8,947.0 714.1,946.6 714.5,949.5 714.8,947.3 715.2,957.7 715.5,956.9 715.8,949.8 716.2,941.1 716.5,956.8 716.8,950.5 717.2,942.6 717.5,947.9 717.9,941.2 718.2,941.1 718.5,946.4 718.9,949.5 719.2,948.8 719.5,949.8 719.9,947.7 720.2,953.8 720.6,945.9 720.9,952.4 721.2,948.4 721.6,936.0 721.9,945.2 722.2,944.0 722.6,952.3 722.9,947.9 723.3,940.2 723.6,954.6 723.9,946.3 724.3,954.9 724.6,948.4 724.9,950.2 725.3,954.3 725.6,948.4 726.0,946.6 726.3,941.2 726.6,950.2 727.0,947.0 727.3,940.9 727.6,948.2 728.0,948.4 728.3,952.5 728.7,932.9 729.0,949.6 729.3,947.1 729.7,971.1 730.0,946.8 730.3,947.8 730.7,947.3 731.0,948.6 731.4,948.7 731.7,948.2 732.0,946.9 732.4,931.8 732.7,946.8 733.0,952.6 733.4,944.4 733.7,946.5 734.1,949.0 734.4,942.0 734.7,962.8 735.1,948.5 735.4,948.1 735.7,952.7 736.1,948.4 736.4,949.5 736.8,950.1 737.1,933.9 737.4,948.5 737.8,952.8 738.1,943.1 738.4,947.6 738.8,939.5 739.1,946.8 739.5,947.9 739.8,951.0 740.1,929.8 740.5,950.7 740.8,946.9 741.1,956.6 741.5,945.7 741.8,947.1 742.2,948.1 742.5,952.3 742.8,954.7 743.2,950.6 743.5,949.4 743.8,949.9 744.2,949.9 744.5,947.3 744.9,946.8 745.2,950.1 745.5,946.5 745.9,947.5 746.2,936.6 746.5,948.6 746.9,941.5 747.2,950.1 747.6,976.3 747.9,947.9 748.2,949.3 748.6,948.1 748.9,948.5 749.2,946.4 749.6,948.8 749.9,949.7 750.2,915.3 750.6,949.9 750.9,947.1 751.3,950.3 751.6,947.8 751.9,949.8 752.3,947.8 752.6,947.7 752.9,949.3 753.3,947.1 753.6,939.1 754.0,950.6 754.3,948.5 754.6,948.9 755.0,961.4 755.3,948.3 755.6,947.3 756.0,953.8 756.3,948.4 756.7,949.0 757.0,946.9 757.3,945.9 757.7,946.4 758.0,928.3 758.3,948.9 758.7,939.1 759.0,946.7 759.4,949.9 759.7,948.6 760.0,947.0 760.4,948.2 760.7,948.9 761.0,949.8 761.4,949.0 761.7,950.3 762.1,949.3 762.4,954.8 762.7,949.7 763.1,947.2 763.4,947.9 763.7,938.0 764.1,947.8 764.4,950.4 764.8,946.6 765.1,950.0 765.4,947.0 765.8,954.6 766.1,947.2 766.4,947.5 766.8,956.8 767.1,941.5 767.5,950.6 767.8,947.7 768.1,945.4 768.5,950.3 768.8,953.2 769.1,949.9 769.5,947.2 769.8,946.6 770.2,947.9 770.5,946.8 770.8,947.7 771.2,934.9 771.5,947.3 771.8,953.5 772.2,948.4 772.5,947.6 772.9,950.6 773.2,947.9 773.5,947.0 773.9,953.8 774.2,949.3 774.5,948.2 774.9,950.6 775.2,940.1 775.6,949.7 775.9,950.3 776.2,947.3 776.6,950.1 776.9,954.5 777.2,940.9 777.6,972.1 777.9,948.6 778.3,947.8 778.6,946.2 778.9,947.3 779.3,946.2 779.6,944.3 779.9,949.1 780.3,945.8 780.6,949.3 781.0,947.5 781.3,946.8 781.6,949.9 782.0,948.6 782.3,943.2 782.6,957.7 783.0,949.7 783.3,943.6 783.7,943.9 784.0,947.0 784.3,949.6 784.7,948.0 785.0,951.9 785.3,952.8 785.7,950.2 786.0,946.6 786.4,952.0 786.7,949.5 787.0,948.8 787.4,951.5 787.7,948.2 788.0,950.6 788.4,954.0 788.7,948.4 789.1,946.7 789.4,947.1 789.7,933.9 790.1,963.9 790.4,950.4 790.7,947.0 791.1,947.8 791.4,956.3 791.7,950.4 792.1,947.2 792.4,948.0 792.8,943.0 793.1,955.9 793.4,942.9 793.8,948.3 794.1,949.1 794.4,949.9 794.8,949.0 795.1,950.7 795.5,956.6 795.8,959.7 796.1,950.7 796.5,949.2 796.8,953.6 797.1,947.2 797.5,948.8 797.8,936.6 798.2,956.7 798.5,940.2 798.8,953.9 799.2,945.9 799.5,949.0 799.8,947.8 800.2,947.8 800.5,949.5 800.9,954.0 801.2,944.6 801.5,948.4 801.9,950.3 802.2,949.0 802.5,954.0 802.9,948.7 803.2,946.9 803.6,949.7 803.9,948.1 804.2,935.3 804.6,951.0 804.9,948.0 805.2,950.2 805.6,948.7 805.9,948.4 806.3,950.6 806.6,949.7 806.9,947.6 807.3,955.6 807.6,950.5 807.9,947.1 808.3,949.8 808.6,948.6 809.0,951.7 809.3,949.4 809.6,947.6 810.0,950.0 810.3,953.8 810.6,949.8 811.0,953.6 811.3,943.2 811.7,946.1 812.0,956.7 812.3,947.4 812.7,949.4 813.0,957.7 813.3,941.7 813.7,946.0 814.0,949.6 814.4,943.2 814.7,948.8 815.0,949.6 815.4,948.4 815.7,948.2 816.0,938.0 816.4,948.4 816.7,948.1 817.1,944.3 817.4,944.7 817.7,949.4 818.1,947.8 818.4,950.4 818.7,946.5 819.1,940.4 819.4,949.6 819.8,959.7 820.1,946.8 820.4,944.5 820.8,951.5 821.1,949.2 821.4,942.3 821.8,948.9 822.1,949.2 822.5,941.6 822.8,935.3 823.1,951.6 823.5,950.6 823.8,940.5 824.1,948.0 824.5,954.8 824.8,941.9 825.2,942.7 825.5,940.9 825.8,956.6 826.2,943.7 826.5,949.2 826.8,945.3 827.2,943.5 827.5,950.3 827.9,943.1 828.2,942.7 828.5,949.6 828.9,941.1 829.2,944.6 829.5,945.8 829.9,948.1 830.2,949.8 830.6,944.3 830.9,948.7 831.2,949.5 831.6,942.3 831.9,946.6 832.2,948.7 832.6,948.7 832.9,954.6 833.2,947.2 833.6,951.8 833.9,948.7 834.3,950.6 834.6,945.0 834.9,948.5 835.3,943.8 835.6,942.9 835.9,947.7 836.3,937.4 836.6,956.9 837.0,948.1 837.3,949.9 837.6,949.6 838.0,946.9 838.3,945.4 838.6,948.5 839.0,949.0 839.3,950.6 839.7,941.5 840.0,941.4 840.3,947.1 840.7,952.6 841.0,947.9 841.3,939.1 841.7,947.0 842.0,941.8 842.4,947.3 842.7,948.7 843.0,954.7 843.4,955.0 843.7,950.5 844.0,946.4 844.4,954.8 844.7,956.2 845.1,952.5 845.4,940.7 845.7,959.3 846.1,947.8 846.4,949.5 846.7,947.5 847.1,948.1 847.4,948.1 847.8,947.8 848.1,944.5 848.4,955.2 848.8,953.6 849.1,950.1 849.4,941.4 849.8,947.3 850.1,950.5 850.5,949.6 850.8,949.4 851.1,950.7 851.5,940.1 851.8,950.4 852.1,950.3 852.5,949.0 852.8,952.5 853.2,948.7 853.5,949.6 853.8,956.5 854.2,950.6 854.5,949.1 854.8,949.9 855.2,949.2 855.5,949.9 855.9,942.7 856.2,947.2 856.5,955.2 856.9,949.1 857.2,947.8 857.5,947.9 857.9,942.8 858.2,943.7 858.6,950.4 858.9,941.5 859.2,950.3 859.6,947.2 859.9,962.8 860.2,948.9 860.6,950.4 860.9,956.1 861.3,943.2 861.6,948.9 861.9,948.3 862.3,949.2 862.6,950.6 862.9,938.0 863.3,946.4 863.6,947.7 864.0,950.1 864.3,941.8 864.6,946.9 865.0,950.3 865.3,955.4 865.6,946.9 866.0,948.1 866.3,949.4 866.7,937.4 867.0,942.4 867.3,952.6 867.7,949.7 868.0,950.0 868.3,946.9 868.7,949.9 869.0,946.6 869.4,954.6 869.7,946.8 870.0,948.1 870.4,953.1 870.7,948.1 871.0,952.1 871.4,940.1 871.7,946.4 872.1,944.6 872.4,951.4 872.7,941.2 873.1,951.9 873.4,944.5 873.7,949.6 874.1,952.7 874.4,950.5 874.7,948.4 875.1,948.7 875.4,947.2 875.8,948.1 876.1,940.2 876.4,950.0 876.8,953.8 877.1,955.1 877.4,953.2 877.8,946.5 878.1,952.1 878.5,942.1 878.8,951.9 879.1,950.7 879.5,948.3 879.8,952.3 880.1,947.4 880.5,950.6 880.8,960.8 881.2,948.5 881.5,950.5 881.8,956.4 882.2,948.4 882.5,943.9 882.8,949.1 883.2,948.0 883.5,934.5 883.9,946.8 884.2,949.7 884.5,946.4 884.9,947.4 885.2,949.4 885.5,947.9 885.9,949.4 886.2,951.5 886.6,947.0 886.9,930.8 887.2,949.6 887.6,946.8 887.9,947.1 888.2,946.7 888.6,947.3 888.9,952.5 889.3,950.2 889.6,953.5 889.9,941.1 890.3,952.5 890.6,950.5 890.9,944.1 891.3,948.9 891.6,942.9 892.0,945.3 892.3,948.0 892.6,949.3"/>
<line x1="646.50" y1="948.54" x2="892.80" y2="948.54" class="z"/>
<rect x="646.50" y="875.00" width="246.30" height="182.50" class="f"/>
<line x1="642.00" y1="875.90" x2="646.50" y2="875.90" class="k"/>
<text transform="translate(638.30 877.90) scale(0.8 1)" class="yl" text-anchor="end">.0004</text>
<line x1="642.00" y1="912.22" x2="646.50" y2="912.22" class="k"/>
<text transform="translate(638.30 914.22) scale(0.8 1)" class="yl" text-anchor="end">.0002</text>
<line x1="642.00" y1="948.54" x2="646.50" y2="948.54" class="k"/>
<text transform="translate(638.30 950.54) scale(0.8 1)" class="yl" text-anchor="end">.0000</text>
<line x1="642.00" y1="984.86" x2="646.50" y2="984.86" class="k"/>
<text transform="translate(638.30 986.86) scale(0.8 1)" class="yl" text-anchor="end">-.0002</text>
<line x1="642.00" y1="1021.18" x2="646.50" y2="1021.18" class="k"/>
<text transform="translate(638.30 1023.18) scale(0.8 1)" class="yl" text-anchor="end">-.0004</text>
<line x1="642.00" y1="1057.50" x2="646.50" y2="1057.50" class="k"/>
<text transform="translate(638.30 1059.50) scale(0.8 1)" class="yl" text-anchor="end">-.0006</text>
<line x1="656.80" y1="1057.50" x2="656.80" y2="1061.30" class="k"/>
<line x1="666.07" y1="1057.50" x2="666.07" y2="1061.30" class="k"/>
<line x1="676.81" y1="1057.50" x2="676.81" y2="1064.00" class="k"/>
<line x1="687.06" y1="1057.50" x2="687.06" y2="1061.30" class="k"/>
<line x1="696.83" y1="1057.50" x2="696.83" y2="1061.30" class="k"/>
<line x1="707.56" y1="1057.50" x2="707.56" y2="1064.00" class="k"/>
<line x1="718.30" y1="1057.50" x2="718.30" y2="1061.30" class="k"/>
<line x1="728.55" y1="1057.50" x2="728.55" y2="1061.30" class="k"/>
<line x1="738.80" y1="1057.50" x2="738.80" y2="1064.00" class="k"/>
<line x1="749.54" y1="1057.50" x2="749.54" y2="1061.30" class="k"/>
<line x1="759.31" y1="1057.50" x2="759.31" y2="1061.30" class="k"/>
<line x1="770.04" y1="1057.50" x2="770.04" y2="1064.00" class="k"/>
<line x1="779.32" y1="1057.50" x2="779.32" y2="1061.30" class="k"/>
<line x1="788.59" y1="1057.50" x2="788.59" y2="1061.30" class="k"/>
<line x1="799.82" y1="1057.50" x2="799.82" y2="1064.00" class="k"/>
<line x1="810.07" y1="1057.50" x2="810.07" y2="1061.30" class="k"/>
<line x1="819.83" y1="1057.50" x2="819.83" y2="1061.30" class="k"/>
<line x1="830.57" y1="1057.50" x2="830.57" y2="1064.00" class="k"/>
<line x1="840.82" y1="1057.50" x2="840.82" y2="1061.30" class="k"/>
<line x1="851.56" y1="1057.50" x2="851.56" y2="1061.30" class="k"/>
<line x1="861.81" y1="1057.50" x2="861.81" y2="1064.00" class="k"/>
<line x1="872.06" y1="1057.50" x2="872.06" y2="1061.30" class="k"/>
<line x1="882.31" y1="1057.50" x2="882.31" y2="1061.30" class="k"/>
<line x1="892.80" y1="1057.50" x2="892.80" y2="1064.00" class="k"/>
<text transform="translate(661.83 1075.70) scale(0.8 1)" class="r" text-anchor="middle">I</text>
<text transform="translate(692.49 1075.70) scale(0.8 1)" class="r" text-anchor="middle">II</text>
<text transform="translate(723.32 1075.70) scale(0.8 1)" class="r" text-anchor="middle">III</text>
<text transform="translate(754.32 1075.70) scale(0.8 1)" class="r" text-anchor="middle">IV</text>
<text transform="translate(709.16 1094.50) scale(0.765 1)" class="yr" text-anchor="middle">2020</text>
<text transform="translate(784.98 1075.70) scale(0.8 1)" class="r" text-anchor="middle">I</text>
<text transform="translate(815.47 1075.70) scale(0.8 1)" class="r" text-anchor="middle">II</text>
<text transform="translate(846.30 1075.70) scale(0.8 1)" class="r" text-anchor="middle">III</text>
<text transform="translate(877.30 1075.70) scale(0.8 1)" class="r" text-anchor="middle">IV</text>
<text transform="translate(832.31 1094.50) scale(0.765 1)" class="yr" text-anchor="middle">2021</text>
<text transform="translate(1070.45 855.00) scale(0.8 1)" class="t" text-anchor="middle">Industries</text>
<polyline class="d" points="952.8,967.9 953.1,964.2 953.4,967.3 953.8,966.5 954.1,958.7 954.5,969.0 954.8,960.6 955.1,967.4 955.5,966.2 955.8,971.8 956.1,968.3 956.5,966.4 956.8,975.7 957.2,965.0 957.5,961.9 957.8,960.8 958.2,975.5 958.5,965.9 958.8,967.9 959.2,965.4 959.5,970.2 959.9,973.9 960.2,965.2 960.5,967.7 960.9,965.3 961.2,967.2 961.5,965.7 961.9,982.1 962.2,967.6 962.6,966.3 962.9,967.1 963.2,955.2 963.6,973.6 963.9,974.0 964.2,965.6 964.6,966.9 964.9,961.0 965.3,959.9 965.6,966.1 965.9,965.3 966.3,963.8 966.6,966.3 966.9,961.4 967.3,973.9 967.6,968.0 968.0,968.3 968.3,979.9 968.6,967.4 969.0,958.8 969.3,978.8 969.6,990.7 970.0,965.7 970.3,968.6 970.7,968.6 971.0,965.8 971.3,970.0 971.7,988.7 972.0,969.1 972.3,945.3 972.7,955.0 973.0,965.0 973.3,941.1 973.7,1003.1 974.0,965.6 974.4,968.9 974.7,966.5 975.0,936.0 975.4,1025.9 975.7,968.1 976.0,967.5 976.4,976.6 976.7,917.4 977.1,1051.7 977.4,967.2 977.7,964.9 978.1,947.9 978.4,936.0 978.7,1017.6 979.1,965.5 979.4,967.4 979.8,994.9 980.1,894.6 980.4,966.3 980.8,968.8 981.1,965.9 981.4,924.6 981.8,964.7 982.1,966.6 982.5,951.5 982.8,966.7 983.1,999.0 983.5,965.7 983.8,965.2 984.1,917.4 984.5,965.7 984.8,965.0 985.2,967.4 985.5,940.1 985.8,967.7 986.2,964.5 986.5,959.0 986.8,986.6 987.2,947.3 987.5,964.8 987.9,972.9 988.2,964.8 988.5,938.0 988.9,965.2 989.2,985.6 989.5,967.5 989.9,967.8 990.2,955.1 990.6,968.7 990.9,967.0 991.2,957.8 991.6,946.9 991.9,964.7 992.2,968.6 992.6,968.7 992.9,967.0 993.3,984.5 993.6,968.8 993.9,970.4 994.3,965.7 994.6,970.1 994.9,953.9 995.3,965.1 995.6,965.2 996.0,967.8 996.3,967.8 996.6,967.8 997.0,967.2 997.3,983.5 997.6,965.0 998.0,968.5 998.3,976.1 998.7,931.8 999.0,966.5 999.3,968.3 999.7,964.9 1000.0,969.9 1000.3,967.9 1000.7,968.3 1001.0,965.2 1001.4,946.3 1001.7,972.1 1002.0,966.9 1002.4,966.8 1002.7,967.5 1003.0,965.9 1003.4,967.3 1003.7,960.0 1004.1,965.2 1004.4,968.5 1004.7,943.2 1005.1,967.7 1005.4,965.4 1005.7,968.7 1006.1,983.2 1006.4,967.9 1006.8,1011.4 1007.1,981.1 1007.4,968.6 1007.8,953.1 1008.1,965.3 1008.4,981.1 1008.8,968.4 1009.1,968.1 1009.5,966.0 1009.8,964.8 1010.1,966.6 1010.5,966.4 1010.8,988.7 1011.1,962.0 1011.5,965.1 1011.8,968.4 1012.2,967.0 1012.5,951.9 1012.8,966.4 1013.2,964.8 1013.5,967.8 1013.8,964.8 1014.2,959.7 1014.5,965.6 1014.8,962.0 1015.2,974.6 1015.5,977.3 1015.9,965.0 1016.2,966.5 1016.5,964.8 1016.9,967.1 1017.2,962.9 1017.5,964.9 1017.9,951.9 1018.2,965.0 1018.6,965.8 1018.9,962.5 1019.2,970.0 1019.6,971.3 1019.9,967.6 1020.2,968.8 1020.6,967.3 1020.9,961.1 1021.3,956.6 1021.6,971.1 1021.9,963.8 1022.3,965.3 1022.6,965.4 1022.9,965.8 1023.3,959.8 1023.6,964.5 1024.0,967.7 1024.3,964.5 1024.6,954.2 1025.0,968.5 1025.3,962.5 1025.6,966.9 1026.0,960.8 1026.3,969.0 1026.7,968.3 1027.0,962.5 1027.3,966.3 1027.7,960.1 1028.0,968.4 1028.3,973.5 1028.7,965.7 1029.0,960.6 1029.4,967.5 1029.7,959.0 1030.0,968.5 1030.4,968.7 1030.7,971.9 1031.0,966.2 1031.4,973.4 1031.7,956.6 1032.1,966.7 1032.4,966.6 1032.7,966.6 1033.1,965.0 1033.4,966.4 1033.7,970.9 1034.1,967.4 1034.4,975.6 1034.8,968.0 1035.1,977.8 1035.4,968.2 1035.8,986.6 1036.1,966.7 1036.4,965.8 1036.8,958.8 1037.1,965.8 1037.5,967.2 1037.8,954.6 1038.1,965.1 1038.5,962.2 1038.8,967.4 1039.1,966.4 1039.5,964.6 1039.8,967.5 1040.2,973.0 1040.5,965.0 1040.8,965.1 1041.2,983.5 1041.5,968.6 1041.8,963.9 1042.2,972.0 1042.5,965.1 1042.9,953.1 1043.2,968.8 1043.5,965.0 1043.9,968.0 1044.2,969.8 1044.5,963.8 1044.9,974.6 1045.2,965.4 1045.6,969.5 1045.9,964.6 1046.2,966.2 1046.6,953.9 1046.9,973.2 1047.2,968.3 1047.6,966.3 1047.9,966.0 1048.3,965.3 1048.6,966.0 1048.9,961.0 1049.3,965.7 1049.6,965.6 1049.9,967.8 1050.3,959.2 1050.6,973.3 1051.0,970.7 1051.3,966.7 1051.6,967.6 1052.0,959.0 1052.3,968.8 1052.6,965.2 1053.0,967.0 1053.3,972.1 1053.7,998.0 1054.0,967.4 1054.3,963.6 1054.7,961.5 1055.0,968.1 1055.3,950.4 1055.7,964.6 1056.0,966.6 1056.3,968.5 1056.7,967.0 1057.0,965.4 1057.4,966.5 1057.7,965.7 1058.0,944.9 1058.4,966.0 1058.7,964.9 1059.0,966.0 1059.4,975.2 1059.7,966.2 1060.1,964.7 1060.4,964.5 1060.7,964.6 1061.1,968.8 1061.4,967.9 1061.7,966.5 1062.1,966.7 1062.4,969.1 1062.8,967.9 1063.1,974.0 1063.4,954.6 1063.8,975.6 1064.1,966.1 1064.4,962.4 1064.8,971.1 1065.1,964.2 1065.5,967.9 1065.8,959.7 1066.1,966.7 1066.5,965.8 1066.8,956.0 1067.1,968.6 1067.5,968.2 1067.8,965.3 1068.2,966.0 1068.5,967.9 1068.8,970.8 1069.2,965.2 1069.5,965.1 1069.8,974.8 1070.2,961.0 1070.5,964.8 1070.9,968.6 1071.2,961.7 1071.5,972.9 1071.9,964.2 1072.2,968.1 1072.5,961.9 1072.9,960.6 1073.2,965.4 1073.6,968.3 1073.9,968.1 1074.2,965.1 1074.6,966.4 1074.9,958.9 1075.2,966.1 1075.6,964.9 1075.9,978.3 1076.3,961.9 1076.6,964.1 1076.9,953.5 1077.3,965.7 1077.6,964.9 1077.9,975.7 1078.3,959.8 1078.6,969.8 1079.0,965.1 1079.3,970.6 1079.6,967.8 1080.0,972.7 1080.3,964.2 1080.6,972.1 1081.0,960.2 1081.3,967.8 1081.7,967.3 1082.0,958.4 1082.3,967.1 1082.7,966.2 1083.0,962.2 1083.3,960.4 1083.7,982.5 1084.0,966.7 1084.4,964.7 1084.7,965.4 1085.0,966.1 1085.4,965.1 1085.7,967.3 1086.0,952.5 1086.4,966.8 1086.7,967.3 1087.1,965.2 1087.4,967.5 1087.7,964.7 1088.1,972.4 1088.4,958.6 1088.7,969.7 1089.1,966.6 1089.4,975.2 1089.8,962.0 1090.1,970.5 1090.4,963.4 1090.8,970.1 1091.1,972.7 1091.4,966.5 1091.8,967.5 1092.1,961.5 1092.5,965.5 1092.8,963.4 1093.1,965.2 1093.5,981.4 1093.8,966.4 1094.1,967.5 1094.5,949.0 1094.8,959.1 1095.2,963.8 1095.5,967.4 1095.8,968.0 1096.2,975.0 1096.5,965.5 1096.8,964.9 1097.2,965.9 1097.5,966.7 1097.8,952.5 1098.2,967.2 1098.5,965.8 1098.9,967.5 1099.2,967.4 1099.5,959.2 1099.9,966.3 1100.2,966.1 1100.5,968.7 1100.9,972.1 1101.2,960.4 1101.6,968.8 1101.9,967.0 1102.2,965.4 1102.6,961.5 1102.9,968.1 1103.2,965.4 1103.6,964.6 1103.9,952.5 1104.3,966.4 1104.6,966.6 1104.9,962.0 1105.3,966.8 1105.6,972.4 1105.9,964.9 1106.3,965.0 1106.6,967.9 1107.0,966.3 1107.3,972.2 1107.6,967.5 1108.0,967.2 1108.3,965.5 1108.6,965.4 1109.0,967.4 1109.3,962.6 1109.7,968.2 1110.0,966.9 1110.3,965.8 1110.7,962.7 1111.0,975.6 1111.3,959.5 1111.7,966.6 1112.0,958.7 1112.4,966.4 1112.7,966.0 1113.0,960.7 1113.4,967.1 1113.7,967.0 1114.0,974.6 1114.4,970.9 1114.7,964.9 1115.1,964.8 1115.4,970.3 1115.7,968.6 1116.1,967.1 1116.4,964.9 1116.7,966.4 1117.1,969.3 1117.4,968.3 1117.8,971.0 1118.1,966.7 1118.4,967.9 1118.8,965.4 1119.1,975.8 1119.4,983.5 1119.8,955.6 1120.1,965.7 1120.5,974.4 1120.8,964.6 1121.1,965.6 1121.5,964.8 1121.8,969.3 1122.1,967.3 1122.5,963.2 1122.8,960.8 1123.2,967.7 1123.5,966.7 1123.8,967.5 1124.2,967.3 1124.5,965.2 1124.8,967.6 1125.2,957.7 1125.5,959.7 1125.9,971.3 1126.2,959.4 1126.5,958.2 1126.9,972.6 1127.2,971.6 1127.5,966.7 1127.9,966.4 1128.2,959.0 1128.6,969.8 1128.9,968.8 1129.2,963.1 1129.6,967.7 1129.9,974.2 1130.2,967.1 1130.6,967.3 1130.9,965.7 1131.3,968.5 1131.6,968.6 1131.9,974.2 1132.3,972.7 1132.6,973.0 1132.9,953.9 1133.3,969.1 1133.6,974.3 1134.0,967.3 1134.3,967.3 1134.6,966.7 1135.0,967.6 1135.3,965.7 1135.6,969.7 1136.0,958.6 1136.3,961.5 1136.7,966.2 1137.0,969.9 1137.3,964.2 1137.7,971.1 1138.0,961.9 1138.3,964.1 1138.7,966.8 1139.0,955.6 1139.3,968.6 1139.7,958.8 1140.0,967.7 1140.4,968.9 1140.7,964.9 1141.0,971.7 1141.4,966.7 1141.7,981.4 1142.0,951.5 1142.4,966.6 1142.7,968.8 1143.1,966.7 1143.4,971.7 1143.7,968.8 1144.1,966.4 1144.4,967.4 1144.7,962.2 1145.1,961.0 1145.4,964.4 1145.8,962.3 1146.1,966.8 1146.4,965.9 1146.8,966.7 1147.1,975.3 1147.4,959.7 1147.8,972.1 1148.1,966.8 1148.5,967.3 1148.8,961.1 1149.1,965.4 1149.5,966.4 1149.8,967.3 1150.1,967.8 1150.5,962.5 1150.8,964.8 1151.2,964.5 1151.5,968.2 1151.8,969.4 1152.2,960.4 1152.5,968.4 1152.8,958.2 1153.2,967.1 1153.5,965.0 1153.9,967.6 1154.2,973.2 1154.5,964.8 1154.9,967.4 1155.2,965.1 1155.5,959.3 1155.9,966.6 1156.2,968.5 1156.6,961.0 1156.9,966.9 1157.2,972.9 1157.6,967.1 1157.9,972.9 1158.2,966.1 1158.6,967.1 1158.9,966.5 1159.3,969.1 1159.6,960.4 1159.9,966.0 1160.3,968.3 1160.6,961.3 1160.9,969.9 1161.3,967.0 1161.6,967.3 1162.0,968.7 1162.3,964.6 1162.6,966.5 1163.0,975.3 1163.3,958.0 1163.6,963.9 1164.0,974.9 1164.3,954.6 1164.7,966.8 1165.0,968.9 1165.3,968.0 1165.7,965.4 1166.0,966.5 1166.3,965.6 1166.7,967.5 1167.0,976.3 1167.4,966.9 1167.7,970.2 1168.0,969.0 1168.4,967.8 1168.7,968.2 1169.0,968.5 1169.4,972.6 1169.7,967.6 1170.1,959.3 1170.4,966.1 1170.7,966.0 1171.1,975.1 1171.4,966.7 1171.7,965.7 1172.1,953.9 1172.4,968.3 1172.8,967.3 1173.1,965.7 1173.4,966.8 1173.8,971.7 1174.1,962.6 1174.4,965.2 1174.8,964.4 1175.1,967.6 1175.5,967.8 1175.8,966.5 1176.1,981.4 1176.5,966.8 1176.8,964.5 1177.1,968.0 1177.5,967.1 1177.8,966.2 1178.2,965.2 1178.5,968.8 1178.8,964.7 1179.2,967.5 1179.5,966.8 1179.8,970.5 1180.2,965.4 1180.5,959.7 1180.8,967.0 1181.2,963.9 1181.5,964.4 1181.9,967.9 1182.2,966.8 1182.5,973.8 1182.9,969.0 1183.2,968.1 1183.5,966.2 1183.9,963.0 1184.2,966.8 1184.6,961.9 1184.9,967.4 1185.2,967.7 1185.6,966.6 1185.9,966.9 1186.2,966.3 1186.6,999.0 1186.9,965.9 1187.3,965.6 1187.6,968.9 1187.9,966.6 1188.3,947.3 1188.6,967.4 1188.9,958.8 1189.3,965.9 1189.6,967.8 1190.0,968.8 1190.3,968.7 1190.6,964.8 1191.0,966.5 1191.3,962.2 1191.6,965.1 1192.0,967.2 1192.3,968.6 1192.7,970.7 1193.0,968.2 1193.3,973.3 1193.7,968.4 1194.0,967.1 1194.3,979.4 1194.7,949.4 1195.0,965.4 1195.4,966.2 1195.7,962.8 1196.0,969.9 1196.4,972.9 1196.7,973.9 1197.0,964.4 1197.4,959.0 1197.7,969.9 1198.1,968.9 1198.4,968.1 1198.7,962.8"/>
<line x1="952.60" y1="966.70" x2="1198.90" y2="966.70" class="z"/>
<rect x="952.60" y="875.00" width="246.30" height="182.50" class="f"/>
<line x1="948.10" y1="875.90" x2="952.60" y2="875.90" class="k"/>
<text transform="translate(944.40 877.90) scale(0.8 1)" class="yl" text-anchor="end">.0006</text>
<line x1="948.10" y1="906.17" x2="952.60" y2="906.17" class="k"/>
<text transform="translate(944.40 908.17) scale(0.8 1)" class="yl" text-anchor="end">.0004</text>
<line x1="948.10" y1="936.43" x2="952.60" y2="936.43" class="k"/>
<text transform="translate(944.40 938.43) scale(0.8 1)" class="yl" text-anchor="end">.0002</text>
<line x1="948.10" y1="966.70" x2="952.60" y2="966.70" class="k"/>
<text transform="translate(944.40 968.70) scale(0.8 1)" class="yl" text-anchor="end">.0000</text>
<line x1="948.10" y1="996.97" x2="952.60" y2="996.97" class="k"/>
<text transform="translate(944.40 998.97) scale(0.8 1)" class="yl" text-anchor="end">-.0002</text>
<line x1="948.10" y1="1027.23" x2="952.60" y2="1027.23" class="k"/>
<text transform="translate(944.40 1029.23) scale(0.8 1)" class="yl" text-anchor="end">-.0004</text>
<line x1="948.10" y1="1057.50" x2="952.60" y2="1057.50" class="k"/>
<text transform="translate(944.40 1059.50) scale(0.8 1)" class="yl" text-anchor="end">-.0006</text>
<line x1="962.90" y1="1057.50" x2="962.90" y2="1061.30" class="k"/>
<line x1="972.17" y1="1057.50" x2="972.17" y2="1061.30" class="k"/>
<line x1="982.91" y1="1057.50" x2="982.91" y2="1064.00" class="k"/>
<line x1="993.16" y1="1057.50" x2="993.16" y2="1061.30" class="k"/>
<line x1="1002.93" y1="1057.50" x2="1002.93" y2="1061.30" class="k"/>
<line x1="1013.66" y1="1057.50" x2="1013.66" y2="1064.00" class="k"/>
<line x1="1024.40" y1="1057.50" x2="1024.40" y2="1061.30" class="k"/>
<line x1="1034.65" y1="1057.50" x2="1034.65" y2="1061.30" class="k"/>
<line x1="1044.90" y1="1057.50" x2="1044.90" y2="1064.00" class="k"/>
<line x1="1055.64" y1="1057.50" x2="1055.64" y2="1061.30" class="k"/>
<line x1="1065.41" y1="1057.50" x2="1065.41" y2="1061.30" class="k"/>
<line x1="1076.14" y1="1057.50" x2="1076.14" y2="1064.00" class="k"/>
<line x1="1085.42" y1="1057.50" x2="1085.42" y2="1061.30" class="k"/>
<line x1="1094.69" y1="1057.50" x2="1094.69" y2="1061.30" class="k"/>
<line x1="1105.92" y1="1057.50" x2="1105.92" y2="1064.00" class="k"/>
<line x1="1116.17" y1="1057.50" x2="1116.17" y2="1061.30" class="k"/>
<line x1="1125.93" y1="1057.50" x2="1125.93" y2="1061.30" class="k"/>
<line x1="1136.67" y1="1057.50" x2="1136.67" y2="1064.00" class="k"/>
<line x1="1146.92" y1="1057.50" x2="1146.92" y2="1061.30" class="k"/>
<line x1="1157.66" y1="1057.50" x2="1157.66" y2="1061.30" class="k"/>
<line x1="1167.91" y1="1057.50" x2="1167.91" y2="1064.00" class="k"/>
<line x1="1178.16" y1="1057.50" x2="1178.16" y2="1061.30" class="k"/>
<line x1="1188.41" y1="1057.50" x2="1188.41" y2="1061.30" class="k"/>
<line x1="1198.90" y1="1057.50" x2="1198.90" y2="1064.00" class="k"/>
<text transform="translate(967.93 1075.70) scale(0.8 1)" class="r" text-anchor="middle">I</text>
<text transform="translate(998.59 1075.70) scale(0.8 1)" class="r" text-anchor="middle">II</text>
<text transform="translate(1029.42 1075.70) scale(0.8 1)" class="r" text-anchor="middle">III</text>
<text transform="translate(1060.42 1075.70) scale(0.8 1)" class="r" text-anchor="middle">IV</text>
<text transform="translate(1015.26 1094.50) scale(0.765 1)" class="yr" text-anchor="middle">2020</text>
<text transform="translate(1091.08 1075.70) scale(0.8 1)" class="r" text-anchor="middle">I</text>
<text transform="translate(1121.57 1075.70) scale(0.8 1)" class="r" text-anchor="middle">II</text>
<text transform="translate(1152.40 1075.70) scale(0.8 1)" class="r" text-anchor="middle">III</text>
<text transform="translate(1183.40 1075.70) scale(0.8 1)" class="r" text-anchor="middle">IV</text>
<text transform="translate(1138.41 1094.50) scale(0.765 1)" class="yr" text-anchor="middle">2021</text>
<text transform="translate(152.75 1126.00) scale(0.8 1)" class="t" text-anchor="middle">Market</text>
<polyline class="d" points="34.1,1224.5 34.4,1220.4 34.7,1213.8 35.1,1215.2 35.4,1224.5 35.8,1228.0 36.1,1220.2 36.4,1213.8 36.8,1221.4 37.1,1227.6 37.4,1213.2 37.8,1220.4 38.1,1214.2 38.5,1217.8 38.8,1222.6 39.1,1228.0 39.5,1220.9 39.8,1214.3 40.1,1219.3 40.5,1219.7 40.8,1221.9 41.2,1220.1 41.5,1215.4 41.8,1222.5 42.2,1221.5 42.5,1222.3 42.8,1221.3 43.2,1233.8 43.5,1222.0 43.9,1221.7 44.2,1228.8 44.5,1208.6 44.9,1221.9 45.2,1212.9 45.5,1227.1 45.9,1218.1 46.2,1219.1 46.6,1215.3 46.9,1222.9 47.2,1218.3 47.6,1217.6 47.9,1215.8 48.2,1221.4 48.6,1228.8 48.9,1220.8 49.3,1219.6 49.6,1218.8 49.9,1220.3 50.3,1221.6 50.6,1219.9 50.9,1219.0 51.3,1246.2 51.6,1219.2 52.0,1222.5 52.3,1220.6 52.6,1254.5 53.0,1219.9 53.3,1220.2 53.6,1187.9 54.0,1222.2 54.3,1222.8 54.6,1222.8 55.0,1221.6 55.3,1189.4 55.7,1265.8 56.0,1220.6 56.3,1219.0 56.7,1185.2 57.0,1283.4 57.3,1222.7 57.7,1154.9 58.0,1196.0 58.4,1322.7 58.7,1219.8 59.0,1220.0 59.4,1177.0 59.7,1264.8 60.0,1203.0 60.4,1227.9 60.7,1219.3 61.1,1248.3 61.4,1151.1 61.7,1223.2 62.1,1219.4 62.4,1219.9 62.7,1215.1 63.1,1173.9 63.4,1221.6 63.8,1221.7 64.1,1256.5 64.4,1227.5 64.8,1221.4 65.1,1222.3 65.4,1221.1 65.8,1167.7 66.1,1191.2 66.5,1219.6 66.8,1221.9 67.1,1194.5 67.5,1237.9 67.8,1219.6 68.1,1222.3 68.5,1209.6 68.8,1220.8 69.2,1198.3 69.5,1222.7 69.8,1221.1 70.2,1244.1 70.5,1222.0 70.8,1220.1 71.2,1199.7 71.5,1221.3 71.9,1227.2 72.2,1219.5 72.5,1215.8 72.9,1223.0 73.2,1220.8 73.5,1219.1 73.9,1198.7 74.2,1243.1 74.6,1221.6 74.9,1219.4 75.2,1218.9 75.6,1218.9 75.9,1226.8 76.2,1206.5 76.6,1212.2 76.9,1211.6 77.3,1219.5 77.6,1215.5 77.9,1221.5 78.3,1221.2 78.6,1231.7 78.9,1223.0 79.3,1220.6 79.6,1222.8 80.0,1195.6 80.3,1222.5 80.6,1220.4 81.0,1227.1 81.3,1227.2 81.6,1218.0 82.0,1218.6 82.3,1220.9 82.7,1208.0 83.0,1228.6 83.3,1222.5 83.7,1229.0 84.0,1223.3 84.3,1220.0 84.7,1223.0 85.0,1217.0 85.4,1220.8 85.7,1223.2 86.0,1219.9 86.4,1200.3 86.7,1220.5 87.0,1247.7 87.4,1220.4 87.7,1220.4 88.1,1268.9 88.4,1222.8 88.7,1219.3 89.1,1222.0 89.4,1220.3 89.7,1210.0 90.1,1220.4 90.4,1221.9 90.8,1219.4 91.1,1221.0 91.4,1222.7 91.8,1231.6 92.1,1220.3 92.4,1219.0 92.8,1241.0 93.1,1221.9 93.5,1222.8 93.8,1220.4 94.1,1220.2 94.5,1208.0 94.8,1212.7 95.1,1221.2 95.5,1219.4 95.8,1224.0 96.1,1218.1 96.5,1216.5 96.8,1220.5 97.2,1229.7 97.5,1219.2 97.8,1218.9 98.2,1222.5 98.5,1223.4 98.8,1210.0 99.2,1222.5 99.5,1221.3 99.9,1221.1 100.2,1221.1 100.5,1222.8 100.9,1222.5 101.2,1220.5 101.5,1222.1 101.9,1220.0 102.2,1228.6 102.6,1221.7 102.9,1217.3 103.2,1213.8 103.6,1219.0 103.9,1213.3 104.2,1211.1 104.6,1219.1 104.9,1214.9 105.3,1218.6 105.6,1219.6 105.9,1214.5 106.3,1219.9 106.6,1222.9 106.9,1225.6 107.3,1227.7 107.6,1222.4 108.0,1219.6 108.3,1225.5 108.6,1222.9 109.0,1210.0 109.3,1216.1 109.6,1217.2 110.0,1228.2 110.3,1215.9 110.7,1228.6 111.0,1220.3 111.3,1217.5 111.7,1215.3 112.0,1219.7 112.3,1218.1 112.7,1217.8 113.0,1221.8 113.4,1219.7 113.7,1220.7 114.0,1212.1 114.4,1220.4 114.7,1229.0 115.0,1221.7 115.4,1223.0 115.7,1221.9 116.1,1219.0 116.4,1221.9 116.7,1231.7 117.1,1248.3 117.4,1215.2 117.7,1221.0 118.1,1220.9 118.4,1205.9 118.8,1222.8 119.1,1221.1 119.4,1220.8 119.8,1219.0 120.1,1224.8 120.4,1213.3 120.8,1221.7 121.1,1223.1 121.5,1218.9 121.8,1222.8 122.1,1222.0 122.5,1216.8 122.8,1221.2 123.1,1219.0 123.5,1240.0 123.8,1208.0 124.2,1230.5 124.5,1221.2 124.8,1222.9 125.2,1225.4 125.5,1222.1 125.8,1221.1 126.2,1220.4 126.5,1220.9 126.9,1222.4 127.2,1221.8 127.5,1221.1 127.9,1221.3 128.2,1206.9 128.5,1229.7 128.9,1219.2 129.2,1223.2 129.6,1222.7 129.9,1221.8 130.2,1220.3 130.6,1222.2 130.9,1219.2 131.2,1222.8 131.6,1228.3 131.9,1226.7 132.3,1219.2 132.6,1231.2 132.9,1229.4 133.3,1215.2 133.6,1220.5 133.9,1212.9 134.3,1219.7 134.6,1219.1 135.0,1249.9 135.3,1221.0 135.6,1221.1 136.0,1222.0 136.3,1222.7 136.6,1222.3 137.0,1221.1 137.3,1222.2 137.6,1220.1 138.0,1204.5 138.3,1220.3 138.7,1222.3 139.0,1220.8 139.3,1227.1 139.7,1225.9 140.0,1220.6 140.3,1227.6 140.7,1227.4 141.0,1220.9 141.4,1222.0 141.7,1224.5 142.0,1227.7 142.4,1221.2 142.7,1220.5 143.0,1220.7 143.4,1216.4 143.7,1220.5 144.1,1216.7 144.4,1221.2 144.7,1208.6 145.1,1219.6 145.4,1228.8 145.7,1219.5 146.1,1227.9 146.4,1226.1 146.8,1222.8 147.1,1221.4 147.4,1218.9 147.8,1219.5 148.1,1213.8 148.4,1215.7 148.8,1221.3 149.1,1221.9 149.5,1223.3 149.8,1228.6 150.1,1221.8 150.5,1221.5 150.8,1222.6 151.1,1220.0 151.5,1221.9 151.8,1211.1 152.2,1226.7 152.5,1221.9 152.8,1222.7 153.2,1215.0 153.5,1228.8 153.8,1219.0 154.2,1220.2 154.5,1213.7 154.9,1215.6 155.2,1218.3 155.5,1213.6 155.9,1220.8 156.2,1221.3 156.5,1222.9 156.9,1231.7 157.2,1221.3 157.6,1219.5 157.9,1208.0 158.2,1220.0 158.6,1221.6 158.9,1219.7 159.2,1222.2 159.6,1213.6 159.9,1220.1 160.3,1219.9 160.6,1220.0 160.9,1219.9 161.3,1219.2 161.6,1213.6 161.9,1216.4 162.3,1210.0 162.6,1219.5 163.0,1221.1 163.3,1219.8 163.6,1227.9 164.0,1222.8 164.3,1219.1 164.6,1219.8 165.0,1240.4 165.3,1221.4 165.7,1221.1 166.0,1217.9 166.3,1222.3 166.7,1221.0 167.0,1216.9 167.3,1209.0 167.7,1217.6 168.0,1227.8 168.4,1221.0 168.7,1220.6 169.0,1221.8 169.4,1219.9 169.7,1218.8 170.0,1228.1 170.4,1221.8 170.7,1219.5 171.1,1215.0 171.4,1229.0 171.7,1219.7 172.1,1219.8 172.4,1222.5 172.7,1223.1 173.1,1222.8 173.4,1219.4 173.8,1216.8 174.1,1222.1 174.4,1241.0 174.8,1219.9 175.1,1218.6 175.4,1201.8 175.8,1219.7 176.1,1221.9 176.5,1220.0 176.8,1222.8 177.1,1222.4 177.5,1219.3 177.8,1220.4 178.1,1220.5 178.5,1221.8 178.8,1206.9 179.1,1221.3 179.5,1222.0 179.8,1215.6 180.2,1221.1 180.5,1219.8 180.8,1223.6 181.2,1222.9 181.5,1221.0 181.8,1233.8 182.2,1221.2 182.5,1221.2 182.9,1219.1 183.2,1220.7 183.5,1220.5 183.9,1224.5 184.2,1225.5 184.5,1220.3 184.9,1219.5 185.2,1208.0 185.6,1219.8 185.9,1222.9 186.2,1222.0 186.6,1218.0 186.9,1212.9 187.2,1222.2 187.6,1222.7 187.9,1223.6 188.3,1220.8 188.6,1221.8 188.9,1222.1 189.3,1221.4 189.6,1224.2 189.9,1213.2 190.3,1227.3 190.6,1228.0 191.0,1220.4 191.3,1222.5 191.6,1214.4 192.0,1212.1 192.3,1217.1 192.6,1219.8 193.0,1219.1 193.3,1219.8 193.7,1214.8 194.0,1219.2 194.3,1227.6 194.7,1221.1 195.0,1226.1 195.3,1222.0 195.7,1220.6 196.0,1221.9 196.4,1223.4 196.7,1222.9 197.0,1217.4 197.4,1219.1 197.7,1214.6 198.0,1220.4 198.4,1226.7 198.7,1221.4 199.1,1218.8 199.4,1223.1 199.7,1219.6 200.1,1218.9 200.4,1239.0 200.7,1219.1 201.1,1215.3 201.4,1208.0 201.8,1221.5 202.1,1220.4 202.4,1223.6 202.8,1222.3 203.1,1220.3 203.4,1221.7 203.8,1224.3 204.1,1221.8 204.5,1217.3 204.8,1229.2 205.1,1220.2 205.5,1223.8 205.8,1214.3 206.1,1217.4 206.5,1222.3 206.8,1222.6 207.2,1228.5 207.5,1213.1 207.8,1221.8 208.2,1224.9 208.5,1228.4 208.8,1219.6 209.2,1221.6 209.5,1222.9 209.9,1219.2 210.2,1219.3 210.5,1216.9 210.9,1218.5 211.2,1217.7 211.5,1213.5 211.9,1221.5 212.2,1224.3 212.6,1217.0 212.9,1221.4 213.2,1217.0 213.6,1219.8 213.9,1209.0 214.2,1230.7 214.6,1220.0 214.9,1218.5 215.3,1224.0 215.6,1218.3 215.9,1221.4 216.3,1219.0 216.6,1214.7 216.9,1220.5 217.3,1220.8 217.6,1221.4 218.0,1221.0 218.3,1218.0 218.6,1217.1 219.0,1220.9 219.3,1215.8 219.6,1228.1 220.0,1221.7 220.3,1228.9 220.6,1215.7 221.0,1220.8 221.3,1215.7 221.7,1219.0 222.0,1219.4 222.3,1214.2 222.7,1231.7 223.0,1220.4 223.3,1221.5 223.7,1207.3 224.0,1219.5 224.4,1219.8 224.7,1218.0 225.0,1221.6 225.4,1218.8 225.7,1225.3 226.0,1221.5 226.4,1215.4 226.7,1222.6 227.1,1222.6 227.4,1224.4 227.7,1221.2 228.1,1215.9 228.4,1220.7 228.7,1222.5 229.1,1219.3 229.4,1213.1 229.8,1222.8 230.1,1219.3 230.4,1217.7 230.8,1212.7 231.1,1220.7 231.4,1223.7 231.8,1214.6 232.1,1220.1 232.5,1225.4 232.8,1228.6 233.1,1220.7 233.5,1228.6 233.8,1223.9 234.1,1225.0 234.5,1220.8 234.8,1220.9 235.2,1213.1 235.5,1213.1 235.8,1223.3 236.2,1215.4 236.5,1220.1 236.8,1220.4 237.2,1218.2 237.5,1219.9 237.9,1213.3 238.2,1220.0 238.5,1217.1 238.9,1220.8 239.2,1228.1 239.5,1218.6 239.9,1226.1 240.2,1215.6 240.6,1228.7 240.9,1220.3 241.2,1217.0 241.6,1213.5 241.9,1220.5 242.2,1226.6 242.6,1223.1 242.9,1220.1 243.3,1229.2 243.6,1216.5 243.9,1221.3 244.3,1220.5 244.6,1221.0 244.9,1212.1 245.3,1234.8 245.6,1222.7 246.0,1221.6 246.3,1226.2 246.6,1216.6 247.0,1219.5 247.3,1229.1 247.6,1219.8 248.0,1236.9 248.3,1221.0 248.7,1221.4 249.0,1224.2 249.3,1220.9 249.7,1226.2 250.0,1217.6 250.3,1214.5 250.7,1220.0 251.0,1226.3 251.4,1221.7 251.7,1215.9 252.0,1226.6 252.4,1219.4 252.7,1220.7 253.0,1208.0 253.4,1214.8 253.7,1219.8 254.1,1221.7 254.4,1223.5 254.7,1227.3 255.1,1223.3 255.4,1221.4 255.7,1220.6 256.1,1222.3 256.4,1220.0 256.8,1219.6 257.1,1229.7 257.4,1219.6 257.8,1212.1 258.1,1228.4 258.4,1220.5 258.8,1219.1 259.1,1219.9 259.5,1219.0 259.8,1222.9 260.1,1224.2 260.5,1220.5 260.8,1220.5 261.1,1225.6 261.5,1221.8 261.8,1219.9 262.1,1220.7 262.5,1223.6 262.8,1224.3 263.2,1222.3 263.5,1222.2 263.8,1217.6 264.2,1218.4 264.5,1219.7 264.8,1222.6 265.2,1216.3 265.5,1220.5 265.9,1222.9 266.2,1221.8 266.5,1216.4 266.9,1221.3 267.2,1222.2 267.5,1219.3 267.9,1253.4 268.2,1221.9 268.6,1231.8 268.9,1219.3 269.2,1220.5 269.6,1209.0 269.9,1215.6 270.2,1219.0 270.6,1227.2 270.9,1224.4 271.3,1219.6 271.6,1204.5 271.9,1220.7 272.3,1225.6 272.6,1220.0 272.9,1220.9 273.3,1221.4 273.6,1221.3 274.0,1216.7 274.3,1219.1 274.6,1213.9 275.0,1222.5 275.3,1229.7 275.6,1219.6 276.0,1219.9 276.3,1214.6 276.7,1213.4 277.0,1205.9 277.3,1221.8 277.7,1222.1 278.0,1220.9 278.3,1222.8 278.7,1222.7 279.0,1219.3 279.4,1220.0 279.7,1219.1 280.0,1219.1"/>
<line x1="33.90" y1="1220.98" x2="280.20" y2="1220.98" class="z"/>
<rect x="33.90" y="1147.50" width="246.30" height="182.50" class="f"/>
<line x1="29.40" y1="1148.30" x2="33.90" y2="1148.30" class="k"/>
<text transform="translate(25.70 1150.30) scale(0.8 1)" class="yl" text-anchor="end">.0004</text>
<line x1="29.40" y1="1184.64" x2="33.90" y2="1184.64" class="k"/>
<text transform="translate(25.70 1186.64) scale(0.8 1)" class="yl" text-anchor="end">.0002</text>
<line x1="29.40" y1="1220.98" x2="33.90" y2="1220.98" class="k"/>
<text transform="translate(25.70 1222.98) scale(0.8 1)" class="yl" text-anchor="end">.0000</text>
<line x1="29.40" y1="1257.32" x2="33.90" y2="1257.32" class="k"/>
<text transform="translate(25.70 1259.32) scale(0.8 1)" class="yl" text-anchor="end">-.0002</text>
<line x1="29.40" y1="1293.66" x2="33.90" y2="1293.66" class="k"/>
<text transform="translate(25.70 1295.66) scale(0.8 1)" class="yl" text-anchor="end">-.0004</text>
<line x1="29.40" y1="1330.00" x2="33.90" y2="1330.00" class="k"/>
<text transform="translate(25.70 1332.00) scale(0.8 1)" class="yl" text-anchor="end">-.0006</text>
<line x1="44.20" y1="1330.00" x2="44.20" y2="1333.80" class="k"/>
<line x1="53.47" y1="1330.00" x2="53.47" y2="1333.80" class="k"/>
<line x1="64.21" y1="1330.00" x2="64.21" y2="1336.50" class="k"/>
<line x1="74.46" y1="1330.00" x2="74.46" y2="1333.80" class="k"/>
<line x1="84.23" y1="1330.00" x2="84.23" y2="1333.80" class="k"/>
<line x1="94.96" y1="1330.00" x2="94.96" y2="1336.50" class="k"/>
<line x1="105.70" y1="1330.00" x2="105.70" y2="1333.80" class="k"/>
<line x1="115.95" y1="1330.00" x2="115.95" y2="1333.80" class="k"/>
<line x1="126.20" y1="1330.00" x2="126.20" y2="1336.50" class="k"/>
<line x1="136.94" y1="1330.00" x2="136.94" y2="1333.80" class="k"/>
<line x1="146.71" y1="1330.00" x2="146.71" y2="1333.80" class="k"/>
<line x1="157.44" y1="1330.00" x2="157.44" y2="1336.50" class="k"/>
<line x1="166.72" y1="1330.00" x2="166.72" y2="1333.80" class="k"/>
<line x1="175.99" y1="1330.00" x2="175.99" y2="1333.80" class="k"/>
<line x1="187.22" y1="1330.00" x2="187.22" y2="1336.50" class="k"/>
<line x1="197.47" y1="1330.00" x2="197.47" y2="1333.80" class="k"/>
<line x1="207.23" y1="1330.00" x2="207.23" y2="1333.80" class="k"/>
<line x1="217.97" y1="1330.00" x2="217.97" y2="1336.50" class="k"/>
<line x1="228.22" y1="1330.00" x2="228.22" y2="1333.80" class="k"/>
<line x1="238.96" y1="1330.00" x2="238.96" y2="1333.80" class="k"/>
<line x1="249.21" y1="1330.00" x2="249.21" y2="1336.50" class="k"/>
<line x1="259.46" y1="1330.00" x2="259.46" y2="1333.80" class="k"/>
<line x1="269.71" y1="1330.00" x2="269.71" y2="1333.80" class="k"/>
<line x1="280.20" y1="1330.00" x2="280.20" y2="1336.50" class="k"/>
<text transform="translate(49.23 1348.20) scale(0.8 1)" class="r" text-anchor="middle">I</text>
<text transform="translate(79.89 1348.20) scale(0.8 1)" class="r" text-anchor="middle">II</text>
<text transform="translate(110.72 1348.20) scale(0.8 1)" class="r" text-anchor="middle">III</text>
<text transform="translate(141.72 1348.20) scale(0.8 1)" class="r" text-anchor="middle">IV</text>
<text transform="translate(96.56 1367.00) scale(0.765 1)" class="yr" text-anchor="middle">2020</text>
<text transform="translate(172.38 1348.20) scale(0.8 1)" class="r" text-anchor="middle">I</text>
<text transform="translate(202.87 1348.20) scale(0.8 1)" class="r" text-anchor="middle">II</text>
<text transform="translate(233.70 1348.20) scale(0.8 1)" class="r" text-anchor="middle">III</text>
<text transform="translate(264.70 1348.20) scale(0.8 1)" class="r" text-anchor="middle">IV</text>
<text transform="translate(219.71 1367.00) scale(0.765 1)" class="yr" text-anchor="middle">2021</text>
<text transform="translate(458.95 1126.00) scale(0.8 1)" class="t" text-anchor="middle">Materials</text>
<polyline class="d" points="340.3,1243.3 340.6,1238.5 340.9,1250.3 341.3,1235.3 341.6,1240.4 342.0,1237.5 342.3,1248.8 342.6,1244.1 343.0,1240.8 343.3,1233.4 343.6,1230.1 344.0,1238.9 344.3,1241.6 344.7,1236.9 345.0,1241.1 345.3,1238.9 345.7,1238.3 346.0,1236.3 346.3,1237.3 346.7,1240.0 347.0,1241.1 347.4,1254.5 347.7,1241.1 348.0,1239.2 348.4,1233.8 348.7,1228.8 349.0,1238.6 349.4,1238.1 349.7,1238.1 350.1,1230.4 350.4,1243.0 350.7,1238.6 351.1,1242.0 351.4,1225.9 351.7,1240.2 352.1,1239.6 352.4,1249.3 352.8,1241.2 353.1,1237.2 353.4,1246.1 353.8,1237.5 354.1,1237.4 354.4,1234.8 354.8,1239.4 355.1,1230.2 355.5,1238.0 355.8,1240.4 356.1,1238.1 356.5,1241.1 356.8,1237.0 357.1,1246.5 357.5,1268.9 357.8,1256.4 358.2,1237.8 358.5,1237.9 358.8,1245.7 359.2,1238.0 359.5,1262.7 359.8,1239.8 360.2,1215.2 360.5,1241.3 360.8,1240.3 361.2,1240.2 361.5,1237.6 361.9,1311.3 362.2,1214.2 362.5,1229.6 362.9,1239.1 363.2,1299.9 363.5,1237.2 363.9,1238.6 364.2,1192.1 364.6,1265.0 364.9,1309.2 365.2,1238.3 365.6,1238.6 365.9,1193.5 366.2,1289.6 366.6,1237.8 366.9,1237.1 367.3,1240.8 367.6,1239.4 367.9,1165.2 368.3,1267.9 368.6,1237.9 368.9,1210.0 369.3,1249.3 369.6,1241.0 370.0,1239.1 370.3,1238.8 370.6,1252.6 371.0,1271.0 371.3,1239.5 371.6,1254.4 372.0,1191.4 372.3,1237.0 372.7,1239.7 373.0,1208.0 373.3,1226.2 373.7,1239.6 374.0,1237.1 374.3,1244.4 374.7,1239.8 375.0,1273.1 375.4,1240.6 375.7,1237.5 376.0,1214.8 376.4,1241.3 376.7,1239.8 377.0,1237.7 377.4,1239.4 377.7,1241.2 378.1,1240.5 378.4,1219.3 378.7,1238.8 379.1,1242.7 379.4,1240.7 379.7,1237.2 380.1,1238.4 380.4,1260.7 380.8,1240.4 381.1,1237.5 381.4,1239.9 381.8,1240.3 382.1,1238.3 382.4,1238.8 382.8,1240.5 383.1,1219.3 383.5,1238.9 383.8,1239.8 384.1,1240.0 384.5,1240.0 384.8,1239.4 385.1,1255.5 385.5,1238.9 385.8,1206.5 386.2,1240.5 386.5,1237.8 386.8,1241.1 387.2,1239.7 387.5,1243.8 387.8,1240.5 388.2,1237.4 388.5,1223.5 388.9,1230.3 389.2,1245.9 389.5,1245.2 389.9,1241.2 390.2,1246.8 390.5,1237.2 390.9,1240.7 391.2,1240.0 391.6,1222.4 391.9,1241.4 392.2,1239.1 392.6,1239.0 392.9,1240.5 393.2,1239.5 393.6,1238.4 393.9,1239.1 394.3,1294.8 394.6,1239.8 394.9,1274.3 395.3,1225.5 395.6,1237.7 395.9,1239.4 396.3,1241.3 396.6,1239.2 397.0,1241.2 397.3,1241.1 397.6,1248.5 398.0,1241.3 398.3,1239.5 398.6,1237.9 399.0,1240.3 399.3,1260.3 399.7,1237.2 400.0,1224.5 400.3,1238.2 400.7,1238.6 401.0,1230.0 401.3,1236.2 401.7,1245.0 402.0,1246.9 402.3,1240.8 402.7,1229.4 403.0,1240.6 403.4,1247.8 403.7,1238.7 404.0,1248.3 404.4,1243.8 404.7,1238.8 405.0,1221.4 405.4,1229.5 405.7,1240.9 406.1,1239.8 406.4,1245.4 406.7,1239.9 407.1,1237.0 407.4,1239.0 407.7,1240.7 408.1,1238.7 408.4,1240.3 408.8,1234.2 409.1,1228.6 409.4,1242.5 409.8,1240.5 410.1,1254.5 410.4,1239.1 410.8,1238.2 411.1,1238.4 411.5,1237.8 411.8,1239.3 412.1,1239.5 412.5,1241.3 412.8,1226.6 413.1,1238.3 413.5,1237.8 413.8,1239.8 414.2,1236.7 414.5,1239.0 414.8,1238.4 415.2,1235.3 415.5,1239.0 415.8,1234.5 416.2,1233.2 416.5,1230.9 416.9,1229.8 417.2,1241.1 417.5,1229.1 417.9,1246.8 418.2,1240.9 418.5,1244.2 418.9,1238.2 419.2,1229.2 419.6,1225.5 419.9,1246.4 420.2,1237.3 420.6,1237.6 420.9,1246.1 421.2,1240.4 421.6,1240.0 421.9,1240.6 422.3,1240.0 422.6,1222.4 422.9,1237.1 423.3,1238.5 423.6,1258.6 423.9,1237.7 424.3,1240.8 424.6,1223.5 425.0,1239.2 425.3,1228.9 425.6,1238.5 426.0,1230.7 426.3,1241.2 426.6,1238.7 427.0,1238.7 427.3,1239.8 427.7,1238.5 428.0,1238.3 428.3,1240.3 428.7,1239.1 429.0,1226.6 429.3,1263.8 429.7,1233.7 430.0,1237.8 430.4,1239.8 430.7,1240.5 431.0,1237.5 431.4,1228.9 431.7,1239.6 432.0,1243.8 432.4,1236.4 432.7,1239.3 433.1,1238.5 433.4,1244.4 433.7,1237.7 434.1,1240.2 434.4,1239.9 434.7,1221.8 435.1,1247.2 435.4,1239.5 435.8,1237.5 436.1,1238.4 436.4,1240.1 436.8,1230.7 437.1,1239.5 437.4,1243.4 437.8,1237.6 438.1,1228.9 438.5,1230.8 438.8,1247.1 439.1,1247.4 439.5,1240.3 439.8,1241.0 440.1,1225.5 440.5,1237.4 440.8,1235.2 441.2,1241.3 441.5,1238.1 441.8,1268.9 442.2,1238.9 442.5,1238.7 442.8,1217.3 443.2,1239.3 443.5,1240.0 443.8,1238.5 444.2,1231.6 444.5,1210.0 444.9,1239.9 445.2,1229.5 445.5,1238.4 445.9,1238.3 446.2,1238.8 446.5,1241.5 446.9,1252.4 447.2,1243.6 447.6,1225.1 447.9,1230.1 448.2,1239.4 448.6,1237.8 448.9,1248.7 449.2,1244.0 449.6,1246.8 449.9,1237.7 450.3,1237.2 450.6,1241.1 450.9,1239.8 451.3,1221.0 451.6,1244.5 451.9,1237.5 452.3,1238.1 452.6,1242.1 453.0,1248.5 453.3,1236.5 453.6,1239.6 454.0,1238.8 454.3,1222.4 454.6,1239.0 455.0,1238.9 455.3,1232.6 455.7,1244.1 456.0,1237.2 456.3,1245.1 456.7,1248.3 457.0,1242.4 457.3,1234.9 457.7,1225.5 458.0,1242.2 458.4,1231.7 458.7,1236.1 459.0,1238.8 459.4,1246.9 459.7,1232.6 460.0,1238.5 460.4,1245.0 460.7,1249.3 461.1,1237.9 461.4,1237.9 461.7,1239.7 462.1,1244.4 462.4,1248.8 462.7,1238.5 463.1,1238.6 463.4,1230.1 463.8,1247.6 464.1,1244.1 464.4,1239.9 464.8,1210.7 465.1,1240.7 465.4,1239.6 465.8,1240.9 466.1,1240.6 466.5,1237.8 466.8,1239.5 467.1,1231.9 467.5,1246.3 467.8,1236.0 468.1,1229.7 468.5,1244.9 468.8,1234.9 469.2,1238.7 469.5,1239.3 469.8,1238.6 470.2,1237.7 470.5,1229.2 470.8,1259.6 471.2,1240.9 471.5,1238.3 471.9,1250.0 472.2,1249.8 472.5,1223.1 472.9,1237.1 473.2,1240.9 473.5,1245.8 473.9,1239.9 474.2,1248.6 474.6,1234.1 474.9,1247.4 475.2,1233.7 475.6,1246.0 475.9,1239.5 476.2,1225.5 476.6,1243.3 476.9,1238.8 477.3,1247.6 477.6,1232.0 477.9,1240.9 478.3,1238.5 478.6,1236.0 478.9,1231.3 479.3,1238.4 479.6,1238.4 480.0,1239.2 480.3,1241.2 480.6,1239.2 481.0,1240.7 481.3,1235.9 481.6,1256.5 482.0,1239.2 482.3,1240.7 482.7,1220.4 483.0,1240.2 483.3,1239.3 483.7,1227.9 484.0,1240.8 484.3,1240.6 484.7,1238.5 485.0,1240.6 485.3,1239.6 485.7,1245.6 486.0,1235.3 486.4,1238.2 486.7,1222.4 487.0,1239.7 487.4,1239.4 487.7,1237.0 488.0,1240.6 488.4,1241.0 488.7,1238.6 489.1,1240.3 489.4,1240.0 489.7,1259.6 490.1,1238.8 490.4,1238.5 490.7,1241.0 491.1,1239.3 491.4,1238.7 491.8,1219.7 492.1,1240.8 492.4,1239.7 492.8,1244.2 493.1,1238.2 493.4,1240.0 493.8,1240.4 494.1,1238.6 494.5,1241.2 494.8,1237.7 495.1,1237.1 495.5,1236.4 495.8,1231.2 496.1,1238.9 496.5,1239.4 496.8,1233.1 497.2,1234.0 497.5,1239.8 497.8,1238.5 498.2,1241.5 498.5,1242.2 498.8,1240.8 499.2,1245.3 499.5,1239.7 499.9,1239.2 500.2,1225.5 500.5,1239.4 500.9,1241.3 501.2,1248.3 501.5,1249.4 501.9,1244.4 502.2,1248.3 502.6,1240.5 502.9,1235.6 503.2,1240.1 503.6,1239.9 503.9,1247.9 504.2,1242.2 504.6,1239.2 504.9,1238.2 505.3,1226.6 505.6,1239.7 505.9,1238.6 506.3,1249.7 506.6,1240.8 506.9,1257.6 507.3,1238.1 507.6,1239.9 508.0,1239.1 508.3,1240.2 508.6,1237.6 509.0,1238.1 509.3,1249.2 509.6,1237.3 510.0,1238.0 510.3,1241.0 510.7,1229.7 511.0,1244.9 511.3,1239.8 511.7,1237.8 512.0,1248.0 512.3,1240.2 512.7,1239.5 513.0,1238.7 513.4,1240.2 513.7,1237.3 514.0,1234.7 514.4,1237.1 514.7,1234.4 515.0,1247.9 515.4,1238.8 515.7,1238.0 516.1,1241.2 516.4,1229.9 516.7,1246.7 517.1,1238.5 517.4,1239.1 517.7,1237.5 518.1,1239.0 518.4,1238.0 518.8,1239.5 519.1,1241.3 519.4,1256.5 519.8,1237.6 520.1,1225.1 520.4,1229.8 520.8,1238.6 521.1,1238.3 521.5,1247.7 521.8,1240.3 522.1,1236.7 522.5,1237.1 522.8,1248.7 523.1,1228.9 523.5,1237.6 523.8,1249.1 524.2,1231.5 524.5,1239.7 524.8,1235.3 525.2,1237.9 525.5,1246.8 525.8,1239.5 526.2,1238.3 526.5,1223.1 526.8,1240.9 527.2,1228.9 527.5,1244.0 527.9,1247.0 528.2,1238.3 528.5,1238.6 528.9,1233.7 529.2,1252.4 529.5,1237.9 529.9,1238.0 530.2,1245.5 530.6,1237.8 530.9,1228.9 531.2,1228.6 531.6,1245.2 531.9,1246.4 532.2,1238.1 532.6,1234.7 532.9,1240.5 533.3,1237.4 533.6,1245.2 533.9,1238.7 534.3,1237.7 534.6,1237.2 534.9,1243.8 535.3,1249.3 535.6,1238.0 536.0,1241.2 536.3,1228.6 536.6,1238.5 537.0,1238.3 537.3,1238.1 537.6,1232.6 538.0,1239.5 538.3,1238.2 538.7,1249.2 539.0,1236.2 539.3,1229.7 539.7,1237.9 540.0,1232.0 540.3,1236.3 540.7,1233.4 541.0,1241.8 541.4,1229.3 541.7,1237.0 542.0,1239.9 542.4,1239.1 542.7,1240.6 543.0,1237.8 543.4,1229.9 543.7,1225.5 544.1,1230.5 544.4,1237.2 544.7,1229.9 545.1,1235.0 545.4,1240.5 545.7,1238.1 546.1,1240.6 546.4,1239.5 546.8,1238.3 547.1,1234.9 547.4,1238.6 547.8,1237.9 548.1,1238.2 548.4,1234.5 548.8,1227.6 549.1,1240.9 549.5,1246.9 549.8,1240.1 550.1,1241.0 550.5,1255.5 550.8,1241.1 551.1,1239.4 551.5,1239.6 551.8,1230.9 552.2,1240.3 552.5,1238.7 552.8,1237.9 553.2,1243.0 553.5,1245.4 553.8,1237.2 554.2,1244.2 554.5,1238.4 554.9,1234.1 555.2,1245.4 555.5,1249.6 555.9,1228.6 556.2,1241.0 556.5,1233.9 556.9,1229.9 557.2,1240.6 557.6,1238.6 557.9,1239.1 558.2,1237.9 558.6,1237.1 558.9,1223.9 559.2,1240.1 559.6,1240.2 559.9,1238.7 560.3,1239.8 560.6,1237.1 560.9,1235.0 561.3,1241.2 561.6,1249.3 561.9,1241.3 562.3,1231.0 562.6,1238.4 563.0,1237.4 563.3,1239.1 563.6,1244.8 564.0,1252.4 564.3,1239.3 564.6,1238.3 565.0,1237.2 565.3,1237.1 565.7,1244.1 566.0,1244.4 566.3,1229.7 566.7,1232.3 567.0,1234.8 567.3,1237.0 567.7,1238.9 568.0,1243.4 568.3,1229.2 568.7,1237.6 569.0,1239.3 569.4,1242.2 569.7,1234.7 570.0,1240.2 570.4,1249.1 570.7,1237.6 571.0,1230.7 571.4,1229.5 571.7,1239.0 572.1,1237.2 572.4,1239.7 572.7,1237.9 573.1,1237.4 573.4,1241.1 573.7,1239.5 574.1,1265.8 574.4,1239.6 574.8,1239.4 575.1,1237.6 575.4,1239.4 575.8,1240.6 576.1,1241.2 576.4,1244.6 576.8,1226.6 577.1,1241.7 577.5,1236.2 577.8,1247.0 578.1,1244.1 578.5,1237.1 578.8,1229.4 579.1,1246.3 579.5,1229.4 579.8,1248.0 580.2,1231.6 580.5,1232.6 580.8,1239.9 581.2,1236.4 581.5,1237.8 581.8,1251.4 582.2,1244.4 582.5,1233.6 582.9,1227.6 583.2,1238.4 583.5,1231.7 583.9,1234.2 584.2,1244.4 584.5,1238.6 584.9,1249.4 585.2,1249.6 585.6,1244.8 585.9,1237.3 586.2,1239.5"/>
<line x1="340.10" y1="1239.15" x2="586.40" y2="1239.15" class="z"/>
<rect x="340.10" y="1147.50" width="246.30" height="182.50" class="f"/>
<line x1="335.60" y1="1148.30" x2="340.10" y2="1148.30" class="k"/>
<text transform="translate(331.90 1150.30) scale(0.8 1)" class="yl" text-anchor="end">.0006</text>
<line x1="335.60" y1="1178.58" x2="340.10" y2="1178.58" class="k"/>
<text transform="translate(331.90 1180.58) scale(0.8 1)" class="yl" text-anchor="end">.0004</text>
<line x1="335.60" y1="1208.87" x2="340.10" y2="1208.87" class="k"/>
<text transform="translate(331.90 1210.87) scale(0.8 1)" class="yl" text-anchor="end">.0002</text>
<line x1="335.60" y1="1239.15" x2="340.10" y2="1239.15" class="k"/>
<text transform="translate(331.90 1241.15) scale(0.8 1)" class="yl" text-anchor="end">.0000</text>
<line x1="335.60" y1="1269.43" x2="340.10" y2="1269.43" class="k"/>
<text transform="translate(331.90 1271.43) scale(0.8 1)" class="yl" text-anchor="end">-.0002</text>
<line x1="335.60" y1="1299.72" x2="340.10" y2="1299.72" class="k"/>
<text transform="translate(331.90 1301.72) scale(0.8 1)" class="yl" text-anchor="end">-.0004</text>
<line x1="335.60" y1="1330.00" x2="340.10" y2="1330.00" class="k"/>
<text transform="translate(331.90 1332.00) scale(0.8 1)" class="yl" text-anchor="end">-.0006</text>
<line x1="350.40" y1="1330.00" x2="350.40" y2="1333.80" class="k"/>
<line x1="359.67" y1="1330.00" x2="359.67" y2="1333.80" class="k"/>
<line x1="370.41" y1="1330.00" x2="370.41" y2="1336.50" class="k"/>
<line x1="380.66" y1="1330.00" x2="380.66" y2="1333.80" class="k"/>
<line x1="390.43" y1="1330.00" x2="390.43" y2="1333.80" class="k"/>
<line x1="401.16" y1="1330.00" x2="401.16" y2="1336.50" class="k"/>
<line x1="411.90" y1="1330.00" x2="411.90" y2="1333.80" class="k"/>
<line x1="422.15" y1="1330.00" x2="422.15" y2="1333.80" class="k"/>
<line x1="432.40" y1="1330.00" x2="432.40" y2="1336.50" class="k"/>
<line x1="443.14" y1="1330.00" x2="443.14" y2="1333.80" class="k"/>
<line x1="452.91" y1="1330.00" x2="452.91" y2="1333.80" class="k"/>
<line x1="463.64" y1="1330.00" x2="463.64" y2="1336.50" class="k"/>
<line x1="472.92" y1="1330.00" x2="472.92" y2="1333.80" class="k"/>
<line x1="482.19" y1="1330.00" x2="482.19" y2="1333.80" class="k"/>
<line x1="493.42" y1="1330.00" x2="493.42" y2="1336.50" class="k"/>
<line x1="503.67" y1="1330.00" x2="503.67" y2="1333.80" class="k"/>
<line x1="513.43" y1="1330.00" x2="513.43" y2="1333.80" class="k"/>
<line x1="524.17" y1="1330.00" x2="524.17" y2="1336.50" class="k"/>
<line x1="534.42" y1="1330.00" x2="534.42" y2="1333.80" class="k"/>
<line x1="545.16" y1="1330.00" x2="545.16" y2="1333.80" class="k"/>
<line x1="555.41" y1="1330.00" x2="555.41" y2="1336.50" class="k"/>
<line x1="565.66" y1="1330.00" x2="565.66" y2="1333.80" class="k"/>
<line x1="575.91" y1="1330.00" x2="575.91" y2="1333.80" class="k"/>
<line x1="586.40" y1="1330.00" x2="586.40" y2="1336.50" class="k"/>
<text transform="translate(355.43 1348.20) scale(0.8 1)" class="r" text-anchor="middle">I</text>
<text transform="translate(386.09 1348.20) scale(0.8 1)" class="r" text-anchor="middle">II</text>
<text transform="translate(416.92 1348.20) scale(0.8 1)" class="r" text-anchor="middle">III</text>
<text transform="translate(447.92 1348.20) scale(0.8 1)" class="r" text-anchor="middle">IV</text>
<text transform="translate(402.76 1367.00) scale(0.765 1)" class="yr" text-anchor="middle">2020</text>
<text transform="translate(478.58 1348.20) scale(0.8 1)" class="r" text-anchor="middle">I</text>
<text transform="translate(509.07 1348.20) scale(0.8 1)" class="r" text-anchor="middle">II</text>
<text transform="translate(539.90 1348.20) scale(0.8 1)" class="r" text-anchor="middle">III</text>
<text transform="translate(570.90 1348.20) scale(0.8 1)" class="r" text-anchor="middle">IV</text>
<text transform="translate(525.91 1367.00) scale(0.765 1)" class="yr" text-anchor="middle">2021</text>
<text transform="translate(765.35 1126.00) scale(0.8 1)" class="t" text-anchor="middle" textLength="31.5" lengthAdjust="spacing">O&amp;G</text>
<polyline class="d" points="646.7,1219.3 647.0,1227.8 647.3,1220.5 647.7,1218.8 648.0,1218.3 648.4,1228.6 648.7,1221.0 649.0,1219.3 649.4,1215.1 649.7,1214.6 650.0,1215.8 650.4,1218.8 650.7,1223.1 651.1,1223.2 651.4,1229.1 651.7,1218.9 652.1,1214.6 652.4,1227.8 652.7,1214.9 653.1,1228.4 653.4,1223.1 653.8,1230.1 654.1,1229.1 654.4,1218.5 654.8,1220.6 655.1,1214.7 655.4,1232.8 655.8,1214.7 656.1,1219.6 656.5,1220.0 656.8,1222.4 657.1,1224.5 657.5,1206.5 657.8,1212.3 658.1,1221.4 658.5,1222.4 658.8,1219.1 659.2,1219.0 659.5,1220.5 659.8,1215.4 660.2,1224.5 660.5,1216.8 660.8,1221.9 661.2,1219.1 661.5,1215.2 661.9,1228.8 662.2,1220.6 662.5,1222.7 662.9,1220.6 663.2,1232.4 663.5,1242.1 663.9,1213.6 664.2,1218.9 664.6,1213.4 664.9,1222.0 665.2,1219.6 665.6,1243.1 665.9,1221.4 666.2,1210.0 666.6,1223.2 666.9,1220.3 667.2,1219.8 667.6,1254.5 667.9,1222.0 668.3,1202.8 668.6,1312.3 668.9,1209.1 669.3,1222.9 669.6,1187.3 669.9,1271.0 670.3,1221.5 670.6,1220.1 671.0,1213.4 671.3,1280.3 671.6,1219.9 672.0,1194.5 672.3,1222.3 672.6,1221.4 673.0,1247.2 673.3,1219.7 673.7,1221.0 674.0,1163.5 674.3,1226.5 674.7,1221.6 675.0,1242.1 675.3,1219.9 675.7,1198.7 676.0,1230.2 676.4,1220.5 676.7,1219.9 677.0,1221.0 677.4,1188.3 677.7,1226.3 678.0,1220.4 678.4,1212.5 678.7,1219.7 679.1,1220.2 679.4,1195.6 679.7,1225.6 680.1,1227.2 680.4,1222.6 680.7,1222.3 681.1,1237.9 681.4,1223.0 681.8,1223.0 682.1,1183.8 682.4,1222.2 682.8,1222.0 683.1,1219.9 683.4,1218.8 683.8,1219.9 684.1,1208.0 684.5,1219.9 684.8,1222.9 685.1,1219.9 685.5,1220.8 685.8,1192.5 686.1,1221.2 686.5,1221.8 686.8,1245.2 687.2,1222.6 687.5,1214.4 687.8,1221.6 688.2,1232.9 688.5,1221.8 688.8,1210.8 689.2,1221.0 689.5,1203.8 689.9,1226.3 690.2,1222.5 690.5,1222.9 690.9,1221.6 691.2,1239.0 691.5,1232.1 691.9,1219.7 692.2,1191.4 692.6,1219.8 692.9,1218.8 693.2,1220.4 693.6,1220.8 693.9,1219.9 694.2,1221.5 694.6,1206.9 694.9,1220.1 695.3,1221.2 695.6,1231.7 695.9,1221.5 696.3,1220.8 696.6,1219.5 696.9,1222.2 697.3,1219.4 697.6,1219.5 698.0,1226.4 698.3,1222.2 698.6,1191.4 699.0,1220.7 699.3,1222.6 699.6,1221.1 700.0,1219.2 700.3,1221.7 700.7,1259.6 701.0,1219.8 701.3,1210.0 701.7,1223.1 702.0,1223.2 702.3,1221.9 702.7,1223.0 703.0,1221.0 703.4,1219.6 703.7,1219.9 704.0,1219.2 704.4,1221.7 704.7,1219.7 705.0,1242.1 705.4,1221.1 705.7,1221.0 706.1,1212.7 706.4,1219.4 706.7,1220.6 707.1,1216.8 707.4,1223.6 707.7,1219.7 708.1,1229.8 708.4,1220.9 708.7,1219.1 709.1,1231.2 709.4,1219.2 709.8,1239.0 710.1,1231.4 710.4,1221.4 710.8,1221.3 711.1,1206.9 711.4,1219.6 711.8,1215.7 712.1,1220.6 712.5,1222.8 712.8,1223.0 713.1,1197.6 713.5,1222.5 713.8,1221.6 714.1,1222.9 714.5,1222.0 714.8,1221.8 715.2,1222.9 715.5,1221.4 715.8,1218.9 716.2,1219.3 716.5,1217.7 716.8,1220.0 717.2,1213.1 717.5,1234.8 717.9,1221.8 718.2,1228.1 718.5,1227.6 718.9,1230.1 719.2,1222.3 719.5,1222.8 719.9,1222.4 720.2,1229.7 720.6,1208.6 720.9,1211.8 721.2,1223.1 721.6,1222.7 721.9,1221.1 722.2,1218.0 722.6,1223.4 722.9,1225.1 723.3,1223.7 723.6,1216.0 723.9,1220.1 724.3,1220.0 724.6,1222.5 724.9,1220.6 725.3,1228.5 725.6,1210.0 726.0,1230.3 726.3,1219.2 726.6,1222.3 727.0,1211.5 727.3,1225.8 727.6,1222.2 728.0,1215.0 728.3,1220.1 728.7,1219.1 729.0,1215.1 729.3,1227.5 729.7,1220.2 730.0,1220.4 730.3,1219.7 730.7,1235.9 731.0,1223.1 731.4,1230.3 731.7,1219.9 732.0,1211.3 732.4,1220.3 732.7,1205.9 733.0,1220.0 733.4,1222.2 733.7,1222.4 734.1,1220.9 734.4,1229.7 734.7,1220.0 735.1,1222.3 735.4,1239.0 735.7,1221.3 736.1,1222.2 736.4,1220.0 736.8,1219.3 737.1,1211.1 737.4,1222.4 737.8,1221.1 738.1,1213.7 738.4,1219.9 738.8,1217.6 739.1,1213.5 739.5,1216.1 739.8,1224.7 740.1,1216.8 740.5,1228.6 740.8,1207.3 741.1,1230.7 741.5,1218.8 741.8,1219.8 742.2,1221.2 742.5,1214.6 742.8,1219.2 743.2,1219.2 743.5,1217.0 743.8,1222.5 744.2,1219.1 744.5,1223.8 744.9,1212.4 745.2,1222.3 745.5,1220.3 745.9,1212.9 746.2,1205.9 746.5,1211.2 746.9,1219.7 747.2,1220.0 747.6,1241.7 747.9,1219.2 748.2,1222.3 748.6,1221.9 748.9,1221.1 749.2,1208.6 749.6,1218.2 749.9,1220.9 750.2,1219.1 750.6,1222.6 750.9,1221.6 751.3,1226.1 751.6,1222.5 751.9,1173.5 752.3,1218.9 752.6,1222.5 752.9,1234.8 753.3,1220.5 753.6,1220.0 754.0,1221.2 754.3,1222.2 754.6,1196.6 755.0,1222.2 755.3,1219.8 755.6,1222.8 756.0,1223.1 756.3,1219.8 756.7,1193.5 757.0,1215.0 757.3,1220.7 757.7,1218.7 758.0,1209.8 758.3,1220.9 758.7,1241.0 759.0,1220.0 759.4,1219.9 759.7,1220.6 760.0,1228.3 760.4,1219.3 760.7,1200.3 761.0,1209.7 761.4,1219.4 761.7,1221.9 762.1,1229.9 762.4,1219.9 762.7,1220.6 763.1,1222.3 763.4,1220.8 763.7,1213.1 764.1,1219.5 764.4,1219.5 764.8,1219.0 765.1,1230.1 765.4,1223.0 765.8,1226.6 766.1,1219.2 766.4,1223.0 766.8,1223.0 767.1,1226.0 767.5,1230.1 767.8,1224.9 768.1,1219.1 768.5,1212.1 768.8,1221.6 769.1,1219.7 769.5,1220.6 769.8,1222.8 770.2,1203.2 770.5,1222.6 770.8,1222.6 771.2,1219.0 771.5,1221.4 771.8,1224.0 772.2,1222.3 772.5,1218.9 772.9,1223.0 773.2,1205.9 773.5,1222.7 773.9,1219.1 774.2,1237.5 774.5,1213.3 774.9,1219.3 775.2,1220.8 775.6,1221.4 775.9,1212.2 776.2,1227.0 776.6,1219.2 776.9,1220.4 777.2,1222.2 777.6,1230.1 777.9,1227.5 778.3,1220.5 778.6,1221.1 778.9,1212.4 779.3,1205.3 779.6,1219.0 779.9,1222.2 780.3,1229.7 780.6,1221.8 781.0,1229.6 781.3,1218.7 781.6,1220.3 782.0,1218.9 782.3,1205.3 782.6,1229.7 783.0,1222.9 783.3,1217.2 783.7,1212.6 784.0,1219.2 784.3,1220.1 784.7,1222.6 785.0,1220.9 785.3,1222.2 785.7,1219.9 786.0,1225.1 786.4,1220.2 786.7,1206.9 787.0,1221.0 787.4,1218.5 787.7,1223.0 788.0,1213.6 788.4,1220.2 788.7,1219.6 789.1,1218.8 789.4,1218.1 789.7,1208.0 790.1,1220.5 790.4,1220.0 790.7,1220.3 791.1,1221.1 791.4,1222.0 791.7,1213.5 792.1,1223.1 792.4,1213.6 792.8,1220.2 793.1,1219.7 793.4,1220.4 793.8,1222.2 794.1,1219.7 794.4,1241.0 794.8,1221.0 795.1,1221.9 795.5,1221.8 795.8,1221.9 796.1,1221.0 796.5,1222.0 796.8,1210.0 797.1,1214.8 797.5,1227.9 797.8,1215.6 798.2,1218.4 798.5,1219.4 798.8,1221.3 799.2,1220.5 799.5,1222.7 799.8,1230.7 800.2,1222.6 800.5,1230.2 800.9,1218.1 801.2,1220.9 801.5,1221.3 801.9,1220.2 802.2,1219.3 802.5,1221.6 802.9,1219.9 803.2,1210.0 803.6,1221.0 803.9,1224.9 804.2,1221.5 804.6,1217.9 804.9,1217.4 805.2,1222.9 805.6,1220.9 805.9,1221.0 806.3,1220.4 806.6,1219.3 806.9,1211.9 807.3,1224.9 807.6,1212.9 807.9,1215.7 808.3,1220.7 808.6,1220.1 809.0,1230.0 809.3,1209.0 809.6,1230.7 810.0,1219.7 810.3,1217.4 810.6,1218.4 811.0,1226.0 811.3,1223.6 811.7,1218.1 812.0,1213.2 812.3,1228.5 812.7,1216.2 813.0,1220.2 813.3,1220.0 813.7,1207.3 814.0,1225.7 814.4,1228.4 814.7,1217.2 815.0,1218.6 815.4,1221.9 815.7,1222.9 816.0,1220.2 816.4,1222.3 816.7,1216.2 817.1,1221.8 817.4,1228.6 817.7,1221.9 818.1,1223.2 818.4,1217.0 818.7,1219.2 819.1,1206.3 819.4,1223.1 819.8,1220.9 820.1,1229.1 820.4,1219.2 820.8,1222.7 821.1,1219.7 821.4,1226.5 821.8,1216.9 822.1,1218.6 822.5,1228.9 822.8,1220.3 823.1,1218.5 823.5,1220.6 823.8,1215.3 824.1,1212.2 824.5,1227.6 824.8,1222.0 825.2,1219.9 825.5,1233.8 825.8,1223.0 826.2,1205.3 826.5,1212.8 826.8,1219.1 827.2,1220.7 827.5,1212.4 827.9,1219.8 828.2,1224.3 828.5,1214.0 828.9,1220.9 829.2,1223.0 829.5,1219.5 829.9,1221.2 830.2,1219.2 830.6,1219.9 830.9,1219.9 831.2,1218.3 831.6,1218.2 831.9,1221.1 832.2,1225.3 832.6,1222.9 832.9,1213.1 833.2,1219.6 833.6,1229.5 833.9,1221.4 834.3,1221.6 834.6,1222.0 834.9,1233.8 835.3,1222.6 835.6,1220.7 835.9,1221.5 836.3,1229.4 836.6,1206.9 837.0,1218.9 837.3,1221.7 837.6,1228.6 838.0,1221.8 838.3,1227.2 838.6,1228.0 839.0,1216.5 839.3,1218.6 839.7,1214.3 840.0,1213.3 840.3,1214.7 840.7,1222.2 841.0,1230.3 841.3,1211.1 841.7,1228.4 842.0,1223.9 842.4,1220.4 842.7,1226.8 843.0,1222.8 843.4,1221.8 843.7,1220.7 844.0,1220.9 844.4,1221.2 844.7,1222.6 845.1,1223.2 845.4,1228.4 845.7,1221.7 846.1,1230.7 846.4,1224.3 846.7,1220.5 847.1,1221.8 847.4,1206.5 847.8,1221.6 848.1,1220.7 848.4,1213.2 848.8,1222.1 849.1,1215.4 849.4,1227.8 849.8,1220.0 850.1,1218.5 850.5,1220.2 850.8,1219.3 851.1,1220.9 851.5,1221.6 851.8,1213.6 852.1,1219.4 852.5,1222.5 852.8,1206.9 853.2,1220.0 853.5,1211.7 853.8,1213.8 854.2,1224.9 854.5,1223.1 854.8,1216.1 855.2,1222.2 855.5,1226.9 855.9,1221.4 856.2,1220.6 856.5,1233.8 856.9,1224.4 857.2,1219.8 857.5,1220.8 857.9,1221.1 858.2,1224.5 858.6,1218.7 858.9,1205.9 859.2,1220.2 859.6,1220.6 859.9,1222.9 860.2,1221.0 860.6,1215.2 860.9,1211.7 861.3,1218.6 861.6,1219.9 861.9,1225.0 862.3,1216.7 862.6,1221.5 862.9,1210.0 863.3,1214.0 863.6,1223.1 864.0,1219.9 864.3,1216.2 864.6,1215.2 865.0,1229.0 865.3,1221.4 865.6,1230.0 866.0,1223.0 866.3,1219.1 866.7,1230.1 867.0,1218.4 867.3,1217.1 867.7,1216.4 868.0,1212.9 868.3,1218.9 868.7,1220.7 869.0,1222.5 869.4,1213.1 869.7,1229.7 870.0,1220.0 870.4,1215.8 870.7,1220.2 871.0,1223.2 871.4,1219.5 871.7,1220.7 872.1,1225.9 872.4,1219.5 872.7,1219.0 873.1,1221.3 873.4,1218.8 873.7,1221.9 874.1,1228.6 874.4,1219.3 874.7,1220.0 875.1,1232.8 875.4,1221.9 875.8,1213.7 876.1,1220.2 876.4,1220.5 876.8,1221.4 877.1,1222.5 877.4,1224.9 877.8,1222.7 878.1,1221.8 878.5,1210.0 878.8,1219.2 879.1,1221.5 879.5,1214.3 879.8,1222.7 880.1,1251.4 880.5,1222.8 880.8,1225.2 881.2,1219.8 881.5,1220.7 881.8,1221.4 882.2,1222.1 882.5,1219.3 882.8,1222.3 883.2,1222.8 883.5,1211.1 883.9,1225.6 884.2,1223.0 884.5,1225.7 884.9,1221.8 885.2,1222.5 885.5,1225.0 885.9,1230.7 886.2,1229.1 886.6,1224.5 886.9,1226.2 887.2,1218.4 887.6,1219.7 887.9,1220.4 888.2,1223.1 888.6,1222.5 888.9,1208.6 889.3,1225.5 889.6,1223.9 889.9,1220.6 890.3,1221.4 890.6,1212.8 890.9,1215.1 891.3,1227.5 891.6,1219.4 892.0,1227.5 892.3,1222.6 892.6,1222.5"/>
<line x1="646.50" y1="1220.98" x2="892.80" y2="1220.98" class="z"/>
<rect x="646.50" y="1147.50" width="246.30" height="182.50" class="f"/>
<line x1="642.00" y1="1148.30" x2="646.50" y2="1148.30" class="k"/>
<text transform="translate(638.30 1150.30) scale(0.8 1)" class="yl" text-anchor="end">.0008</text>
<line x1="642.00" y1="1184.64" x2="646.50" y2="1184.64" class="k"/>
<text transform="translate(638.30 1186.64) scale(0.8 1)" class="yl" text-anchor="end">.0004</text>
<line x1="642.00" y1="1220.98" x2="646.50" y2="1220.98" class="k"/>
<text transform="translate(638.30 1222.98) scale(0.8 1)" class="yl" text-anchor="end">.0000</text>
<line x1="642.00" y1="1257.32" x2="646.50" y2="1257.32" class="k"/>
<text transform="translate(638.30 1259.32) scale(0.8 1)" class="yl" text-anchor="end">-.0004</text>
<line x1="642.00" y1="1293.66" x2="646.50" y2="1293.66" class="k"/>
<text transform="translate(638.30 1295.66) scale(0.8 1)" class="yl" text-anchor="end">-.0008</text>
<line x1="642.00" y1="1330.00" x2="646.50" y2="1330.00" class="k"/>
<text transform="translate(638.30 1332.00) scale(0.8 1)" class="yl" text-anchor="end">-.0012</text>
<line x1="656.80" y1="1330.00" x2="656.80" y2="1333.80" class="k"/>
<line x1="666.07" y1="1330.00" x2="666.07" y2="1333.80" class="k"/>
<line x1="676.81" y1="1330.00" x2="676.81" y2="1336.50" class="k"/>
<line x1="687.06" y1="1330.00" x2="687.06" y2="1333.80" class="k"/>
<line x1="696.83" y1="1330.00" x2="696.83" y2="1333.80" class="k"/>
<line x1="707.56" y1="1330.00" x2="707.56" y2="1336.50" class="k"/>
<line x1="718.30" y1="1330.00" x2="718.30" y2="1333.80" class="k"/>
<line x1="728.55" y1="1330.00" x2="728.55" y2="1333.80" class="k"/>
<line x1="738.80" y1="1330.00" x2="738.80" y2="1336.50" class="k"/>
<line x1="749.54" y1="1330.00" x2="749.54" y2="1333.80" class="k"/>
<line x1="759.31" y1="1330.00" x2="759.31" y2="1333.80" class="k"/>
<line x1="770.04" y1="1330.00" x2="770.04" y2="1336.50" class="k"/>
<line x1="779.32" y1="1330.00" x2="779.32" y2="1333.80" class="k"/>
<line x1="788.59" y1="1330.00" x2="788.59" y2="1333.80" class="k"/>
<line x1="799.82" y1="1330.00" x2="799.82" y2="1336.50" class="k"/>
<line x1="810.07" y1="1330.00" x2="810.07" y2="1333.80" class="k"/>
<line x1="819.83" y1="1330.00" x2="819.83" y2="1333.80" class="k"/>
<line x1="830.57" y1="1330.00" x2="830.57" y2="1336.50" class="k"/>
<line x1="840.82" y1="1330.00" x2="840.82" y2="1333.80" class="k"/>
<line x1="851.56" y1="1330.00" x2="851.56" y2="1333.80" class="k"/>
<line x1="861.81" y1="1330.00" x2="861.81" y2="1336.50" class="k"/>
<line x1="872.06" y1="1330.00" x2="872.06" y2="1333.80" class="k"/>
<line x1="882.31" y1="1330.00" x2="882.31" y2="1333.80" class="k"/>
<line x1="892.80" y1="1330.00" x2="892.80" y2="1336.50" class="k"/>
<text transform="translate(661.83 1348.20) scale(0.8 1)" class="r" text-anchor="middle">I</text>
<text transform="translate(692.49 1348.20) scale(0.8 1)" class="r" text-anchor="middle">II</text>
<text transform="translate(723.32 1348.20) scale(0.8 1)" class="r" text-anchor="middle">III</text>
<text transform="translate(754.32 1348.20) scale(0.8 1)" class="r" text-anchor="middle">IV</text>
<text transform="translate(709.16 1367.00) scale(0.765 1)" class="yr" text-anchor="middle">2020</text>
<text transform="translate(784.98 1348.20) scale(0.8 1)" class="r" text-anchor="middle">I</text>
<text transform="translate(815.47 1348.20) scale(0.8 1)" class="r" text-anchor="middle">II</text>
<text transform="translate(846.30 1348.20) scale(0.8 1)" class="r" text-anchor="middle">III</text>
<text transform="translate(877.30 1348.20) scale(0.8 1)" class="r" text-anchor="middle">IV</text>
<text transform="translate(832.31 1367.00) scale(0.765 1)" class="yr" text-anchor="middle">2021</text>
<text transform="translate(1070.45 1126.00) scale(0.8 1)" class="t" text-anchor="middle">REIT</text>
<polyline class="d" points="952.8,1193.3 953.1,1196.5 953.4,1193.3 953.8,1194.7 954.1,1188.3 954.5,1199.7 954.8,1191.9 955.1,1192.0 955.5,1192.0 955.8,1193.8 956.1,1191.3 956.5,1200.3 956.8,1199.2 957.2,1193.9 957.5,1193.4 957.8,1193.0 958.2,1188.3 958.5,1190.1 958.8,1191.1 959.2,1192.4 959.5,1199.0 959.9,1198.0 960.2,1194.2 960.5,1197.3 960.9,1191.9 961.2,1192.5 961.5,1191.8 961.9,1193.5 962.2,1198.7 962.6,1192.6 962.9,1191.6 963.2,1187.3 963.6,1193.1 963.9,1189.9 964.2,1192.7 964.6,1194.8 964.9,1192.6 965.3,1192.9 965.6,1191.9 965.9,1193.2 966.3,1194.1 966.6,1188.3 966.9,1191.8 967.3,1194.7 967.6,1192.4 968.0,1201.1 968.3,1191.8 968.6,1194.3 969.0,1194.5 969.3,1194.9 969.6,1194.6 970.0,1191.5 970.3,1194.6 970.7,1192.7 971.0,1191.7 971.3,1220.4 971.7,1195.7 972.0,1191.6 972.3,1172.8 972.7,1213.1 973.0,1192.2 973.3,1193.4 973.7,1181.6 974.0,1195.1 974.4,1231.7 974.7,1172.8 975.0,1192.7 975.4,1186.4 975.7,1243.1 976.0,1194.2 976.4,1153.6 976.7,1193.9 977.1,1289.6 977.4,1193.2 977.7,1192.0 978.1,1192.9 978.4,1164.6 978.7,1237.9 979.1,1193.0 979.4,1192.8 979.8,1186.9 980.1,1193.5 980.4,1152.8 980.8,1219.3 981.1,1194.9 981.4,1192.4 981.8,1194.0 982.1,1159.4 982.5,1193.4 982.8,1195.1 983.1,1227.6 983.5,1211.5 983.8,1194.9 984.1,1159.0 984.5,1191.7 984.8,1192.5 985.2,1192.4 985.5,1166.6 985.8,1180.0 986.2,1215.2 986.5,1194.2 986.8,1194.1 987.2,1193.4 987.5,1204.5 987.9,1192.4 988.2,1178.0 988.5,1204.6 988.9,1188.7 989.2,1213.1 989.5,1192.0 989.9,1191.5 990.2,1191.7 990.6,1195.7 990.9,1177.6 991.2,1195.2 991.6,1194.5 991.9,1192.6 992.2,1191.7 992.6,1192.2 992.9,1191.7 993.3,1209.0 993.6,1193.6 993.9,1192.5 994.3,1194.6 994.6,1194.8 994.9,1183.2 995.3,1193.6 995.6,1193.9 996.0,1194.3 996.3,1194.9 996.6,1191.8 997.0,1216.2 997.3,1192.4 997.6,1191.7 998.0,1193.7 998.3,1193.3 998.7,1166.0 999.0,1192.2 999.3,1194.1 999.7,1192.5 1000.0,1194.7 1000.3,1193.7 1000.7,1194.1 1001.0,1193.9 1001.4,1175.9 1001.7,1202.8 1002.0,1192.8 1002.4,1192.0 1002.7,1198.7 1003.0,1195.8 1003.4,1179.0 1003.7,1193.0 1004.1,1193.8 1004.4,1193.7 1004.7,1193.4 1005.1,1194.1 1005.4,1175.9 1005.7,1192.2 1006.1,1193.1 1006.4,1195.8 1006.8,1225.5 1007.1,1194.2 1007.4,1175.9 1007.8,1193.2 1008.1,1182.9 1008.4,1194.2 1008.8,1191.7 1009.1,1191.7 1009.5,1193.3 1009.8,1192.8 1010.1,1191.6 1010.5,1190.0 1010.8,1208.0 1011.1,1193.6 1011.5,1193.3 1011.8,1191.9 1012.2,1197.9 1012.5,1195.0 1012.8,1183.2 1013.2,1193.8 1013.5,1195.5 1013.8,1194.5 1014.2,1194.9 1014.5,1193.4 1014.8,1195.3 1015.2,1193.6 1015.5,1192.2 1015.9,1190.1 1016.2,1201.8 1016.5,1196.5 1016.9,1193.6 1017.2,1187.7 1017.5,1189.6 1017.9,1188.9 1018.2,1188.3 1018.6,1189.4 1018.9,1194.4 1019.2,1195.9 1019.6,1196.0 1019.9,1194.3 1020.2,1197.6 1020.6,1193.6 1020.9,1195.8 1021.3,1200.2 1021.6,1195.5 1021.9,1189.0 1022.3,1201.8 1022.6,1193.0 1022.9,1192.7 1023.3,1183.2 1023.6,1192.2 1024.0,1192.3 1024.3,1195.5 1024.6,1193.4 1025.0,1195.9 1025.3,1200.7 1025.6,1198.1 1026.0,1193.6 1026.3,1187.0 1026.7,1192.2 1027.0,1187.2 1027.3,1193.7 1027.7,1197.0 1028.0,1188.3 1028.3,1194.6 1028.7,1195.5 1029.0,1187.3 1029.4,1187.7 1029.7,1195.3 1030.0,1189.0 1030.4,1194.2 1030.7,1191.9 1031.0,1195.1 1031.4,1195.9 1031.7,1192.0 1032.1,1193.8 1032.4,1193.9 1032.7,1193.3 1033.1,1194.9 1033.4,1195.4 1033.7,1198.8 1034.1,1197.0 1034.4,1194.2 1034.8,1185.2 1035.1,1195.0 1035.4,1193.9 1035.8,1201.8 1036.1,1186.9 1036.4,1190.7 1036.8,1193.4 1037.1,1191.6 1037.5,1193.4 1037.8,1193.6 1038.1,1198.3 1038.5,1182.1 1038.8,1193.0 1039.1,1193.1 1039.5,1194.1 1039.8,1195.5 1040.2,1195.7 1040.5,1192.6 1040.8,1194.6 1041.2,1208.0 1041.5,1194.5 1041.8,1194.7 1042.2,1191.7 1042.5,1194.8 1042.9,1183.8 1043.2,1189.8 1043.5,1193.5 1043.9,1186.9 1044.2,1194.5 1044.5,1192.7 1044.9,1191.7 1045.2,1198.8 1045.6,1190.7 1045.9,1195.7 1046.2,1189.1 1046.6,1184.2 1046.9,1201.8 1047.2,1191.2 1047.6,1192.1 1047.9,1199.8 1048.3,1194.8 1048.6,1187.2 1048.9,1192.8 1049.3,1194.9 1049.6,1189.2 1049.9,1192.6 1050.3,1199.6 1050.6,1190.8 1051.0,1194.3 1051.3,1195.7 1051.6,1192.3 1052.0,1195.2 1052.3,1199.6 1052.6,1193.6 1053.0,1195.9 1053.3,1194.0 1053.7,1193.4 1054.0,1213.1 1054.3,1192.8 1054.7,1192.4 1055.0,1185.3 1055.3,1181.1 1055.7,1194.0 1056.0,1195.2 1056.3,1195.1 1056.7,1194.0 1057.0,1191.6 1057.4,1194.9 1057.7,1192.0 1058.0,1179.0 1058.4,1193.4 1058.7,1194.8 1059.0,1193.6 1059.4,1192.4 1059.7,1188.4 1060.1,1194.5 1060.4,1200.4 1060.7,1186.9 1061.1,1202.8 1061.4,1187.8 1061.7,1194.8 1062.1,1187.7 1062.4,1185.2 1062.8,1195.5 1063.1,1195.4 1063.4,1193.9 1063.8,1196.5 1064.1,1193.5 1064.4,1195.0 1064.8,1189.9 1065.1,1187.4 1065.5,1198.9 1065.8,1194.9 1066.1,1200.6 1066.5,1195.2 1066.8,1187.3 1067.1,1194.9 1067.5,1191.6 1067.8,1192.9 1068.2,1193.6 1068.5,1190.0 1068.8,1195.0 1069.2,1194.4 1069.5,1188.7 1069.8,1194.8 1070.2,1195.9 1070.5,1197.2 1070.9,1195.6 1071.2,1189.9 1071.5,1202.8 1071.9,1194.8 1072.2,1199.4 1072.5,1188.3 1072.9,1195.0 1073.2,1191.9 1073.6,1192.7 1073.9,1191.3 1074.2,1191.7 1074.6,1194.7 1074.9,1195.6 1075.2,1194.8 1075.6,1194.5 1075.9,1209.0 1076.3,1193.6 1076.6,1187.5 1076.9,1185.2 1077.3,1198.5 1077.6,1193.2 1077.9,1192.3 1078.3,1192.1 1078.6,1195.6 1079.0,1196.3 1079.3,1192.4 1079.6,1198.4 1080.0,1194.9 1080.3,1192.4 1080.6,1186.8 1081.0,1189.7 1081.3,1194.7 1081.7,1198.8 1082.0,1192.1 1082.3,1195.1 1082.7,1196.9 1083.0,1192.9 1083.3,1192.5 1083.7,1193.1 1084.0,1202.8 1084.4,1194.0 1084.7,1200.0 1085.0,1191.8 1085.4,1182.1 1085.7,1192.8 1086.0,1186.3 1086.4,1191.3 1086.7,1192.1 1087.1,1200.4 1087.4,1194.4 1087.7,1192.1 1088.1,1198.2 1088.4,1193.7 1088.7,1195.1 1089.1,1193.8 1089.4,1193.7 1089.8,1195.1 1090.1,1191.7 1090.4,1197.1 1090.8,1195.1 1091.1,1194.5 1091.4,1195.8 1091.8,1188.4 1092.1,1194.8 1092.5,1192.5 1092.8,1190.0 1093.1,1192.7 1093.5,1202.8 1093.8,1195.6 1094.1,1192.7 1094.5,1196.6 1094.8,1188.8 1095.2,1200.2 1095.5,1188.5 1095.8,1192.1 1096.2,1193.9 1096.5,1187.3 1096.8,1194.7 1097.2,1191.8 1097.5,1194.0 1097.8,1194.6 1098.2,1199.6 1098.5,1192.2 1098.9,1195.8 1099.2,1192.9 1099.5,1198.9 1099.9,1194.9 1100.2,1194.8 1100.5,1191.7 1100.9,1197.6 1101.2,1192.2 1101.6,1200.0 1101.9,1199.3 1102.2,1194.6 1102.6,1193.8 1102.9,1195.1 1103.2,1188.4 1103.6,1195.4 1103.9,1183.8 1104.3,1192.4 1104.6,1198.5 1104.9,1199.5 1105.3,1193.8 1105.6,1195.9 1105.9,1194.2 1106.3,1193.3 1106.6,1194.9 1107.0,1193.8 1107.3,1198.4 1107.6,1192.8 1108.0,1195.3 1108.3,1191.5 1108.6,1195.7 1109.0,1193.6 1109.3,1191.7 1109.7,1195.3 1110.0,1190.5 1110.3,1194.7 1110.7,1191.8 1111.0,1194.1 1111.3,1195.3 1111.7,1194.8 1112.0,1189.4 1112.4,1198.6 1112.7,1191.4 1113.0,1188.9 1113.4,1195.3 1113.7,1192.7 1114.0,1198.1 1114.4,1195.0 1114.7,1193.8 1115.1,1193.2 1115.4,1194.8 1115.7,1192.6 1116.1,1189.6 1116.4,1195.1 1116.7,1194.6 1117.1,1191.9 1117.4,1193.0 1117.8,1197.6 1118.1,1201.5 1118.4,1194.7 1118.8,1194.5 1119.1,1205.9 1119.4,1187.9 1119.8,1192.3 1120.1,1194.8 1120.5,1191.6 1120.8,1192.9 1121.1,1191.8 1121.5,1199.2 1121.8,1193.4 1122.1,1192.8 1122.5,1195.4 1122.8,1190.3 1123.2,1186.9 1123.5,1198.8 1123.8,1192.4 1124.2,1190.7 1124.5,1192.4 1124.8,1196.9 1125.2,1192.2 1125.5,1188.3 1125.9,1187.9 1126.2,1200.4 1126.5,1193.2 1126.9,1197.8 1127.2,1191.8 1127.5,1193.8 1127.9,1187.2 1128.2,1196.9 1128.6,1186.8 1128.9,1191.8 1129.2,1198.5 1129.6,1194.1 1129.9,1187.9 1130.2,1192.8 1130.6,1192.2 1130.9,1190.4 1131.3,1201.8 1131.6,1194.3 1131.9,1194.2 1132.3,1184.6 1132.6,1198.8 1132.9,1193.1 1133.3,1188.6 1133.6,1192.8 1134.0,1193.1 1134.3,1189.3 1134.6,1195.2 1135.0,1192.1 1135.3,1196.3 1135.6,1200.2 1136.0,1193.4 1136.3,1193.8 1136.7,1188.1 1137.0,1200.6 1137.3,1195.8 1137.7,1193.3 1138.0,1190.6 1138.3,1188.3 1138.7,1195.2 1139.0,1191.7 1139.3,1194.5 1139.7,1195.2 1140.0,1192.3 1140.4,1197.3 1140.7,1191.0 1141.0,1202.4 1141.4,1193.8 1141.7,1196.0 1142.0,1182.1 1142.4,1186.8 1142.7,1192.6 1143.1,1193.9 1143.4,1194.9 1143.7,1192.9 1144.1,1193.5 1144.4,1193.4 1144.7,1189.7 1145.1,1190.1 1145.4,1195.5 1145.8,1192.2 1146.1,1191.6 1146.4,1191.9 1146.8,1199.3 1147.1,1192.0 1147.4,1188.3 1147.8,1198.6 1148.1,1194.8 1148.5,1195.8 1148.8,1195.0 1149.1,1189.2 1149.5,1191.8 1149.8,1188.9 1150.1,1200.2 1150.5,1192.4 1150.8,1195.8 1151.2,1194.7 1151.5,1190.1 1151.8,1191.6 1152.2,1194.4 1152.5,1198.7 1152.8,1199.0 1153.2,1192.1 1153.5,1199.9 1153.9,1195.5 1154.2,1195.8 1154.5,1195.9 1154.9,1194.3 1155.2,1194.1 1155.5,1193.3 1155.9,1194.6 1156.2,1195.9 1156.6,1186.3 1156.9,1193.3 1157.2,1195.8 1157.6,1192.8 1157.9,1190.0 1158.2,1198.5 1158.6,1187.1 1158.9,1194.5 1159.3,1192.8 1159.6,1203.8 1159.9,1193.4 1160.3,1194.0 1160.6,1193.8 1160.9,1194.6 1161.3,1194.9 1161.6,1192.2 1162.0,1195.4 1162.3,1194.1 1162.6,1194.3 1163.0,1192.5 1163.3,1195.5 1163.6,1196.5 1164.0,1191.2 1164.3,1197.1 1164.7,1191.0 1165.0,1185.2 1165.3,1190.3 1165.7,1190.9 1166.0,1198.0 1166.3,1193.6 1166.7,1187.6 1167.0,1200.7 1167.4,1194.4 1167.7,1190.8 1168.0,1193.5 1168.4,1198.3 1168.7,1194.0 1169.0,1197.7 1169.4,1195.5 1169.7,1192.2 1170.1,1193.4 1170.4,1193.3 1170.7,1193.5 1171.1,1195.9 1171.4,1188.1 1171.7,1191.9 1172.1,1185.2 1172.4,1194.9 1172.8,1195.5 1173.1,1193.9 1173.4,1194.9 1173.8,1195.2 1174.1,1194.6 1174.4,1192.8 1174.8,1198.9 1175.1,1189.4 1175.5,1196.4 1175.8,1192.1 1176.1,1186.3 1176.5,1198.7 1176.8,1190.2 1177.1,1193.1 1177.5,1191.3 1177.8,1193.9 1178.2,1190.0 1178.5,1195.9 1178.8,1188.0 1179.2,1194.6 1179.5,1198.7 1179.8,1187.7 1180.2,1192.4 1180.5,1188.6 1180.8,1191.7 1181.2,1195.6 1181.5,1198.3 1181.9,1197.9 1182.2,1191.8 1182.5,1188.9 1182.9,1194.3 1183.2,1195.2 1183.5,1195.4 1183.9,1193.3 1184.2,1194.1 1184.6,1191.8 1184.9,1193.6 1185.2,1194.9 1185.6,1192.2 1185.9,1195.1 1186.2,1219.3 1186.6,1195.7 1186.9,1186.2 1187.3,1194.8 1187.6,1195.8 1187.9,1184.5 1188.3,1179.0 1188.6,1184.8 1188.9,1194.7 1189.3,1192.6 1189.6,1193.1 1190.0,1191.8 1190.3,1193.6 1190.6,1193.6 1191.0,1193.5 1191.3,1199.1 1191.6,1191.7 1192.0,1189.3 1192.3,1191.7 1192.7,1193.1 1193.0,1195.0 1193.3,1194.9 1193.7,1192.0 1194.0,1197.3 1194.3,1199.7 1194.7,1185.2 1195.0,1191.7 1195.4,1195.8 1195.7,1192.8 1196.0,1194.7 1196.4,1199.7 1196.7,1188.4 1197.0,1196.7 1197.4,1189.2 1197.7,1194.7 1198.1,1199.3 1198.4,1200.1 1198.7,1194.7"/>
<line x1="952.60" y1="1193.72" x2="1198.90" y2="1193.72" class="z"/>
<rect x="952.60" y="1147.50" width="246.30" height="182.50" class="f"/>
<line x1="948.10" y1="1148.30" x2="952.60" y2="1148.30" class="k"/>
<text transform="translate(944.40 1150.30) scale(0.8 1)" class="yl" text-anchor="end">.0004</text>
<line x1="948.10" y1="1193.72" x2="952.60" y2="1193.72" class="k"/>
<text transform="translate(944.40 1195.72) scale(0.8 1)" class="yl" text-anchor="end">.0000</text>
<line x1="948.10" y1="1239.15" x2="952.60" y2="1239.15" class="k"/>
<text transform="translate(944.40 1241.15) scale(0.8 1)" class="yl" text-anchor="end">-.0004</text>
<line x1="948.10" y1="1284.58" x2="952.60" y2="1284.58" class="k"/>
<text transform="translate(944.40 1286.58) scale(0.8 1)" class="yl" text-anchor="end">-.0008</text>
<line x1="948.10" y1="1330.00" x2="952.60" y2="1330.00" class="k"/>
<text transform="translate(944.40 1332.00) scale(0.8 1)" class="yl" text-anchor="end">-.0012</text>
<line x1="962.90" y1="1330.00" x2="962.90" y2="1333.80" class="k"/>
<line x1="972.17" y1="1330.00" x2="972.17" y2="1333.80" class="k"/>
<line x1="982.91" y1="1330.00" x2="982.91" y2="1336.50" class="k"/>
<line x1="993.16" y1="1330.00" x2="993.16" y2="1333.80" class="k"/>
<line x1="1002.93" y1="1330.00" x2="1002.93" y2="1333.80" class="k"/>
<line x1="1013.66" y1="1330.00" x2="1013.66" y2="1336.50" class="k"/>
<line x1="1024.40" y1="1330.00" x2="1024.40" y2="1333.80" class="k"/>
<line x1="1034.65" y1="1330.00" x2="1034.65" y2="1333.80" class="k"/>
<line x1="1044.90" y1="1330.00" x2="1044.90" y2="1336.50" class="k"/>
<line x1="1055.64" y1="1330.00" x2="1055.64" y2="1333.80" class="k"/>
<line x1="1065.41" y1="1330.00" x2="1065.41" y2="1333.80" class="k"/>
<line x1="1076.14" y1="1330.00" x2="1076.14" y2="1336.50" class="k"/>
<line x1="1085.42" y1="1330.00" x2="1085.42" y2="1333.80" class="k"/>
<line x1="1094.69" y1="1330.00" x2="1094.69" y2="1333.80" class="k"/>
<line x1="1105.92" y1="1330.00" x2="1105.92" y2="1336.50" class="k"/>
<line x1="1116.17" y1="1330.00" x2="1116.17" y2="1333.80" class="k"/>
<line x1="1125.93" y1="1330.00" x2="1125.93" y2="1333.80" class="k"/>
<line x1="1136.67" y1="1330.00" x2="1136.67" y2="1336.50" class="k"/>
<line x1="1146.92" y1="1330.00" x2="1146.92" y2="1333.80" class="k"/>
<line x1="1157.66" y1="1330.00" x2="1157.66" y2="1333.80" class="k"/>
<line x1="1167.91" y1="1330.00" x2="1167.91" y2="1336.50" class="k"/>
<line x1="1178.16" y1="1330.00" x2="1178.16" y2="1333.80" class="k"/>
<line x1="1188.41" y1="1330.00" x2="1188.41" y2="1333.80" class="k"/>
<line x1="1198.90" y1="1330.00" x2="1198.90" y2="1336.50" class="k"/>
<text transform="translate(967.93 1348.20) scale(0.8 1)" class="r" text-anchor="middle">I</text>
<text transform="translate(998.59 1348.20) scale(0.8 1)" class="r" text-anchor="middle">II</text>
<text transform="translate(1029.42 1348.20) scale(0.8 1)" class="r" text-anchor="middle">III</text>
<text transform="translate(1060.42 1348.20) scale(0.8 1)" class="r" text-anchor="middle">IV</text>
<text transform="translate(1015.26 1367.00) scale(0.765 1)" class="yr" text-anchor="middle">2020</text>
<text transform="translate(1091.08 1348.20) scale(0.8 1)" class="r" text-anchor="middle">I</text>
<text transform="translate(1121.57 1348.20) scale(0.8 1)" class="r" text-anchor="middle">II</text>
<text transform="translate(1152.40 1348.20) scale(0.8 1)" class="r" text-anchor="middle">III</text>
<text transform="translate(1183.40 1348.20) scale(0.8 1)" class="r" text-anchor="middle">IV</text>
<text transform="translate(1138.41 1367.00) scale(0.765 1)" class="yr" text-anchor="middle">2021</text>
<text transform="translate(152.75 1400.00) scale(0.8 1)" class="t" text-anchor="middle">Tech</text>
<polyline class="d" points="34.1,1500.9 34.4,1500.5 34.7,1497.4 35.1,1488.2 35.4,1503.7 35.8,1492.5 36.1,1501.3 36.4,1497.2 36.8,1495.9 37.1,1497.1 37.4,1497.7 37.8,1497.5 38.1,1500.0 38.5,1506.6 38.8,1494.5 39.1,1500.7 39.5,1499.4 39.8,1490.6 40.1,1507.1 40.5,1496.4 40.8,1501.0 41.2,1498.4 41.5,1500.9 41.8,1500.7 42.2,1488.2 42.5,1512.0 42.8,1500.2 43.2,1506.8 43.5,1503.4 43.9,1499.4 44.2,1491.7 44.5,1499.0 44.9,1487.2 45.2,1498.0 45.5,1499.9 45.9,1505.4 46.2,1502.9 46.6,1498.8 46.9,1497.0 47.2,1498.6 47.6,1500.0 47.9,1501.5 48.2,1505.4 48.6,1498.9 48.9,1499.1 49.3,1497.5 49.6,1500.4 49.9,1491.1 50.3,1498.1 50.6,1522.3 50.9,1500.1 51.3,1497.0 51.6,1498.1 52.0,1499.0 52.3,1499.1 52.6,1528.5 53.0,1497.6 53.3,1499.7 53.6,1472.7 54.0,1497.6 54.3,1496.9 54.6,1517.1 55.0,1501.0 55.3,1474.8 55.7,1509.0 56.0,1499.4 56.3,1499.7 56.7,1466.5 57.0,1541.9 57.3,1497.2 57.7,1499.9 58.0,1496.9 58.4,1440.3 58.7,1580.2 59.0,1498.7 59.4,1525.4 59.7,1462.4 60.0,1534.4 60.4,1504.5 60.7,1499.4 61.1,1497.3 61.4,1450.6 61.7,1496.8 62.1,1521.3 62.4,1496.9 62.7,1498.3 63.1,1469.6 63.4,1493.0 63.8,1490.5 64.1,1525.0 64.4,1500.7 64.8,1500.8 65.1,1497.7 65.4,1499.9 65.8,1455.5 66.1,1497.8 66.5,1499.6 66.8,1498.2 67.1,1476.8 67.5,1508.9 67.8,1499.1 68.1,1500.3 68.5,1497.6 68.8,1497.9 69.2,1475.8 69.5,1497.8 69.8,1499.5 70.2,1499.9 70.5,1522.3 70.8,1478.3 71.2,1512.8 71.5,1499.9 71.9,1497.3 72.2,1498.5 72.5,1498.8 72.9,1498.7 73.2,1507.7 73.5,1498.1 73.9,1474.1 74.2,1515.1 74.6,1499.3 74.9,1497.7 75.2,1499.6 75.6,1500.6 75.9,1500.9 76.2,1490.3 76.6,1504.0 76.9,1497.0 77.3,1503.2 77.6,1504.9 77.9,1503.7 78.3,1492.6 78.6,1509.9 78.9,1500.9 79.3,1500.3 79.6,1498.2 80.0,1504.5 80.3,1499.8 80.6,1496.8 81.0,1486.5 81.3,1500.3 81.6,1501.2 82.0,1500.1 82.3,1501.1 82.7,1505.8 83.0,1498.1 83.3,1499.3 83.7,1498.5 84.0,1497.4 84.3,1495.4 84.7,1503.4 85.0,1497.4 85.4,1498.2 85.7,1498.5 86.0,1498.2 86.4,1486.5 86.7,1501.1 87.0,1498.7 87.4,1497.7 87.7,1498.9 88.1,1530.6 88.4,1499.9 88.7,1498.1 89.1,1515.9 89.4,1497.3 89.7,1487.8 90.1,1497.5 90.4,1504.5 90.8,1500.5 91.1,1498.6 91.4,1499.4 91.8,1499.8 92.1,1501.1 92.4,1496.9 92.8,1512.0 93.1,1500.2 93.5,1497.4 93.8,1500.9 94.1,1496.9 94.5,1490.7 94.8,1506.0 95.1,1488.2 95.5,1499.2 95.8,1491.3 96.1,1500.0 96.5,1500.4 96.8,1498.0 97.2,1498.7 97.5,1496.8 97.8,1497.4 98.2,1505.9 98.5,1500.1 98.8,1512.0 99.2,1500.9 99.5,1499.8 99.9,1500.8 100.2,1499.4 100.5,1489.1 100.9,1483.0 101.2,1496.8 101.5,1499.1 101.9,1499.0 102.2,1508.9 102.6,1498.8 102.9,1492.9 103.2,1497.3 103.6,1503.2 103.9,1498.7 104.2,1487.2 104.6,1498.7 104.9,1491.2 105.3,1494.1 105.6,1500.9 105.9,1497.1 106.3,1497.4 106.6,1497.0 106.9,1505.4 107.3,1502.5 107.6,1504.8 108.0,1496.4 108.3,1508.9 108.6,1507.2 109.0,1486.1 109.3,1497.9 109.6,1492.4 110.0,1498.9 110.3,1491.0 110.7,1495.5 111.0,1495.7 111.3,1499.8 111.7,1498.8 112.0,1497.4 112.3,1496.8 112.7,1498.9 113.0,1497.7 113.4,1498.9 113.7,1484.5 114.0,1498.6 114.4,1500.0 114.7,1496.8 115.0,1499.7 115.4,1499.1 115.7,1499.4 116.1,1498.3 116.4,1500.7 116.7,1500.4 117.1,1532.6 117.4,1499.0 117.7,1500.6 118.1,1482.4 118.4,1498.1 118.8,1499.3 119.1,1500.4 119.4,1507.9 119.8,1508.6 120.1,1493.6 120.4,1500.5 120.8,1500.2 121.1,1495.1 121.5,1497.7 121.8,1497.2 122.1,1497.8 122.5,1500.5 122.8,1500.0 123.1,1499.4 123.5,1516.1 123.8,1488.2 124.2,1499.0 124.5,1501.0 124.8,1497.1 125.2,1500.2 125.5,1500.6 125.8,1506.0 126.2,1495.2 126.5,1491.9 126.9,1501.0 127.2,1500.5 127.5,1485.7 127.9,1499.0 128.2,1510.9 128.5,1502.3 128.9,1497.7 129.2,1505.6 129.6,1496.8 129.9,1497.7 130.2,1483.0 130.6,1496.9 130.9,1499.7 131.2,1502.1 131.6,1497.8 131.9,1504.9 132.3,1500.8 132.6,1495.5 132.9,1497.2 133.3,1499.8 133.6,1498.7 133.9,1492.7 134.3,1498.0 134.6,1499.4 135.0,1518.8 135.3,1491.7 135.6,1498.0 136.0,1498.1 136.3,1501.0 136.6,1501.1 137.0,1490.9 137.3,1500.9 137.6,1500.4 138.0,1474.8 138.3,1495.7 138.7,1498.9 139.0,1500.5 139.3,1496.8 139.7,1497.7 140.0,1510.9 140.3,1485.1 140.7,1497.6 141.0,1498.8 141.4,1500.0 141.7,1494.1 142.0,1507.2 142.4,1497.9 142.7,1501.0 143.0,1497.9 143.4,1497.6 143.7,1495.4 144.1,1504.8 144.4,1505.8 144.7,1497.8 145.1,1501.0 145.4,1490.6 145.7,1488.2 146.1,1493.9 146.4,1498.8 146.8,1502.6 147.1,1501.0 147.4,1494.7 147.8,1497.5 148.1,1505.7 148.4,1504.3 148.8,1498.2 149.1,1501.0 149.5,1500.5 149.8,1510.9 150.1,1504.8 150.5,1497.3 150.8,1499.9 151.1,1495.6 151.5,1490.3 151.8,1498.9 152.2,1497.4 152.5,1496.7 152.8,1498.7 153.2,1490.6 153.5,1500.3 153.8,1503.3 154.2,1505.7 154.5,1495.5 154.9,1497.4 155.2,1498.8 155.5,1497.1 155.9,1498.0 156.2,1500.3 156.5,1504.9 156.9,1500.2 157.2,1493.7 157.6,1499.1 157.9,1508.9 158.2,1500.1 158.6,1499.9 158.9,1482.0 159.2,1506.7 159.6,1498.8 159.9,1498.1 160.3,1500.5 160.6,1497.2 160.9,1500.7 161.3,1499.9 161.6,1497.6 161.9,1500.0 162.3,1500.3 162.6,1497.3 163.0,1486.1 163.3,1500.3 163.6,1505.7 164.0,1498.5 164.3,1499.0 164.6,1500.3 165.0,1498.4 165.3,1512.0 165.7,1499.4 166.0,1502.9 166.3,1498.9 166.7,1499.4 167.0,1484.1 167.3,1500.5 167.7,1499.9 168.0,1498.8 168.4,1497.1 168.7,1497.3 169.0,1498.9 169.4,1498.3 169.7,1490.6 170.0,1501.7 170.4,1506.7 170.7,1494.5 171.1,1497.2 171.4,1492.3 171.7,1499.5 172.1,1497.3 172.4,1499.4 172.7,1498.9 173.1,1501.0 173.4,1497.8 173.8,1497.7 174.1,1498.4 174.4,1521.3 174.8,1497.3 175.1,1499.0 175.4,1480.3 175.8,1492.7 176.1,1497.1 176.5,1498.4 176.8,1500.3 177.1,1499.9 177.5,1500.9 177.8,1517.1 178.1,1499.1 178.5,1486.9 178.8,1501.1 179.1,1477.5 179.5,1500.1 179.8,1500.7 180.2,1500.3 180.5,1498.4 180.8,1498.7 181.2,1497.7 181.5,1500.7 181.8,1516.1 182.2,1499.0 182.5,1496.0 182.9,1501.1 183.2,1497.0 183.5,1493.6 183.9,1495.2 184.2,1497.7 184.5,1490.6 184.9,1500.4 185.2,1499.1 185.6,1493.2 185.9,1507.2 186.2,1499.2 186.6,1498.0 186.9,1485.7 187.2,1499.9 187.6,1500.3 187.9,1499.8 188.3,1499.2 188.6,1495.1 188.9,1501.0 189.3,1500.1 189.6,1505.2 189.9,1497.9 190.3,1506.6 190.6,1497.1 191.0,1504.7 191.3,1497.5 191.6,1500.1 192.0,1499.5 192.3,1500.0 192.6,1497.4 193.0,1500.0 193.3,1489.2 193.7,1500.1 194.0,1500.4 194.3,1498.3 194.7,1504.0 195.0,1498.8 195.3,1497.1 195.7,1500.1 196.0,1491.6 196.4,1500.9 196.7,1498.9 197.0,1499.2 197.4,1501.0 197.7,1496.5 198.0,1497.9 198.4,1491.3 198.7,1500.2 199.1,1499.8 199.4,1498.1 199.7,1497.8 200.1,1498.7 200.4,1515.5 200.7,1499.8 201.1,1498.3 201.4,1496.9 201.8,1498.2 202.1,1484.5 202.4,1497.3 202.8,1496.4 203.1,1497.6 203.4,1500.5 203.8,1492.8 204.1,1497.9 204.5,1504.3 204.8,1499.2 205.1,1499.8 205.5,1498.2 205.8,1499.5 206.1,1496.0 206.5,1494.5 206.8,1507.0 207.2,1495.8 207.5,1495.1 207.8,1500.0 208.2,1487.2 208.5,1504.7 208.8,1491.6 209.2,1498.3 209.5,1499.4 209.9,1499.9 210.2,1497.5 210.5,1506.8 210.9,1497.8 211.2,1505.6 211.5,1501.7 211.9,1495.4 212.2,1496.9 212.6,1503.2 212.9,1491.3 213.2,1491.9 213.6,1497.4 213.9,1499.6 214.2,1500.4 214.6,1490.6 214.9,1499.8 215.3,1505.0 215.6,1496.0 215.9,1496.9 216.3,1494.1 216.6,1499.5 216.9,1491.3 217.3,1500.0 217.6,1497.9 218.0,1497.4 218.3,1500.9 218.6,1492.5 219.0,1497.2 219.3,1506.0 219.6,1495.2 220.0,1504.7 220.3,1492.7 220.6,1500.5 221.0,1503.6 221.3,1500.1 221.7,1497.3 222.0,1500.9 222.3,1494.0 222.7,1501.1 223.0,1498.8 223.3,1492.2 223.7,1499.1 224.0,1489.2 224.4,1498.2 224.7,1499.0 225.0,1498.3 225.4,1499.5 225.7,1506.8 226.0,1504.2 226.4,1504.7 226.7,1499.9 227.1,1499.2 227.4,1497.6 227.7,1492.4 228.1,1499.6 228.4,1497.0 228.7,1500.1 229.1,1507.1 229.4,1499.7 229.8,1498.8 230.1,1500.8 230.4,1507.2 230.8,1501.3 231.1,1492.7 231.4,1500.2 231.8,1501.7 232.1,1495.1 232.5,1497.6 232.8,1497.1 233.1,1503.7 233.5,1499.1 233.8,1499.7 234.1,1499.6 234.5,1490.3 234.8,1498.7 235.2,1498.4 235.5,1505.4 235.8,1496.7 236.2,1498.7 236.5,1503.5 236.8,1493.5 237.2,1501.1 237.5,1497.2 237.9,1497.0 238.2,1497.8 238.5,1494.8 238.9,1498.5 239.2,1490.4 239.5,1492.3 239.9,1498.8 240.2,1499.0 240.6,1495.8 240.9,1497.5 241.2,1497.2 241.6,1499.2 241.9,1497.8 242.2,1498.4 242.6,1496.7 242.9,1491.3 243.3,1497.0 243.6,1505.3 243.9,1497.8 244.3,1491.3 244.6,1501.8 244.9,1499.4 245.3,1493.0 245.6,1494.6 246.0,1492.3 246.3,1498.4 246.6,1497.5 247.0,1499.8 247.3,1517.1 247.6,1497.8 248.0,1503.7 248.3,1502.5 248.7,1501.0 249.0,1500.9 249.3,1497.4 249.7,1491.8 250.0,1499.1 250.3,1500.1 250.7,1500.3 251.0,1491.9 251.4,1496.5 251.7,1499.5 252.0,1498.2 252.4,1498.3 252.7,1499.2 253.0,1486.1 253.4,1498.3 253.7,1497.5 254.1,1500.0 254.4,1501.3 254.7,1496.9 255.1,1500.9 255.4,1497.1 255.7,1500.9 256.1,1504.7 256.4,1496.9 256.8,1499.1 257.1,1498.1 257.4,1490.8 257.8,1497.5 258.1,1497.5 258.4,1497.2 258.8,1493.9 259.1,1499.9 259.5,1502.0 259.8,1492.6 260.1,1498.8 260.5,1498.0 260.8,1504.7 261.1,1490.9 261.5,1490.3 261.8,1503.0 262.1,1505.6 262.5,1510.9 262.8,1498.6 263.2,1505.6 263.5,1493.4 263.8,1498.8 264.2,1504.9 264.5,1501.0 264.8,1498.8 265.2,1493.7 265.5,1500.9 265.9,1498.1 266.2,1501.5 266.5,1499.4 266.9,1497.9 267.2,1497.2 267.5,1499.1 267.9,1522.3 268.2,1485.1 268.6,1499.1 268.9,1507.2 269.2,1490.6 269.6,1500.0 269.9,1496.4 270.2,1500.3 270.6,1497.2 270.9,1502.9 271.3,1499.4 271.6,1478.3 271.9,1499.5 272.3,1500.5 272.6,1499.6 272.9,1496.7 273.3,1499.2 273.6,1500.9 274.0,1498.4 274.3,1499.7 274.6,1516.7 275.0,1497.0 275.3,1501.0 275.6,1498.2 276.0,1484.1 276.3,1500.1 276.7,1500.8 277.0,1497.3 277.3,1496.1 277.7,1504.1 278.0,1493.7 278.3,1498.9 278.7,1498.9 279.0,1503.7 279.4,1499.2 279.7,1505.2 280.0,1496.9"/>
<line x1="33.90" y1="1498.91" x2="280.20" y2="1498.91" class="z"/>
<rect x="33.90" y="1420.00" width="246.30" height="182.80" class="f"/>
<line x1="29.40" y1="1421.00" x2="33.90" y2="1421.00" class="k"/>
<text transform="translate(25.70 1423.00) scale(0.8 1)" class="yl" text-anchor="end">.0006</text>
<line x1="29.40" y1="1446.97" x2="33.90" y2="1446.97" class="k"/>
<text transform="translate(25.70 1448.97) scale(0.8 1)" class="yl" text-anchor="end">.0004</text>
<line x1="29.40" y1="1472.94" x2="33.90" y2="1472.94" class="k"/>
<text transform="translate(25.70 1474.94) scale(0.8 1)" class="yl" text-anchor="end">.0002</text>
<line x1="29.40" y1="1498.91" x2="33.90" y2="1498.91" class="k"/>
<text transform="translate(25.70 1500.91) scale(0.8 1)" class="yl" text-anchor="end">.0000</text>
<line x1="29.40" y1="1524.89" x2="33.90" y2="1524.89" class="k"/>
<text transform="translate(25.70 1526.89) scale(0.8 1)" class="yl" text-anchor="end">-.0002</text>
<line x1="29.40" y1="1550.86" x2="33.90" y2="1550.86" class="k"/>
<text transform="translate(25.70 1552.86) scale(0.8 1)" class="yl" text-anchor="end">-.0004</text>
<line x1="29.40" y1="1576.83" x2="33.90" y2="1576.83" class="k"/>
<text transform="translate(25.70 1578.83) scale(0.8 1)" class="yl" text-anchor="end">-.0006</text>
<line x1="29.40" y1="1602.80" x2="33.90" y2="1602.80" class="k"/>
<text transform="translate(25.70 1604.80) scale(0.8 1)" class="yl" text-anchor="end">-.0008</text>
<line x1="44.20" y1="1602.80" x2="44.20" y2="1606.60" class="k"/>
<line x1="53.47" y1="1602.80" x2="53.47" y2="1606.60" class="k"/>
<line x1="64.21" y1="1602.80" x2="64.21" y2="1609.30" class="k"/>
<line x1="74.46" y1="1602.80" x2="74.46" y2="1606.60" class="k"/>
<line x1="84.23" y1="1602.80" x2="84.23" y2="1606.60" class="k"/>
<line x1="94.96" y1="1602.80" x2="94.96" y2="1609.30" class="k"/>
<line x1="105.70" y1="1602.80" x2="105.70" y2="1606.60" class="k"/>
<line x1="115.95" y1="1602.80" x2="115.95" y2="1606.60" class="k"/>
<line x1="126.20" y1="1602.80" x2="126.20" y2="1609.30" class="k"/>
<line x1="136.94" y1="1602.80" x2="136.94" y2="1606.60" class="k"/>
<line x1="146.71" y1="1602.80" x2="146.71" y2="1606.60" class="k"/>
<line x1="157.44" y1="1602.80" x2="157.44" y2="1609.30" class="k"/>
<line x1="166.72" y1="1602.80" x2="166.72" y2="1606.60" class="k"/>
<line x1="175.99" y1="1602.80" x2="175.99" y2="1606.60" class="k"/>
<line x1="187.22" y1="1602.80" x2="187.22" y2="1609.30" class="k"/>
<line x1="197.47" y1="1602.80" x2="197.47" y2="1606.60" class="k"/>
<line x1="207.23" y1="1602.80" x2="207.23" y2="1606.60" class="k"/>
<line x1="217.97" y1="1602.80" x2="217.97" y2="1609.30" class="k"/>
<line x1="228.22" y1="1602.80" x2="228.22" y2="1606.60" class="k"/>
<line x1="238.96" y1="1602.80" x2="238.96" y2="1606.60" class="k"/>
<line x1="249.21" y1="1602.80" x2="249.21" y2="1609.30" class="k"/>
<line x1="259.46" y1="1602.80" x2="259.46" y2="1606.60" class="k"/>
<line x1="269.71" y1="1602.80" x2="269.71" y2="1606.60" class="k"/>
<line x1="280.20" y1="1602.80" x2="280.20" y2="1609.30" class="k"/>
<text transform="translate(49.23 1621.00) scale(0.8 1)" class="r" text-anchor="middle">I</text>
<text transform="translate(79.89 1621.00) scale(0.8 1)" class="r" text-anchor="middle">II</text>
<text transform="translate(110.72 1621.00) scale(0.8 1)" class="r" text-anchor="middle">III</text>
<text transform="translate(141.72 1621.00) scale(0.8 1)" class="r" text-anchor="middle">IV</text>
<text transform="translate(96.56 1639.80) scale(0.765 1)" class="yr" text-anchor="middle">2020</text>
<text transform="translate(172.38 1621.00) scale(0.8 1)" class="r" text-anchor="middle">I</text>
<text transform="translate(202.87 1621.00) scale(0.8 1)" class="r" text-anchor="middle">II</text>
<text transform="translate(233.70 1621.00) scale(0.8 1)" class="r" text-anchor="middle">III</text>
<text transform="translate(264.70 1621.00) scale(0.8 1)" class="r" text-anchor="middle">IV</text>
<text transform="translate(219.71 1639.80) scale(0.765 1)" class="yr" text-anchor="middle">2021</text>
<text transform="translate(458.95 1400.00) scale(0.8 1)" class="t" text-anchor="middle">Tel</text>
<polyline class="d" points="340.3,1488.2 340.6,1489.3 340.9,1491.7 341.3,1491.9 341.6,1490.3 342.0,1489.2 342.3,1496.5 342.6,1494.7 343.0,1485.9 343.3,1487.5 343.6,1491.8 344.0,1491.9 344.3,1496.1 344.7,1493.2 345.0,1493.5 345.3,1483.0 345.7,1490.7 346.0,1485.4 346.3,1494.5 346.7,1493.7 347.0,1503.9 347.4,1492.4 347.7,1493.7 348.0,1493.9 348.4,1515.1 348.7,1495.4 349.0,1491.6 349.4,1484.1 349.7,1491.9 350.1,1493.7 350.4,1494.4 350.7,1499.6 351.1,1494.8 351.4,1498.2 351.7,1493.6 352.1,1480.8 352.4,1492.3 352.8,1494.3 353.1,1491.9 353.4,1467.9 353.8,1495.1 354.1,1494.3 354.4,1493.7 354.8,1491.7 355.1,1493.7 355.5,1482.0 355.8,1494.1 356.1,1492.3 356.5,1506.8 356.8,1491.6 357.1,1493.5 357.5,1493.3 357.8,1493.0 358.2,1494.8 358.5,1519.2 358.8,1498.9 359.2,1495.2 359.5,1494.6 359.8,1494.4 360.2,1463.0 360.5,1510.9 360.8,1495.2 361.2,1495.8 361.5,1482.5 361.9,1474.8 362.2,1541.9 362.5,1492.2 362.9,1524.4 363.2,1492.6 363.5,1493.3 363.9,1566.7 364.2,1432.0 364.6,1492.8 364.9,1493.3 365.2,1529.5 365.6,1492.4 365.9,1447.9 366.2,1492.7 366.6,1485.2 366.9,1491.7 367.3,1469.6 367.6,1491.6 367.9,1508.9 368.3,1495.9 368.6,1447.3 368.9,1487.6 369.3,1493.2 369.6,1491.9 370.0,1472.7 370.3,1506.6 370.6,1491.6 371.0,1523.3 371.3,1495.3 371.6,1492.8 372.0,1457.2 372.3,1492.9 372.7,1495.4 373.0,1483.7 373.3,1474.8 373.7,1492.6 374.0,1510.9 374.3,1495.2 374.7,1487.8 375.0,1482.0 375.4,1495.7 375.7,1476.2 376.0,1493.8 376.4,1492.8 376.7,1494.1 377.0,1478.9 377.4,1513.0 377.7,1500.3 378.1,1495.5 378.4,1491.7 378.7,1482.0 379.1,1496.6 379.4,1493.1 379.7,1495.2 380.1,1493.6 380.4,1521.3 380.8,1493.8 381.1,1492.5 381.4,1492.5 381.8,1495.0 382.1,1493.3 382.4,1471.3 382.8,1493.3 383.1,1481.5 383.5,1492.4 383.8,1493.3 384.1,1493.2 384.5,1515.1 384.8,1488.2 385.1,1494.2 385.5,1495.5 385.8,1470.6 386.2,1493.5 386.5,1498.2 386.8,1492.2 387.2,1494.6 387.5,1495.8 387.8,1492.4 388.2,1494.0 388.5,1494.9 388.9,1500.3 389.2,1478.9 389.5,1506.8 389.9,1491.9 390.2,1495.0 390.5,1494.0 390.9,1483.3 391.2,1493.7 391.6,1492.8 391.9,1494.6 392.2,1475.4 392.6,1491.8 392.9,1493.6 393.2,1492.0 393.6,1484.4 393.9,1495.0 394.3,1535.7 394.6,1510.7 394.9,1495.9 395.3,1482.0 395.6,1493.2 395.9,1495.3 396.3,1492.5 396.6,1493.0 397.0,1492.1 397.3,1485.4 397.6,1494.6 398.0,1500.1 398.3,1494.9 398.6,1492.4 399.0,1509.9 399.3,1495.1 399.7,1495.9 400.0,1481.6 400.3,1494.8 400.7,1494.4 401.0,1489.7 401.3,1492.4 401.7,1498.3 402.0,1501.9 402.3,1494.1 402.7,1492.0 403.0,1502.7 403.4,1491.8 403.7,1495.0 404.0,1484.1 404.4,1494.9 404.7,1491.0 405.0,1494.4 405.4,1491.9 405.7,1492.0 406.1,1494.9 406.4,1487.0 406.7,1486.3 407.1,1486.4 407.4,1489.8 407.7,1492.6 408.1,1495.8 408.4,1493.8 408.8,1495.9 409.1,1495.7 409.4,1496.9 409.8,1495.3 410.1,1492.3 410.4,1491.6 410.8,1493.2 411.1,1494.6 411.5,1485.7 411.8,1496.3 412.1,1492.6 412.5,1494.5 412.8,1491.7 413.1,1494.4 413.5,1495.2 413.8,1493.0 414.2,1495.6 414.5,1500.6 414.8,1495.8 415.2,1495.6 415.5,1486.2 415.8,1497.8 416.2,1491.1 416.5,1492.9 416.9,1495.8 417.2,1495.4 417.5,1490.3 417.9,1496.1 418.2,1489.0 418.5,1492.5 418.9,1494.4 419.2,1491.6 419.6,1492.7 419.9,1496.3 420.2,1501.2 420.6,1495.8 420.9,1492.0 421.2,1493.6 421.6,1491.8 421.9,1495.7 422.3,1478.3 422.6,1499.2 422.9,1516.1 423.3,1492.4 423.6,1495.6 423.9,1492.9 424.3,1493.1 424.6,1491.7 425.0,1494.5 425.3,1492.3 425.6,1484.1 426.0,1494.3 426.3,1499.1 426.6,1494.4 427.0,1492.5 427.3,1487.4 427.7,1493.1 428.0,1493.9 428.3,1505.1 428.7,1493.1 429.0,1495.4 429.3,1513.0 429.7,1491.7 430.0,1499.2 430.4,1494.3 430.7,1494.0 431.0,1484.1 431.4,1494.9 431.7,1493.7 432.0,1494.0 432.4,1492.0 432.7,1485.8 433.1,1493.9 433.4,1495.0 433.7,1486.2 434.1,1498.5 434.4,1492.3 434.7,1496.9 435.1,1486.1 435.4,1502.7 435.8,1498.3 436.1,1490.0 436.4,1495.9 436.8,1495.8 437.1,1486.4 437.4,1494.4 437.8,1490.1 438.1,1498.0 438.5,1491.7 438.8,1493.5 439.1,1495.0 439.5,1492.3 439.8,1494.3 440.1,1485.1 440.5,1492.8 440.8,1493.4 441.2,1495.5 441.5,1492.9 441.8,1519.6 442.2,1494.9 442.5,1492.3 442.8,1495.7 443.2,1492.7 443.5,1494.0 443.8,1492.0 444.2,1485.3 444.5,1476.2 444.9,1492.4 445.2,1495.3 445.5,1492.7 445.9,1491.7 446.2,1495.8 446.5,1479.9 446.9,1486.2 447.2,1492.2 447.6,1494.7 447.9,1490.6 448.2,1501.4 448.6,1501.6 448.9,1491.8 449.2,1485.7 449.6,1485.9 449.9,1494.5 450.3,1495.6 450.6,1494.7 450.9,1479.5 451.3,1495.7 451.6,1493.6 451.9,1491.9 452.3,1492.7 452.6,1490.6 453.0,1494.5 453.3,1491.1 453.6,1494.7 454.0,1495.0 454.3,1493.2 454.6,1498.1 455.0,1487.0 455.3,1493.5 455.7,1487.2 456.0,1494.5 456.3,1494.5 456.7,1493.3 457.0,1494.7 457.3,1489.3 457.7,1491.6 458.0,1494.2 458.4,1496.1 458.7,1487.2 459.0,1489.8 459.4,1492.5 459.7,1494.8 460.0,1497.2 460.4,1491.7 460.7,1497.0 461.1,1495.5 461.4,1500.5 461.7,1498.1 462.1,1492.4 462.4,1500.0 462.7,1495.7 463.1,1489.3 463.4,1503.7 463.8,1493.6 464.1,1484.1 464.4,1488.5 464.8,1500.9 465.1,1494.8 465.4,1495.2 465.8,1494.5 466.1,1499.1 466.5,1491.0 466.8,1500.8 467.1,1483.0 467.5,1493.7 467.8,1487.2 468.1,1497.3 468.5,1493.1 468.8,1495.4 469.2,1494.9 469.5,1492.1 469.8,1497.9 470.2,1491.5 470.5,1491.7 470.8,1492.0 471.2,1491.5 471.5,1503.0 471.9,1495.1 472.2,1510.9 472.5,1493.7 472.9,1495.1 473.2,1495.1 473.5,1493.8 473.9,1492.1 474.2,1481.0 474.6,1500.1 474.9,1493.4 475.2,1485.6 475.6,1493.3 475.9,1489.1 476.2,1492.5 476.6,1492.0 476.9,1501.0 477.3,1492.0 477.6,1493.7 477.9,1495.0 478.3,1495.5 478.6,1492.7 478.9,1495.0 479.3,1496.3 479.6,1495.3 480.0,1495.1 480.3,1494.9 480.6,1492.2 481.0,1510.5 481.3,1492.2 481.6,1496.0 482.0,1474.1 482.3,1493.8 482.7,1491.5 483.0,1493.4 483.3,1492.6 483.7,1491.6 484.0,1491.6 484.3,1483.8 484.7,1478.9 485.0,1491.8 485.3,1484.8 485.7,1493.7 486.0,1494.8 486.4,1492.7 486.7,1492.3 487.0,1492.1 487.4,1495.6 487.7,1507.8 488.0,1491.5 488.4,1501.9 488.7,1494.6 489.1,1496.2 489.4,1489.5 489.7,1486.1 490.1,1493.8 490.4,1493.4 490.7,1495.7 491.1,1487.7 491.4,1493.4 491.8,1494.3 492.1,1492.1 492.4,1501.0 492.8,1501.4 493.1,1492.5 493.4,1494.8 493.8,1487.4 494.1,1487.2 494.5,1485.8 494.8,1494.3 495.1,1496.4 495.5,1486.2 495.8,1491.0 496.1,1501.1 496.5,1497.2 496.8,1495.8 497.2,1498.3 497.5,1500.2 497.8,1493.5 498.2,1487.4 498.5,1496.6 498.8,1494.6 499.2,1500.6 499.5,1493.9 499.9,1485.8 500.2,1485.7 500.5,1495.3 500.9,1490.4 501.2,1485.7 501.5,1487.5 501.9,1495.9 502.2,1495.6 502.6,1491.7 502.9,1493.8 503.2,1480.3 503.6,1494.2 503.9,1494.3 504.2,1492.2 504.6,1494.1 504.9,1494.2 505.3,1499.3 505.6,1485.5 505.9,1495.7 506.3,1495.3 506.6,1491.5 506.9,1494.1 507.3,1506.8 507.6,1492.1 508.0,1495.2 508.3,1492.1 508.6,1492.3 509.0,1493.7 509.3,1480.3 509.6,1495.2 510.0,1493.8 510.3,1493.4 510.7,1491.6 511.0,1495.5 511.3,1500.0 511.7,1489.4 512.0,1491.7 512.3,1492.9 512.7,1494.4 513.0,1491.9 513.4,1491.8 513.7,1494.0 514.0,1486.9 514.4,1500.1 514.7,1494.8 515.0,1492.7 515.4,1492.6 515.7,1487.2 516.1,1492.6 516.4,1495.3 516.7,1492.2 517.1,1493.9 517.4,1495.5 517.7,1501.1 518.1,1493.9 518.4,1489.4 518.8,1486.3 519.1,1500.3 519.4,1488.2 519.8,1483.0 520.1,1500.6 520.4,1495.2 520.8,1493.7 521.1,1487.9 521.5,1495.0 521.8,1493.3 522.1,1495.0 522.5,1492.1 522.8,1486.6 523.1,1494.4 523.5,1493.1 523.8,1493.4 524.2,1495.1 524.5,1493.0 524.8,1495.0 525.2,1486.2 525.5,1487.9 525.8,1492.6 526.2,1491.6 526.5,1495.8 526.8,1493.5 527.2,1486.1 527.5,1499.9 527.9,1495.3 528.2,1492.5 528.5,1496.9 528.9,1493.4 529.2,1502.3 529.5,1501.8 529.9,1494.4 530.2,1492.5 530.6,1494.1 530.9,1493.3 531.2,1484.5 531.6,1489.2 531.9,1494.6 532.2,1492.0 532.6,1492.7 532.9,1497.9 533.3,1492.7 533.6,1494.4 533.9,1487.9 534.3,1499.8 534.6,1495.1 534.9,1498.1 535.3,1491.6 535.6,1494.8 536.0,1487.1 536.3,1491.3 536.6,1493.5 537.0,1486.1 537.3,1493.7 537.6,1493.2 538.0,1495.0 538.3,1489.8 538.7,1492.9 539.0,1495.3 539.3,1495.1 539.7,1493.1 540.0,1491.3 540.3,1492.0 540.7,1495.0 541.0,1498.5 541.4,1485.1 541.7,1497.2 542.0,1494.5 542.4,1492.4 542.7,1488.3 543.0,1494.5 543.4,1500.4 543.7,1487.9 544.1,1501.9 544.4,1493.3 544.7,1496.6 545.1,1493.6 545.4,1495.5 545.7,1492.0 546.1,1497.1 546.4,1495.5 546.8,1488.2 547.1,1492.1 547.4,1492.8 547.8,1494.0 548.1,1494.2 548.4,1491.7 548.8,1515.1 549.1,1495.1 549.5,1495.7 549.8,1487.4 550.1,1491.8 550.5,1493.4 550.8,1494.2 551.1,1494.6 551.5,1499.1 551.8,1485.7 552.2,1499.0 552.5,1491.7 552.8,1488.1 553.2,1498.6 553.5,1499.2 553.8,1506.8 554.2,1493.5 554.5,1494.4 554.9,1494.7 555.2,1498.0 555.5,1492.6 555.9,1483.7 556.2,1493.0 556.5,1485.7 556.9,1496.8 557.2,1493.9 557.6,1495.1 557.9,1508.9 558.2,1495.9 558.6,1492.1 558.9,1480.3 559.2,1494.6 559.6,1490.8 559.9,1495.1 560.3,1494.5 560.6,1487.7 560.9,1497.3 561.3,1493.5 561.6,1489.6 561.9,1485.6 562.3,1492.1 562.6,1495.1 563.0,1494.8 563.3,1501.6 563.6,1492.3 564.0,1493.0 564.3,1493.0 564.6,1498.2 565.0,1491.5 565.3,1482.4 565.7,1487.3 566.0,1501.9 566.3,1494.3 566.7,1493.5 567.0,1493.3 567.3,1493.8 567.7,1492.2 568.0,1501.0 568.3,1487.4 568.7,1492.0 569.0,1493.7 569.4,1494.2 569.7,1495.8 570.0,1491.9 570.4,1492.5 570.7,1492.6 571.0,1495.3 571.4,1506.8 571.7,1493.0 572.1,1493.9 572.4,1485.6 572.7,1495.7 573.1,1492.7 573.4,1494.1 573.7,1498.2 574.1,1493.0 574.4,1514.0 574.8,1495.8 575.1,1492.9 575.4,1470.6 575.8,1494.5 576.1,1492.9 576.4,1495.5 576.8,1492.4 577.1,1495.9 577.5,1492.5 577.8,1486.3 578.1,1501.3 578.5,1492.1 578.8,1486.7 579.1,1492.9 579.5,1494.7 579.8,1491.6 580.2,1492.7 580.5,1490.8 580.8,1491.4 581.2,1494.4 581.5,1495.5 581.8,1486.8 582.2,1493.0 582.5,1492.0 582.9,1483.0 583.2,1499.6 583.5,1489.7 583.9,1494.7 584.2,1493.4 584.5,1495.6 584.9,1491.8 585.2,1499.3 585.6,1493.3 585.9,1492.1 586.2,1494.2"/>
<line x1="340.10" y1="1493.72" x2="586.40" y2="1493.72" class="z"/>
<rect x="340.10" y="1420.00" width="246.30" height="182.80" class="f"/>
<line x1="335.60" y1="1421.00" x2="340.10" y2="1421.00" class="k"/>
<text transform="translate(331.90 1423.00) scale(0.8 1)" class="yl" text-anchor="end">.0004</text>
<line x1="335.60" y1="1457.36" x2="340.10" y2="1457.36" class="k"/>
<text transform="translate(331.90 1459.36) scale(0.8 1)" class="yl" text-anchor="end">.0002</text>
<line x1="335.60" y1="1493.72" x2="340.10" y2="1493.72" class="k"/>
<text transform="translate(331.90 1495.72) scale(0.8 1)" class="yl" text-anchor="end">.0000</text>
<line x1="335.60" y1="1530.08" x2="340.10" y2="1530.08" class="k"/>
<text transform="translate(331.90 1532.08) scale(0.8 1)" class="yl" text-anchor="end">-.0002</text>
<line x1="335.60" y1="1566.44" x2="340.10" y2="1566.44" class="k"/>
<text transform="translate(331.90 1568.44) scale(0.8 1)" class="yl" text-anchor="end">-.0004</text>
<line x1="335.60" y1="1602.80" x2="340.10" y2="1602.80" class="k"/>
<text transform="translate(331.90 1604.80) scale(0.8 1)" class="yl" text-anchor="end">-.0006</text>
<line x1="350.40" y1="1602.80" x2="350.40" y2="1606.60" class="k"/>
<line x1="359.67" y1="1602.80" x2="359.67" y2="1606.60" class="k"/>
<line x1="370.41" y1="1602.80" x2="370.41" y2="1609.30" class="k"/>
<line x1="380.66" y1="1602.80" x2="380.66" y2="1606.60" class="k"/>
<line x1="390.43" y1="1602.80" x2="390.43" y2="1606.60" class="k"/>
<line x1="401.16" y1="1602.80" x2="401.16" y2="1609.30" class="k"/>
<line x1="411.90" y1="1602.80" x2="411.90" y2="1606.60" class="k"/>
<line x1="422.15" y1="1602.80" x2="422.15" y2="1606.60" class="k"/>
<line x1="432.40" y1="1602.80" x2="432.40" y2="1609.30" class="k"/>
<line x1="443.14" y1="1602.80" x2="443.14" y2="1606.60" class="k"/>
<line x1="452.91" y1="1602.80" x2="452.91" y2="1606.60" class="k"/>
<line x1="463.64" y1="1602.80" x2="463.64" y2="1609.30" class="k"/>
<line x1="472.92" y1="1602.80" x2="472.92" y2="1606.60" class="k"/>
<line x1="482.19" y1="1602.80" x2="482.19" y2="1606.60" class="k"/>
<line x1="493.42" y1="1602.80" x2="493.42" y2="1609.30" class="k"/>
<line x1="503.67" y1="1602.80" x2="503.67" y2="1606.60" class="k"/>
<line x1="513.43" y1="1602.80" x2="513.43" y2="1606.60" class="k"/>
<line x1="524.17" y1="1602.80" x2="524.17" y2="1609.30" class="k"/>
<line x1="534.42" y1="1602.80" x2="534.42" y2="1606.60" class="k"/>
<line x1="545.16" y1="1602.80" x2="545.16" y2="1606.60" class="k"/>
<line x1="555.41" y1="1602.80" x2="555.41" y2="1609.30" class="k"/>
<line x1="565.66" y1="1602.80" x2="565.66" y2="1606.60" class="k"/>
<line x1="575.91" y1="1602.80" x2="575.91" y2="1606.60" class="k"/>
<line x1="586.40" y1="1602.80" x2="586.40" y2="1609.30" class="k"/>
<text transform="translate(355.43 1621.00) scale(0.8 1)" class="r" text-anchor="middle">I</text>
<text transform="translate(386.09 1621.00) scale(0.8 1)" class="r" text-anchor="middle">II</text>
<text transform="translate(416.92 1621.00) scale(0.8 1)" class="r" text-anchor="middle">III</text>
<text transform="translate(447.92 1621.00) scale(0.8 1)" class="r" text-anchor="middle">IV</text>
<text transform="translate(402.76 1639.80) scale(0.765 1)" class="yr" text-anchor="middle">2020</text>
<text transform="translate(478.58 1621.00) scale(0.8 1)" class="r" text-anchor="middle">I</text>
<text transform="translate(509.07 1621.00) scale(0.8 1)" class="r" text-anchor="middle">II</text>
<text transform="translate(539.90 1621.00) scale(0.8 1)" class="r" text-anchor="middle">III</text>
<text transform="translate(570.90 1621.00) scale(0.8 1)" class="r" text-anchor="middle">IV</text>
<text transform="translate(525.91 1639.80) scale(0.765 1)" class="yr" text-anchor="middle">2021</text></svg></body></html>
